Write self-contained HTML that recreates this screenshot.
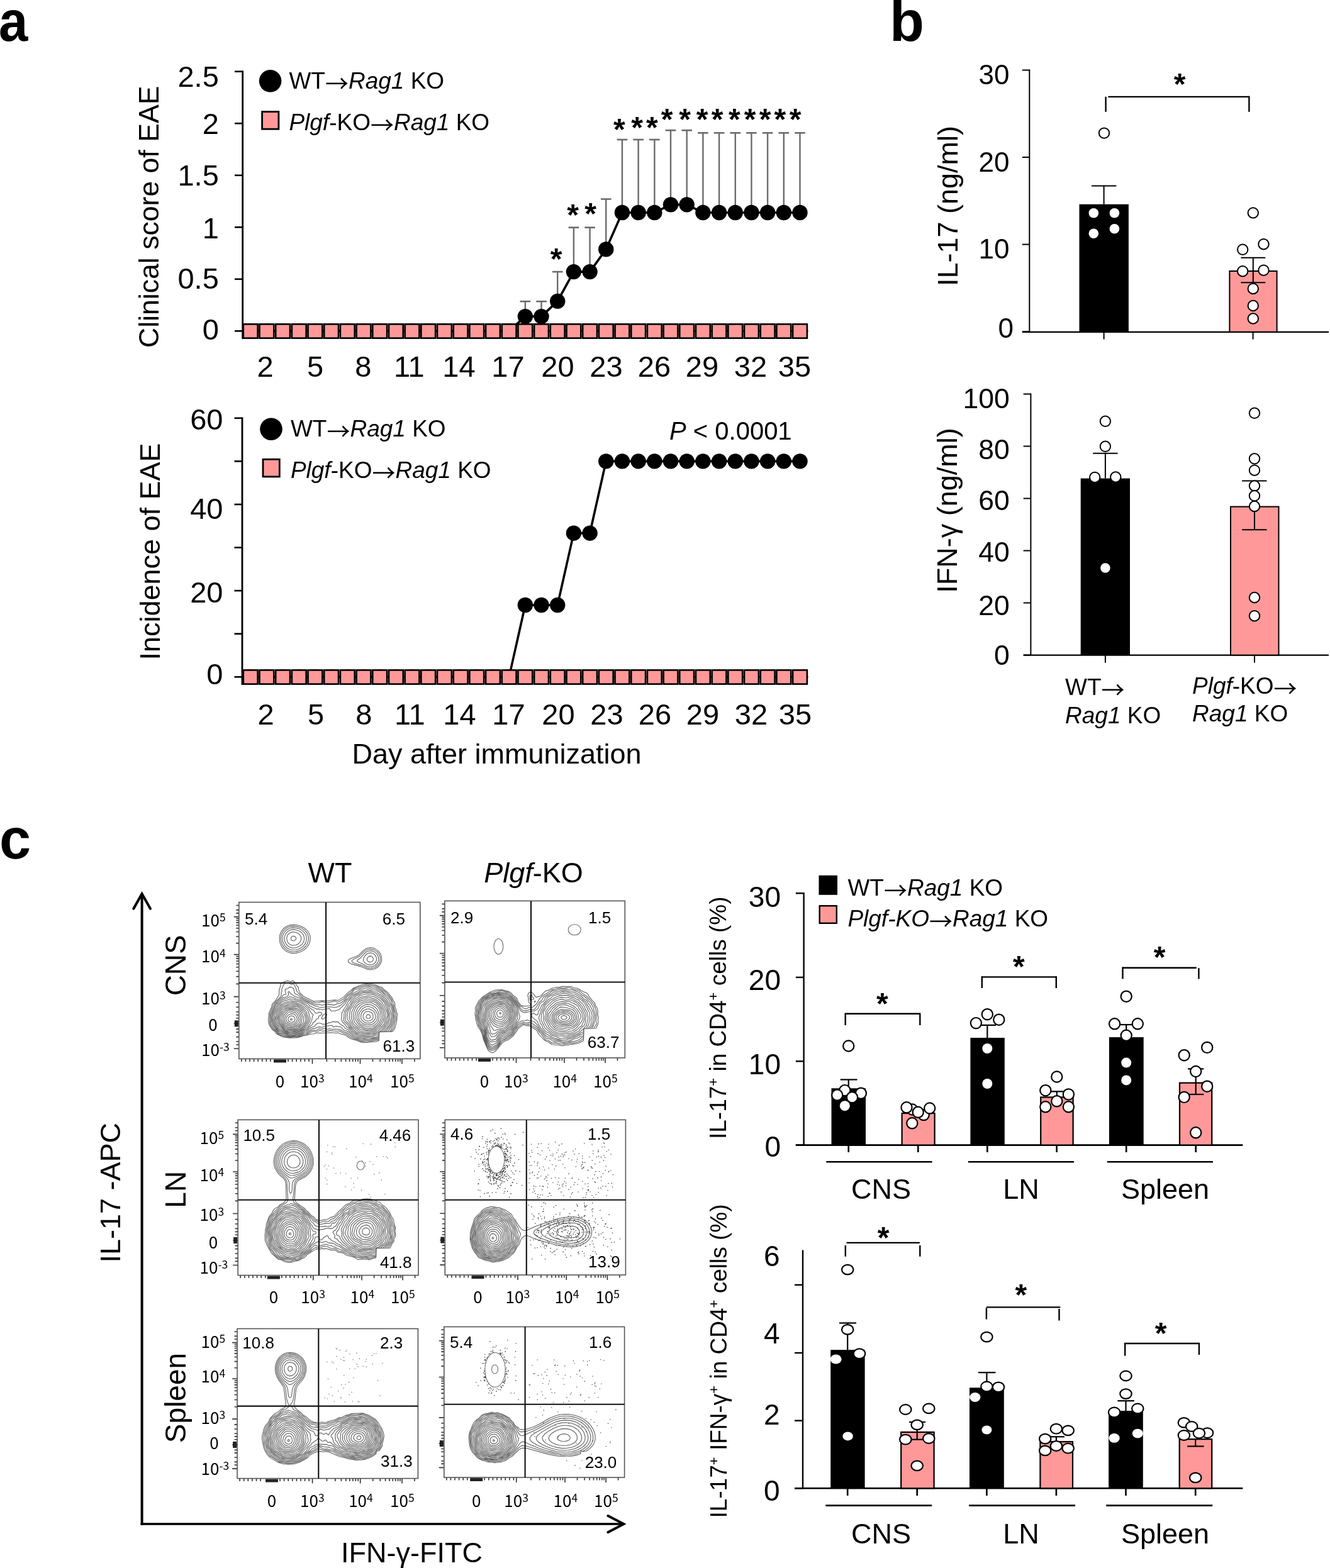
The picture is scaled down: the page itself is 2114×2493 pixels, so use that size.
<!DOCTYPE html>
<html><head><meta charset="utf-8"><title>Figure</title>
<style>
html,body{margin:0;padding:0;background:#fff;}
svg{display:block;}
svg{font-family:'Liberation Sans', Arial, sans-serif;}
text{fill:#000;}
</style></head>
<body>
<svg width="2114" height="2493" viewBox="0 0 2114 2493">
<rect x="0" y="0" width="2114" height="2493" fill="#fff"/>
<text transform="translate(-2 64.5) scale(0.925 1)" x="0" y="0" font-size="90" font-weight="bold">a</text>
<text x="1414" y="64.5" font-size="90" font-weight="bold">b</text>
<text x="-1" y="1364.5" font-size="90" font-weight="bold">c</text>
<line x1="385.7" y1="112.5" x2="385.7" y2="539" stroke="#000" stroke-width="2.8"/>
<line x1="373" y1="113.7" x2="385.7" y2="113.7" stroke="#000" stroke-width="2.6"/>
<line x1="373" y1="196.22" x2="385.7" y2="196.22" stroke="#000" stroke-width="2.6"/>
<line x1="373" y1="278.74" x2="385.7" y2="278.74" stroke="#000" stroke-width="2.6"/>
<line x1="373" y1="361.26" x2="385.7" y2="361.26" stroke="#000" stroke-width="2.6"/>
<line x1="373" y1="443.78" x2="385.7" y2="443.78" stroke="#000" stroke-width="2.6"/>
<line x1="373" y1="526.3" x2="385.7" y2="526.3" stroke="#000" stroke-width="2.6"/>
<text x="347.8" y="137.5" font-size="47" text-anchor="end">2.5</text>
<text x="347.8" y="212.6" font-size="47" text-anchor="end">2</text>
<text x="347.8" y="294.5" font-size="47" text-anchor="end">1.5</text>
<text x="347.8" y="378.5" font-size="47" text-anchor="end">1</text>
<text x="347.8" y="459" font-size="47" text-anchor="end">0.5</text>
<text x="347.8" y="540.2" font-size="47" text-anchor="end">0</text>
<text x="421.5" y="598.6" font-size="47" text-anchor="middle">2</text>
<text x="501" y="598.6" font-size="47" text-anchor="middle">5</text>
<text x="577.3" y="598.6" font-size="47" text-anchor="middle">8</text>
<text x="650.3" y="598.6" font-size="47" text-anchor="middle">11</text>
<text x="729.5" y="598.6" font-size="47" text-anchor="middle">14</text>
<text x="807.5" y="598.6" font-size="47" text-anchor="middle">17</text>
<text x="886.5" y="598.6" font-size="47" text-anchor="middle">20</text>
<text x="963.5" y="598.6" font-size="47" text-anchor="middle">23</text>
<text x="1040" y="598.6" font-size="47" text-anchor="middle">26</text>
<text x="1116" y="598.6" font-size="47" text-anchor="middle">29</text>
<text x="1193" y="598.6" font-size="47" text-anchor="middle">32</text>
<text x="1263" y="598.6" font-size="47" text-anchor="middle">35</text>
<text x="252.5" y="344.8" font-size="44.6" text-anchor="middle" transform="rotate(-90 252.5 344.8)">Clinical score of EAE</text>
<line x1="834.85" y1="503.1" x2="834.85" y2="479.2" stroke="#6b6b6b" stroke-width="2.4"/>
<line x1="826.55" y1="479.2" x2="843.14" y2="479.2" stroke="#6b6b6b" stroke-width="2.6"/>
<line x1="860.53" y1="503.1" x2="860.53" y2="479.2" stroke="#6b6b6b" stroke-width="2.4"/>
<line x1="852.23" y1="479.2" x2="868.83" y2="479.2" stroke="#6b6b6b" stroke-width="2.6"/>
<line x1="886.21" y1="478.9" x2="886.21" y2="432.1" stroke="#6b6b6b" stroke-width="2.4"/>
<line x1="877.91" y1="432.1" x2="894.51" y2="432.1" stroke="#6b6b6b" stroke-width="2.6"/>
<line x1="911.9" y1="432.1" x2="911.9" y2="361.7" stroke="#6b6b6b" stroke-width="2.4"/>
<line x1="903.6" y1="361.7" x2="920.2" y2="361.7" stroke="#6b6b6b" stroke-width="2.6"/>
<line x1="937.59" y1="432.1" x2="937.59" y2="361.7" stroke="#6b6b6b" stroke-width="2.4"/>
<line x1="929.29" y1="361.7" x2="945.88" y2="361.7" stroke="#6b6b6b" stroke-width="2.6"/>
<line x1="963.27" y1="396.4" x2="963.27" y2="316.5" stroke="#6b6b6b" stroke-width="2.4"/>
<line x1="954.97" y1="316.5" x2="971.57" y2="316.5" stroke="#6b6b6b" stroke-width="2.6"/>
<line x1="988.95" y1="338" x2="988.95" y2="222" stroke="#6b6b6b" stroke-width="2.4"/>
<line x1="980.65" y1="222" x2="997.25" y2="222" stroke="#6b6b6b" stroke-width="2.6"/>
<line x1="1014.64" y1="338" x2="1014.64" y2="222" stroke="#6b6b6b" stroke-width="2.4"/>
<line x1="1006.34" y1="222" x2="1022.94" y2="222" stroke="#6b6b6b" stroke-width="2.6"/>
<line x1="1040.33" y1="338" x2="1040.33" y2="222" stroke="#6b6b6b" stroke-width="2.4"/>
<line x1="1032.03" y1="222" x2="1048.62" y2="222" stroke="#6b6b6b" stroke-width="2.6"/>
<line x1="1066.01" y1="325.4" x2="1066.01" y2="207.2" stroke="#6b6b6b" stroke-width="2.4"/>
<line x1="1057.71" y1="207.2" x2="1074.31" y2="207.2" stroke="#6b6b6b" stroke-width="2.6"/>
<line x1="1091.69" y1="325.4" x2="1091.69" y2="207.2" stroke="#6b6b6b" stroke-width="2.4"/>
<line x1="1083.39" y1="207.2" x2="1099.99" y2="207.2" stroke="#6b6b6b" stroke-width="2.6"/>
<line x1="1117.38" y1="338" x2="1117.38" y2="211.3" stroke="#6b6b6b" stroke-width="2.4"/>
<line x1="1109.08" y1="211.3" x2="1125.68" y2="211.3" stroke="#6b6b6b" stroke-width="2.6"/>
<line x1="1143.07" y1="338" x2="1143.07" y2="211.3" stroke="#6b6b6b" stroke-width="2.4"/>
<line x1="1134.77" y1="211.3" x2="1151.37" y2="211.3" stroke="#6b6b6b" stroke-width="2.6"/>
<line x1="1168.75" y1="338" x2="1168.75" y2="211.3" stroke="#6b6b6b" stroke-width="2.4"/>
<line x1="1160.45" y1="211.3" x2="1177.05" y2="211.3" stroke="#6b6b6b" stroke-width="2.6"/>
<line x1="1194.43" y1="338" x2="1194.43" y2="211.3" stroke="#6b6b6b" stroke-width="2.4"/>
<line x1="1186.13" y1="211.3" x2="1202.73" y2="211.3" stroke="#6b6b6b" stroke-width="2.6"/>
<line x1="1220.12" y1="338" x2="1220.12" y2="211.3" stroke="#6b6b6b" stroke-width="2.4"/>
<line x1="1211.82" y1="211.3" x2="1228.42" y2="211.3" stroke="#6b6b6b" stroke-width="2.6"/>
<line x1="1245.8" y1="338" x2="1245.8" y2="211.3" stroke="#6b6b6b" stroke-width="2.4"/>
<line x1="1237.5" y1="211.3" x2="1254.1" y2="211.3" stroke="#6b6b6b" stroke-width="2.6"/>
<line x1="1271.49" y1="338" x2="1271.49" y2="211.3" stroke="#6b6b6b" stroke-width="2.4"/>
<line x1="1263.19" y1="211.3" x2="1279.79" y2="211.3" stroke="#6b6b6b" stroke-width="2.6"/>
<polyline points="398.2,526.3 423.88,526.3 449.57,526.3 475.25,526.3 500.94,526.3 526.62,526.3 552.31,526.3 578,526.3 603.68,526.3 629.37,526.3 655.05,526.3 680.73,526.3 706.42,526.3 732.11,526.3 757.79,526.3 783.47,526.3 809.16,526.3 834.85,503.1 860.53,503.1 886.21,478.9 911.9,432.1 937.59,432.1 963.27,396.4 988.95,338 1014.64,338 1040.33,338 1066.01,325.4 1091.69,325.4 1117.38,338 1143.07,338 1168.75,338 1194.43,338 1220.12,338 1245.8,338 1271.49,338" fill="none" stroke="#000" stroke-width="3.6"/>
<circle cx="398.2" cy="526.3" r="12.2" fill="#000" stroke="none" stroke-width="0"/>
<circle cx="423.88" cy="526.3" r="12.2" fill="#000" stroke="none" stroke-width="0"/>
<circle cx="449.57" cy="526.3" r="12.2" fill="#000" stroke="none" stroke-width="0"/>
<circle cx="475.25" cy="526.3" r="12.2" fill="#000" stroke="none" stroke-width="0"/>
<circle cx="500.94" cy="526.3" r="12.2" fill="#000" stroke="none" stroke-width="0"/>
<circle cx="526.62" cy="526.3" r="12.2" fill="#000" stroke="none" stroke-width="0"/>
<circle cx="552.31" cy="526.3" r="12.2" fill="#000" stroke="none" stroke-width="0"/>
<circle cx="578" cy="526.3" r="12.2" fill="#000" stroke="none" stroke-width="0"/>
<circle cx="603.68" cy="526.3" r="12.2" fill="#000" stroke="none" stroke-width="0"/>
<circle cx="629.37" cy="526.3" r="12.2" fill="#000" stroke="none" stroke-width="0"/>
<circle cx="655.05" cy="526.3" r="12.2" fill="#000" stroke="none" stroke-width="0"/>
<circle cx="680.73" cy="526.3" r="12.2" fill="#000" stroke="none" stroke-width="0"/>
<circle cx="706.42" cy="526.3" r="12.2" fill="#000" stroke="none" stroke-width="0"/>
<circle cx="732.11" cy="526.3" r="12.2" fill="#000" stroke="none" stroke-width="0"/>
<circle cx="757.79" cy="526.3" r="12.2" fill="#000" stroke="none" stroke-width="0"/>
<circle cx="783.47" cy="526.3" r="12.2" fill="#000" stroke="none" stroke-width="0"/>
<circle cx="809.16" cy="526.3" r="12.2" fill="#000" stroke="none" stroke-width="0"/>
<circle cx="834.85" cy="503.1" r="12.2" fill="#000" stroke="none" stroke-width="0"/>
<circle cx="860.53" cy="503.1" r="12.2" fill="#000" stroke="none" stroke-width="0"/>
<circle cx="886.21" cy="478.9" r="12.2" fill="#000" stroke="none" stroke-width="0"/>
<circle cx="911.9" cy="432.1" r="12.2" fill="#000" stroke="none" stroke-width="0"/>
<circle cx="937.59" cy="432.1" r="12.2" fill="#000" stroke="none" stroke-width="0"/>
<circle cx="963.27" cy="396.4" r="12.2" fill="#000" stroke="none" stroke-width="0"/>
<circle cx="988.95" cy="338" r="12.2" fill="#000" stroke="none" stroke-width="0"/>
<circle cx="1014.64" cy="338" r="12.2" fill="#000" stroke="none" stroke-width="0"/>
<circle cx="1040.33" cy="338" r="12.2" fill="#000" stroke="none" stroke-width="0"/>
<circle cx="1066.01" cy="325.4" r="12.2" fill="#000" stroke="none" stroke-width="0"/>
<circle cx="1091.69" cy="325.4" r="12.2" fill="#000" stroke="none" stroke-width="0"/>
<circle cx="1117.38" cy="338" r="12.2" fill="#000" stroke="none" stroke-width="0"/>
<circle cx="1143.07" cy="338" r="12.2" fill="#000" stroke="none" stroke-width="0"/>
<circle cx="1168.75" cy="338" r="12.2" fill="#000" stroke="none" stroke-width="0"/>
<circle cx="1194.43" cy="338" r="12.2" fill="#000" stroke="none" stroke-width="0"/>
<circle cx="1220.12" cy="338" r="12.2" fill="#000" stroke="none" stroke-width="0"/>
<circle cx="1245.8" cy="338" r="12.2" fill="#000" stroke="none" stroke-width="0"/>
<circle cx="1271.49" cy="338" r="12.2" fill="#000" stroke="none" stroke-width="0"/>
<line x1="386" y1="526.3" x2="1284.49" y2="526.3" stroke="#300" stroke-width="2.5"/>
<rect x="386.8" y="515.4" width="22.8" height="22.2" fill="#FF9999" stroke="#000" stroke-width="2.6"/>
<rect x="412.49" y="515.4" width="22.8" height="22.2" fill="#FF9999" stroke="#000" stroke-width="2.6"/>
<rect x="438.17" y="515.4" width="22.8" height="22.2" fill="#FF9999" stroke="#000" stroke-width="2.6"/>
<rect x="463.86" y="515.4" width="22.8" height="22.2" fill="#FF9999" stroke="#000" stroke-width="2.6"/>
<rect x="489.54" y="515.4" width="22.8" height="22.2" fill="#FF9999" stroke="#000" stroke-width="2.6"/>
<rect x="515.23" y="515.4" width="22.8" height="22.2" fill="#FF9999" stroke="#000" stroke-width="2.6"/>
<rect x="540.91" y="515.4" width="22.8" height="22.2" fill="#FF9999" stroke="#000" stroke-width="2.6"/>
<rect x="566.6" y="515.4" width="22.8" height="22.2" fill="#FF9999" stroke="#000" stroke-width="2.6"/>
<rect x="592.28" y="515.4" width="22.8" height="22.2" fill="#FF9999" stroke="#000" stroke-width="2.6"/>
<rect x="617.97" y="515.4" width="22.8" height="22.2" fill="#FF9999" stroke="#000" stroke-width="2.6"/>
<rect x="643.65" y="515.4" width="22.8" height="22.2" fill="#FF9999" stroke="#000" stroke-width="2.6"/>
<rect x="669.33" y="515.4" width="22.8" height="22.2" fill="#FF9999" stroke="#000" stroke-width="2.6"/>
<rect x="695.02" y="515.4" width="22.8" height="22.2" fill="#FF9999" stroke="#000" stroke-width="2.6"/>
<rect x="720.71" y="515.4" width="22.8" height="22.2" fill="#FF9999" stroke="#000" stroke-width="2.6"/>
<rect x="746.39" y="515.4" width="22.8" height="22.2" fill="#FF9999" stroke="#000" stroke-width="2.6"/>
<rect x="772.07" y="515.4" width="22.8" height="22.2" fill="#FF9999" stroke="#000" stroke-width="2.6"/>
<rect x="797.76" y="515.4" width="22.8" height="22.2" fill="#FF9999" stroke="#000" stroke-width="2.6"/>
<rect x="823.45" y="515.4" width="22.8" height="22.2" fill="#FF9999" stroke="#000" stroke-width="2.6"/>
<rect x="849.13" y="515.4" width="22.8" height="22.2" fill="#FF9999" stroke="#000" stroke-width="2.6"/>
<rect x="874.81" y="515.4" width="22.8" height="22.2" fill="#FF9999" stroke="#000" stroke-width="2.6"/>
<rect x="900.5" y="515.4" width="22.8" height="22.2" fill="#FF9999" stroke="#000" stroke-width="2.6"/>
<rect x="926.19" y="515.4" width="22.8" height="22.2" fill="#FF9999" stroke="#000" stroke-width="2.6"/>
<rect x="951.87" y="515.4" width="22.8" height="22.2" fill="#FF9999" stroke="#000" stroke-width="2.6"/>
<rect x="977.55" y="515.4" width="22.8" height="22.2" fill="#FF9999" stroke="#000" stroke-width="2.6"/>
<rect x="1003.24" y="515.4" width="22.8" height="22.2" fill="#FF9999" stroke="#000" stroke-width="2.6"/>
<rect x="1028.92" y="515.4" width="22.8" height="22.2" fill="#FF9999" stroke="#000" stroke-width="2.6"/>
<rect x="1054.61" y="515.4" width="22.8" height="22.2" fill="#FF9999" stroke="#000" stroke-width="2.6"/>
<rect x="1080.29" y="515.4" width="22.8" height="22.2" fill="#FF9999" stroke="#000" stroke-width="2.6"/>
<rect x="1105.98" y="515.4" width="22.8" height="22.2" fill="#FF9999" stroke="#000" stroke-width="2.6"/>
<rect x="1131.66" y="515.4" width="22.8" height="22.2" fill="#FF9999" stroke="#000" stroke-width="2.6"/>
<rect x="1157.35" y="515.4" width="22.8" height="22.2" fill="#FF9999" stroke="#000" stroke-width="2.6"/>
<rect x="1183.03" y="515.4" width="22.8" height="22.2" fill="#FF9999" stroke="#000" stroke-width="2.6"/>
<rect x="1208.72" y="515.4" width="22.8" height="22.2" fill="#FF9999" stroke="#000" stroke-width="2.6"/>
<rect x="1234.4" y="515.4" width="22.8" height="22.2" fill="#FF9999" stroke="#000" stroke-width="2.6"/>
<rect x="1260.09" y="515.4" width="22.8" height="22.2" fill="#FF9999" stroke="#000" stroke-width="2.6"/>
<text x="884.2" y="427.5" font-size="48" text-anchor="middle" font-weight="bold">*</text>
<text x="910.6" y="357.6" font-size="48" text-anchor="middle" font-weight="bold">*</text>
<text x="938.6" y="355.6" font-size="48" text-anchor="middle" font-weight="bold">*</text>
<text x="984.4" y="222" font-size="48" text-anchor="middle" font-weight="bold">*</text>
<text x="1012.6" y="219.3" font-size="48" text-anchor="middle" font-weight="bold">*</text>
<text x="1036.4" y="219.3" font-size="48" text-anchor="middle" font-weight="bold">*</text>
<text x="1060.2" y="205.8" font-size="48" text-anchor="middle" font-weight="bold">*</text>
<text x="1088.6" y="205.8" font-size="48" text-anchor="middle" font-weight="bold">*</text>
<text x="1116" y="205.8" font-size="48" text-anchor="middle" font-weight="bold">*</text>
<text x="1140.2" y="205.8" font-size="48" text-anchor="middle" font-weight="bold">*</text>
<text x="1167.4" y="205.8" font-size="48" text-anchor="middle" font-weight="bold">*</text>
<text x="1192.2" y="205.8" font-size="48" text-anchor="middle" font-weight="bold">*</text>
<text x="1216.2" y="205.8" font-size="48" text-anchor="middle" font-weight="bold">*</text>
<text x="1239.8" y="205.8" font-size="48" text-anchor="middle" font-weight="bold">*</text>
<text x="1264" y="205.8" font-size="48" text-anchor="middle" font-weight="bold">*</text>
<circle cx="429.6" cy="128.8" r="17.8" fill="#000" stroke="none" stroke-width="0"/>
<text x="459.4" y="141" font-size="37">WT<tspan font-family="'Noto Sans CJK JP', sans-serif" baseline-shift="-5.5">→</tspan><tspan font-style="italic">Rag1</tspan> KO</text>
<rect x="416.6" y="177.6" width="26.3" height="27.6" fill="#FF9999" stroke="#000" stroke-width="2.8"/>
<text x="459.4" y="206.8" font-size="37"><tspan font-style="italic">Plgf</tspan>-KO<tspan font-family="'Noto Sans CJK JP', sans-serif" baseline-shift="-5.5">→</tspan><tspan font-style="italic">Rag1</tspan> KO</text>
<line x1="385" y1="663.5" x2="385" y2="1089" stroke="#000" stroke-width="2.8"/>
<line x1="372.5" y1="664.8" x2="385" y2="664.8" stroke="#000" stroke-width="2.6"/>
<line x1="372.5" y1="733.38" x2="385" y2="733.38" stroke="#000" stroke-width="2.6"/>
<line x1="372.5" y1="801.96" x2="385" y2="801.96" stroke="#000" stroke-width="2.6"/>
<line x1="372.5" y1="870.54" x2="385" y2="870.54" stroke="#000" stroke-width="2.6"/>
<line x1="372.5" y1="939.12" x2="385" y2="939.12" stroke="#000" stroke-width="2.6"/>
<line x1="372.5" y1="1007.7" x2="385" y2="1007.7" stroke="#000" stroke-width="2.6"/>
<line x1="372.5" y1="1076.28" x2="385" y2="1076.28" stroke="#000" stroke-width="2.6"/>
<text x="354.5" y="682.6" font-size="47" text-anchor="end">60</text>
<text x="354.5" y="824.7" font-size="47" text-anchor="end">40</text>
<text x="354.5" y="957.8" font-size="47" text-anchor="end">20</text>
<text x="354.5" y="1087.5" font-size="47" text-anchor="end">0</text>
<text x="422.5" y="1151.5" font-size="47" text-anchor="middle">2</text>
<text x="502" y="1151.5" font-size="47" text-anchor="middle">5</text>
<text x="578.3" y="1151.5" font-size="47" text-anchor="middle">8</text>
<text x="651.3" y="1151.5" font-size="47" text-anchor="middle">11</text>
<text x="730.5" y="1151.5" font-size="47" text-anchor="middle">14</text>
<text x="808.5" y="1151.5" font-size="47" text-anchor="middle">17</text>
<text x="887.5" y="1151.5" font-size="47" text-anchor="middle">20</text>
<text x="964.5" y="1151.5" font-size="47" text-anchor="middle">23</text>
<text x="1041" y="1151.5" font-size="47" text-anchor="middle">26</text>
<text x="1117" y="1151.5" font-size="47" text-anchor="middle">29</text>
<text x="1194" y="1151.5" font-size="47" text-anchor="middle">32</text>
<text x="1264" y="1151.5" font-size="47" text-anchor="middle">35</text>
<text x="789.5" y="1213.7" font-size="45" text-anchor="middle">Day after immunization</text>
<text x="254" y="877" font-size="45" text-anchor="middle" transform="rotate(-90 254 877)">Incidence of EAE</text>
<polyline points="398.2,1076.3 423.88,1076.3 449.57,1076.3 475.25,1076.3 500.94,1076.3 526.62,1076.3 552.31,1076.3 578,1076.3 603.68,1076.3 629.37,1076.3 655.05,1076.3 680.73,1076.3 706.42,1076.3 732.11,1076.3 757.79,1076.3 783.47,1076.3 809.16,1076.3 834.85,962 860.53,962 886.21,962 911.9,847.7 937.59,847.7 963.27,733.4 988.95,733.4 1014.64,733.4 1040.33,733.4 1066.01,733.4 1091.69,733.4 1117.38,733.4 1143.07,733.4 1168.75,733.4 1194.43,733.4 1220.12,733.4 1245.8,733.4 1271.49,733.4" fill="none" stroke="#000" stroke-width="3.6"/>
<circle cx="398.2" cy="1076.3" r="12.2" fill="#000" stroke="none" stroke-width="0"/>
<circle cx="423.88" cy="1076.3" r="12.2" fill="#000" stroke="none" stroke-width="0"/>
<circle cx="449.57" cy="1076.3" r="12.2" fill="#000" stroke="none" stroke-width="0"/>
<circle cx="475.25" cy="1076.3" r="12.2" fill="#000" stroke="none" stroke-width="0"/>
<circle cx="500.94" cy="1076.3" r="12.2" fill="#000" stroke="none" stroke-width="0"/>
<circle cx="526.62" cy="1076.3" r="12.2" fill="#000" stroke="none" stroke-width="0"/>
<circle cx="552.31" cy="1076.3" r="12.2" fill="#000" stroke="none" stroke-width="0"/>
<circle cx="578" cy="1076.3" r="12.2" fill="#000" stroke="none" stroke-width="0"/>
<circle cx="603.68" cy="1076.3" r="12.2" fill="#000" stroke="none" stroke-width="0"/>
<circle cx="629.37" cy="1076.3" r="12.2" fill="#000" stroke="none" stroke-width="0"/>
<circle cx="655.05" cy="1076.3" r="12.2" fill="#000" stroke="none" stroke-width="0"/>
<circle cx="680.73" cy="1076.3" r="12.2" fill="#000" stroke="none" stroke-width="0"/>
<circle cx="706.42" cy="1076.3" r="12.2" fill="#000" stroke="none" stroke-width="0"/>
<circle cx="732.11" cy="1076.3" r="12.2" fill="#000" stroke="none" stroke-width="0"/>
<circle cx="757.79" cy="1076.3" r="12.2" fill="#000" stroke="none" stroke-width="0"/>
<circle cx="783.47" cy="1076.3" r="12.2" fill="#000" stroke="none" stroke-width="0"/>
<circle cx="809.16" cy="1076.3" r="12.2" fill="#000" stroke="none" stroke-width="0"/>
<circle cx="834.85" cy="962" r="12.2" fill="#000" stroke="none" stroke-width="0"/>
<circle cx="860.53" cy="962" r="12.2" fill="#000" stroke="none" stroke-width="0"/>
<circle cx="886.21" cy="962" r="12.2" fill="#000" stroke="none" stroke-width="0"/>
<circle cx="911.9" cy="847.7" r="12.2" fill="#000" stroke="none" stroke-width="0"/>
<circle cx="937.59" cy="847.7" r="12.2" fill="#000" stroke="none" stroke-width="0"/>
<circle cx="963.27" cy="733.4" r="12.2" fill="#000" stroke="none" stroke-width="0"/>
<circle cx="988.95" cy="733.4" r="12.2" fill="#000" stroke="none" stroke-width="0"/>
<circle cx="1014.64" cy="733.4" r="12.2" fill="#000" stroke="none" stroke-width="0"/>
<circle cx="1040.33" cy="733.4" r="12.2" fill="#000" stroke="none" stroke-width="0"/>
<circle cx="1066.01" cy="733.4" r="12.2" fill="#000" stroke="none" stroke-width="0"/>
<circle cx="1091.69" cy="733.4" r="12.2" fill="#000" stroke="none" stroke-width="0"/>
<circle cx="1117.38" cy="733.4" r="12.2" fill="#000" stroke="none" stroke-width="0"/>
<circle cx="1143.07" cy="733.4" r="12.2" fill="#000" stroke="none" stroke-width="0"/>
<circle cx="1168.75" cy="733.4" r="12.2" fill="#000" stroke="none" stroke-width="0"/>
<circle cx="1194.43" cy="733.4" r="12.2" fill="#000" stroke="none" stroke-width="0"/>
<circle cx="1220.12" cy="733.4" r="12.2" fill="#000" stroke="none" stroke-width="0"/>
<circle cx="1245.8" cy="733.4" r="12.2" fill="#000" stroke="none" stroke-width="0"/>
<circle cx="1271.49" cy="733.4" r="12.2" fill="#000" stroke="none" stroke-width="0"/>
<line x1="385" y1="1076.3" x2="1284.49" y2="1076.3" stroke="#300" stroke-width="2.5"/>
<rect x="386.8" y="1065.4" width="22.8" height="22.2" fill="#FF9999" stroke="#000" stroke-width="2.6"/>
<rect x="412.49" y="1065.4" width="22.8" height="22.2" fill="#FF9999" stroke="#000" stroke-width="2.6"/>
<rect x="438.17" y="1065.4" width="22.8" height="22.2" fill="#FF9999" stroke="#000" stroke-width="2.6"/>
<rect x="463.86" y="1065.4" width="22.8" height="22.2" fill="#FF9999" stroke="#000" stroke-width="2.6"/>
<rect x="489.54" y="1065.4" width="22.8" height="22.2" fill="#FF9999" stroke="#000" stroke-width="2.6"/>
<rect x="515.23" y="1065.4" width="22.8" height="22.2" fill="#FF9999" stroke="#000" stroke-width="2.6"/>
<rect x="540.91" y="1065.4" width="22.8" height="22.2" fill="#FF9999" stroke="#000" stroke-width="2.6"/>
<rect x="566.6" y="1065.4" width="22.8" height="22.2" fill="#FF9999" stroke="#000" stroke-width="2.6"/>
<rect x="592.28" y="1065.4" width="22.8" height="22.2" fill="#FF9999" stroke="#000" stroke-width="2.6"/>
<rect x="617.97" y="1065.4" width="22.8" height="22.2" fill="#FF9999" stroke="#000" stroke-width="2.6"/>
<rect x="643.65" y="1065.4" width="22.8" height="22.2" fill="#FF9999" stroke="#000" stroke-width="2.6"/>
<rect x="669.33" y="1065.4" width="22.8" height="22.2" fill="#FF9999" stroke="#000" stroke-width="2.6"/>
<rect x="695.02" y="1065.4" width="22.8" height="22.2" fill="#FF9999" stroke="#000" stroke-width="2.6"/>
<rect x="720.71" y="1065.4" width="22.8" height="22.2" fill="#FF9999" stroke="#000" stroke-width="2.6"/>
<rect x="746.39" y="1065.4" width="22.8" height="22.2" fill="#FF9999" stroke="#000" stroke-width="2.6"/>
<rect x="772.07" y="1065.4" width="22.8" height="22.2" fill="#FF9999" stroke="#000" stroke-width="2.6"/>
<rect x="797.76" y="1065.4" width="22.8" height="22.2" fill="#FF9999" stroke="#000" stroke-width="2.6"/>
<rect x="823.45" y="1065.4" width="22.8" height="22.2" fill="#FF9999" stroke="#000" stroke-width="2.6"/>
<rect x="849.13" y="1065.4" width="22.8" height="22.2" fill="#FF9999" stroke="#000" stroke-width="2.6"/>
<rect x="874.81" y="1065.4" width="22.8" height="22.2" fill="#FF9999" stroke="#000" stroke-width="2.6"/>
<rect x="900.5" y="1065.4" width="22.8" height="22.2" fill="#FF9999" stroke="#000" stroke-width="2.6"/>
<rect x="926.19" y="1065.4" width="22.8" height="22.2" fill="#FF9999" stroke="#000" stroke-width="2.6"/>
<rect x="951.87" y="1065.4" width="22.8" height="22.2" fill="#FF9999" stroke="#000" stroke-width="2.6"/>
<rect x="977.55" y="1065.4" width="22.8" height="22.2" fill="#FF9999" stroke="#000" stroke-width="2.6"/>
<rect x="1003.24" y="1065.4" width="22.8" height="22.2" fill="#FF9999" stroke="#000" stroke-width="2.6"/>
<rect x="1028.92" y="1065.4" width="22.8" height="22.2" fill="#FF9999" stroke="#000" stroke-width="2.6"/>
<rect x="1054.61" y="1065.4" width="22.8" height="22.2" fill="#FF9999" stroke="#000" stroke-width="2.6"/>
<rect x="1080.29" y="1065.4" width="22.8" height="22.2" fill="#FF9999" stroke="#000" stroke-width="2.6"/>
<rect x="1105.98" y="1065.4" width="22.8" height="22.2" fill="#FF9999" stroke="#000" stroke-width="2.6"/>
<rect x="1131.66" y="1065.4" width="22.8" height="22.2" fill="#FF9999" stroke="#000" stroke-width="2.6"/>
<rect x="1157.35" y="1065.4" width="22.8" height="22.2" fill="#FF9999" stroke="#000" stroke-width="2.6"/>
<rect x="1183.03" y="1065.4" width="22.8" height="22.2" fill="#FF9999" stroke="#000" stroke-width="2.6"/>
<rect x="1208.72" y="1065.4" width="22.8" height="22.2" fill="#FF9999" stroke="#000" stroke-width="2.6"/>
<rect x="1234.4" y="1065.4" width="22.8" height="22.2" fill="#FF9999" stroke="#000" stroke-width="2.6"/>
<rect x="1260.09" y="1065.4" width="22.8" height="22.2" fill="#FF9999" stroke="#000" stroke-width="2.6"/>
<text x="1064" y="698.6" font-size="40"><tspan font-style="italic">P</tspan> &lt; 0.0001</text>
<circle cx="431" cy="682.2" r="17.8" fill="#000" stroke="none" stroke-width="0"/>
<text x="461.9" y="694.4" font-size="37">WT<tspan font-family="'Noto Sans CJK JP', sans-serif" baseline-shift="-5.5">→</tspan><tspan font-style="italic">Rag1</tspan> KO</text>
<rect x="418" y="730.3" width="26.3" height="27.6" fill="#FF9999" stroke="#000" stroke-width="2.8"/>
<text x="461.9" y="759.5" font-size="37"><tspan font-style="italic">Plgf</tspan>-KO<tspan font-family="'Noto Sans CJK JP', sans-serif" baseline-shift="-5.5">→</tspan><tspan font-style="italic">Rag1</tspan> KO</text>
<line x1="1636.3" y1="110.6" x2="1636.3" y2="528" stroke="#000" stroke-width="2"/>
<line x1="1624.8" y1="111.5" x2="1636.3" y2="111.5" stroke="#000" stroke-width="2"/>
<line x1="1624.8" y1="250" x2="1636.3" y2="250" stroke="#000" stroke-width="2"/>
<line x1="1624.8" y1="388.6" x2="1636.3" y2="388.6" stroke="#000" stroke-width="2"/>
<line x1="1624.8" y1="527.3" x2="1636.3" y2="527.3" stroke="#000" stroke-width="2"/>
<line x1="1624.8" y1="527.8" x2="2112" y2="527.8" stroke="#000" stroke-width="2.2"/>
<line x1="1754.6" y1="527.8" x2="1754.6" y2="539.5" stroke="#000" stroke-width="2"/>
<line x1="1991.6" y1="527.8" x2="1991.6" y2="539.5" stroke="#000" stroke-width="2"/>
<text x="1604.5" y="133.5" font-size="44" text-anchor="end">30</text>
<text x="1604.5" y="272.5" font-size="44" text-anchor="end">20</text>
<text x="1604.5" y="410.5" font-size="44" text-anchor="end">10</text>
<text x="1611" y="536.5" font-size="44" text-anchor="end">0</text>
<text x="1522" y="327.5" font-size="45" text-anchor="middle" transform="rotate(-90 1522 327.5)">IL-17 (ng/ml)</text>
<rect x="1715.5" y="324.8" width="78.4" height="203" fill="#000" stroke="none" stroke-width="0"/>
<line x1="1754.6" y1="324.8" x2="1754.6" y2="295.6" stroke="#000" stroke-width="2"/>
<line x1="1735" y1="295.6" x2="1774.4" y2="295.6" stroke="#000" stroke-width="2"/>
<circle cx="1738.3" cy="338.8" r="7.8" fill="#fff" stroke="none" stroke-width="0"/>
<circle cx="1771.4" cy="338.8" r="7.8" fill="#fff" stroke="none" stroke-width="0"/>
<circle cx="1738.3" cy="371.3" r="7.8" fill="#fff" stroke="none" stroke-width="0"/>
<circle cx="1771.4" cy="363.7" r="7.8" fill="#fff" stroke="none" stroke-width="0"/>
<circle cx="1755" cy="211.6" r="8.2" fill="#fff" stroke="#000" stroke-width="2"/>
<rect x="1954.4" y="431" width="75.2" height="96.8" fill="#FF9999" stroke="#000" stroke-width="2"/>
<line x1="1991.8" y1="409.8" x2="1991.8" y2="449.2" stroke="#000" stroke-width="2"/>
<line x1="1972.4" y1="409.8" x2="2011.3" y2="409.8" stroke="#000" stroke-width="2"/>
<line x1="1972.4" y1="449.2" x2="2011.3" y2="449.2" stroke="#000" stroke-width="2"/>
<circle cx="1991.8" cy="338.4" r="8.2" fill="#fff" stroke="#000" stroke-width="2"/>
<circle cx="1975.2" cy="396.8" r="8.2" fill="#fff" stroke="#000" stroke-width="2"/>
<circle cx="2008.5" cy="388.2" r="8.2" fill="#fff" stroke="#000" stroke-width="2"/>
<circle cx="1975.2" cy="431.2" r="8.2" fill="#fff" stroke="#000" stroke-width="2"/>
<circle cx="2008.5" cy="429.7" r="8.2" fill="#fff" stroke="#000" stroke-width="2"/>
<circle cx="1991.8" cy="458.9" r="8.2" fill="#fff" stroke="#000" stroke-width="2"/>
<circle cx="1991.8" cy="486" r="8.2" fill="#fff" stroke="#000" stroke-width="2"/>
<circle cx="1991.8" cy="506.5" r="8.2" fill="#fff" stroke="#000" stroke-width="2"/>
<line x1="1761.4" y1="153.8" x2="1986" y2="153.8" stroke="#000" stroke-width="2.2"/>
<line x1="1757.6" y1="153.8" x2="1757.6" y2="177.8" stroke="#000" stroke-width="2.4"/>
<line x1="1985.4" y1="152.8" x2="1985.4" y2="177.8" stroke="#000" stroke-width="2.4"/>
<text x="1875.2" y="150.3" font-size="48" text-anchor="middle" font-weight="bold">*</text>
<line x1="1638.4" y1="625.6" x2="1638.4" y2="1042" stroke="#000" stroke-width="2"/>
<line x1="1626.7" y1="626.5" x2="1638.4" y2="626.5" stroke="#000" stroke-width="2"/>
<line x1="1626.7" y1="709.5" x2="1638.4" y2="709.5" stroke="#000" stroke-width="2"/>
<line x1="1626.7" y1="792.5" x2="1638.4" y2="792.5" stroke="#000" stroke-width="2"/>
<line x1="1626.7" y1="875.5" x2="1638.4" y2="875.5" stroke="#000" stroke-width="2"/>
<line x1="1626.7" y1="958.5" x2="1638.4" y2="958.5" stroke="#000" stroke-width="2"/>
<line x1="1626.7" y1="1041.5" x2="1638.4" y2="1041.5" stroke="#000" stroke-width="2"/>
<line x1="1626.7" y1="1041.6" x2="2112" y2="1041.6" stroke="#000" stroke-width="2.2"/>
<line x1="1756.9" y1="1041.6" x2="1756.9" y2="1053.8" stroke="#000" stroke-width="2"/>
<line x1="1994" y1="1041.6" x2="1994" y2="1053.8" stroke="#000" stroke-width="2"/>
<text x="1604.8" y="648.6" font-size="44.5" text-anchor="end">100</text>
<text x="1604.8" y="729.5" font-size="44.5" text-anchor="end">80</text>
<text x="1604.8" y="811.3" font-size="44.5" text-anchor="end">60</text>
<text x="1604.8" y="892.5" font-size="44.5" text-anchor="end">40</text>
<text x="1604.8" y="978" font-size="44.5" text-anchor="end">20</text>
<text x="1604.8" y="1056.7" font-size="44.5" text-anchor="end">0</text>
<text x="1521" y="811.5" font-size="45" text-anchor="middle" transform="rotate(-90 1521 811.5)">IFN-γ (ng/ml)</text>
<rect x="1717.7" y="760.6" width="78.3" height="281" fill="#000" stroke="none" stroke-width="0"/>
<line x1="1756.9" y1="760.6" x2="1756.9" y2="720.8" stroke="#000" stroke-width="2"/>
<line x1="1737.2" y1="720.8" x2="1776.6" y2="720.8" stroke="#000" stroke-width="2"/>
<circle cx="1756.9" cy="903" r="7.8" fill="#fff" stroke="none" stroke-width="0"/>
<circle cx="1756.9" cy="669.8" r="8.2" fill="#fff" stroke="#000" stroke-width="2"/>
<circle cx="1756.9" cy="709.8" r="8.2" fill="#fff" stroke="#000" stroke-width="2"/>
<circle cx="1740.2" cy="758.9" r="8.2" fill="#fff" stroke="#000" stroke-width="2"/>
<circle cx="1773.3" cy="758.5" r="8.2" fill="#fff" stroke="#000" stroke-width="2"/>
<rect x="1956" y="805.6" width="76.5" height="236" fill="#FF9999" stroke="#000" stroke-width="2"/>
<line x1="1994" y1="764.5" x2="1994" y2="842.2" stroke="#000" stroke-width="2"/>
<line x1="1974.1" y1="764.5" x2="2013.5" y2="764.5" stroke="#000" stroke-width="2"/>
<line x1="1974.1" y1="842.2" x2="2013.5" y2="842.2" stroke="#000" stroke-width="2"/>
<circle cx="1994" cy="656.8" r="8.2" fill="#fff" stroke="#000" stroke-width="2"/>
<circle cx="1994" cy="729.3" r="8.2" fill="#fff" stroke="#000" stroke-width="2"/>
<circle cx="1994" cy="747.7" r="8.2" fill="#fff" stroke="#000" stroke-width="2"/>
<circle cx="1994" cy="772.5" r="8.2" fill="#fff" stroke="#000" stroke-width="2"/>
<circle cx="1994" cy="788.3" r="8.2" fill="#fff" stroke="#000" stroke-width="2"/>
<circle cx="1994" cy="805" r="8.2" fill="#fff" stroke="#000" stroke-width="2"/>
<circle cx="1994" cy="950" r="8.2" fill="#fff" stroke="#000" stroke-width="2"/>
<circle cx="1994" cy="979.2" r="8.2" fill="#fff" stroke="#000" stroke-width="2"/>
<text x="1693" y="1105.4" font-size="37">WT<tspan font-family="'Noto Sans CJK JP', sans-serif" baseline-shift="-5.5">→</tspan></text>
<text x="1693" y="1149.6" font-size="37"><tspan font-style="italic">Rag1</tspan> KO</text>
<text x="1895" y="1102.6" font-size="37"><tspan font-style="italic">Plgf</tspan>-KO<tspan font-family="'Noto Sans CJK JP', sans-serif" baseline-shift="-5.5">→</tspan></text>
<text x="1895" y="1147.3" font-size="37"><tspan font-style="italic">Rag1</tspan> KO</text>
<line x1="1277.6" y1="1419" x2="1277.6" y2="1820.6" stroke="#000" stroke-width="2.4"/>
<line x1="1264.8" y1="1420.2" x2="1277.6" y2="1420.2" stroke="#000" stroke-width="2.4"/>
<line x1="1264.8" y1="1553.9" x2="1277.6" y2="1553.9" stroke="#000" stroke-width="2.4"/>
<line x1="1264.8" y1="1687.3" x2="1277.6" y2="1687.3" stroke="#000" stroke-width="2.4"/>
<line x1="1264.8" y1="1820.6" x2="1277.6" y2="1820.6" stroke="#000" stroke-width="2.4"/>
<line x1="1264.8" y1="1820.6" x2="1975.4" y2="1820.6" stroke="#000" stroke-width="2.6"/>
<line x1="1348.7" y1="1820.6" x2="1348.7" y2="1832" stroke="#000" stroke-width="2.6"/>
<line x1="1459.3" y1="1820.6" x2="1459.3" y2="1832" stroke="#000" stroke-width="2.6"/>
<line x1="1569.3" y1="1820.6" x2="1569.3" y2="1832" stroke="#000" stroke-width="2.6"/>
<line x1="1679.6" y1="1820.6" x2="1679.6" y2="1832" stroke="#000" stroke-width="2.6"/>
<line x1="1790.2" y1="1820.6" x2="1790.2" y2="1832" stroke="#000" stroke-width="2.6"/>
<line x1="1900.7" y1="1820.6" x2="1900.7" y2="1832" stroke="#000" stroke-width="2.6"/>
<text x="1241" y="1441.6" font-size="46" text-anchor="end">30</text>
<text x="1241" y="1574.3" font-size="46" text-anchor="end">20</text>
<text x="1241" y="1708" font-size="46" text-anchor="end">10</text>
<text x="1241" y="1839" font-size="46" text-anchor="end">0</text>
<line x1="1313.3" y1="1847.2" x2="1481.6" y2="1847.2" stroke="#000" stroke-width="2.6"/>
<line x1="1538.8" y1="1847.2" x2="1707.1" y2="1847.2" stroke="#000" stroke-width="2.6"/>
<line x1="1759.7" y1="1847.2" x2="1928" y2="1847.2" stroke="#000" stroke-width="2.6"/>
<text x="1400.5" y="1906" font-size="45" text-anchor="middle">CNS</text>
<text x="1623" y="1906" font-size="45" text-anchor="middle">LN</text>
<text x="1852" y="1906" font-size="45" text-anchor="middle">Spleen</text>
<text x="1154.5" y="1618.2" font-size="37" text-anchor="middle" transform="rotate(-90 1154.5 1618.2)">IL-17<tspan font-size="22" dy="-13">+</tspan><tspan dy="13"> in CD4</tspan><tspan font-size="22" dy="-13">+</tspan><tspan dy="13"> cells (%)</tspan></text>
<rect x="1301.5" y="1391.8" width="29.5" height="31" fill="#000" stroke="none" stroke-width="0"/>
<text x="1347.4" y="1423.8" font-size="37">WT<tspan font-family="'Noto Sans CJK JP', sans-serif" baseline-shift="-5.5">→</tspan><tspan font-style="italic">Rag1</tspan> KO</text>
<rect x="1302.7" y="1440.2" width="27.1" height="27.6" fill="#FF9999" stroke="#000" stroke-width="2.4"/>
<text x="1347.4" y="1473.3" font-size="37"><tspan font-style="italic">Plgf-KO</tspan><tspan font-family="'Noto Sans CJK JP', sans-serif" baseline-shift="-5.5">→</tspan><tspan font-style="italic">Rag1</tspan> KO</text>
<rect x="1321.5" y="1730.3" width="54.5" height="90.3" fill="#000" stroke="none" stroke-width="0"/>
<line x1="1348.7" y1="1730.3" x2="1348.7" y2="1716.5" stroke="#000" stroke-width="2.2"/>
<line x1="1335.7" y1="1716.5" x2="1362.6" y2="1716.5" stroke="#000" stroke-width="2.2"/>
<circle cx="1348.7" cy="1663" r="8.6" fill="#fff" stroke="#000" stroke-width="2.2"/>
<circle cx="1342.8" cy="1733.6" r="8.6" fill="#fff" stroke="#000" stroke-width="2.2"/>
<circle cx="1330.7" cy="1741" r="8.6" fill="#fff" stroke="#000" stroke-width="2.2"/>
<circle cx="1368.4" cy="1738.3" r="8.6" fill="#fff" stroke="#000" stroke-width="2.2"/>
<circle cx="1354.5" cy="1744.7" r="8.6" fill="#fff" stroke="#000" stroke-width="2.2"/>
<circle cx="1342.8" cy="1758.2" r="8" fill="#fff" stroke="none" stroke-width="0"/>
<rect x="1433.6" y="1770" width="52" height="50.6" fill="#FF9999" stroke="#000" stroke-width="2.2"/>
<circle cx="1450" cy="1764" r="8.6" fill="#fff" stroke="#000" stroke-width="2.2"/>
<circle cx="1468.2" cy="1772.6" r="8.6" fill="#fff" stroke="#000" stroke-width="2.2"/>
<circle cx="1441" cy="1760.8" r="8.6" fill="#fff" stroke="#000" stroke-width="2.2"/>
<circle cx="1477.7" cy="1762" r="8.6" fill="#fff" stroke="#000" stroke-width="2.2"/>
<circle cx="1459.2" cy="1768.3" r="8.6" fill="#fff" stroke="#000" stroke-width="2.2"/>
<circle cx="1449.8" cy="1785.8" r="8.6" fill="#fff" stroke="#000" stroke-width="2.2"/>
<line x1="1343.7" y1="1611.8" x2="1462.3" y2="1611.8" stroke="#000" stroke-width="2.4"/>
<line x1="1343.7" y1="1610.6" x2="1343.7" y2="1630" stroke="#000" stroke-width="2.4"/>
<line x1="1462.3" y1="1610.6" x2="1462.3" y2="1630" stroke="#000" stroke-width="2.4"/>
<text x="1402.3" y="1612" font-size="48" text-anchor="middle" font-weight="bold">*</text>
<rect x="1542.4" y="1650" width="54.4" height="170.6" fill="#000" stroke="none" stroke-width="0"/>
<line x1="1569.3" y1="1650" x2="1569.3" y2="1629.9" stroke="#000" stroke-width="2.2"/>
<line x1="1556" y1="1629.9" x2="1583" y2="1629.9" stroke="#000" stroke-width="2.2"/>
<circle cx="1569.3" cy="1612.7" r="8.6" fill="#fff" stroke="#000" stroke-width="2.2"/>
<circle cx="1551.4" cy="1626.6" r="8.6" fill="#fff" stroke="#000" stroke-width="2.2"/>
<circle cx="1587.8" cy="1621.2" r="8.6" fill="#fff" stroke="#000" stroke-width="2.2"/>
<circle cx="1569.3" cy="1667" r="8" fill="#fff" stroke="none" stroke-width="0"/>
<circle cx="1569.3" cy="1723" r="8" fill="#fff" stroke="none" stroke-width="0"/>
<rect x="1654.2" y="1744.5" width="51.4" height="76.1" fill="#FF9999" stroke="#000" stroke-width="2.2"/>
<line x1="1679.8" y1="1744.5" x2="1679.8" y2="1735.3" stroke="#000" stroke-width="2.2"/>
<line x1="1662" y1="1735.3" x2="1698" y2="1735.3" stroke="#000" stroke-width="2.2"/>
<circle cx="1679.8" cy="1712" r="8.6" fill="#fff" stroke="#000" stroke-width="2.2"/>
<circle cx="1661.8" cy="1733.7" r="8.6" fill="#fff" stroke="#000" stroke-width="2.2"/>
<circle cx="1698.4" cy="1739.9" r="8.6" fill="#fff" stroke="#000" stroke-width="2.2"/>
<circle cx="1679.8" cy="1750.8" r="8.6" fill="#fff" stroke="#000" stroke-width="2.2"/>
<circle cx="1661.8" cy="1759.8" r="8.6" fill="#fff" stroke="#000" stroke-width="2.2"/>
<circle cx="1698.4" cy="1759.8" r="8.6" fill="#fff" stroke="#000" stroke-width="2.2"/>
<line x1="1560.8" y1="1553.4" x2="1678.8" y2="1553.4" stroke="#000" stroke-width="2.4"/>
<line x1="1560.8" y1="1552.2" x2="1560.8" y2="1571" stroke="#000" stroke-width="2.4"/>
<line x1="1678.8" y1="1552.2" x2="1678.8" y2="1571" stroke="#000" stroke-width="2.4"/>
<text x="1619.3" y="1553" font-size="48" text-anchor="middle" font-weight="bold">*</text>
<rect x="1762.9" y="1649.1" width="54.8" height="171.5" fill="#000" stroke="none" stroke-width="0"/>
<line x1="1790.2" y1="1649.1" x2="1790.2" y2="1629.1" stroke="#000" stroke-width="2.2"/>
<line x1="1777" y1="1629.1" x2="1803.5" y2="1629.1" stroke="#000" stroke-width="2.2"/>
<circle cx="1790.2" cy="1584.2" r="8.6" fill="#fff" stroke="#000" stroke-width="2.2"/>
<circle cx="1771.6" cy="1627.8" r="8.6" fill="#fff" stroke="#000" stroke-width="2.2"/>
<circle cx="1808.3" cy="1627.8" r="8.6" fill="#fff" stroke="#000" stroke-width="2.2"/>
<circle cx="1790.2" cy="1646.3" r="8.6" fill="#fff" stroke="#000" stroke-width="2.2"/>
<circle cx="1790.2" cy="1689.6" r="8" fill="#fff" stroke="none" stroke-width="0"/>
<circle cx="1790.2" cy="1717.4" r="8" fill="#fff" stroke="none" stroke-width="0"/>
<rect x="1875" y="1721.7" width="51.2" height="98.9" fill="#FF9999" stroke="#000" stroke-width="2.2"/>
<line x1="1900.7" y1="1699.4" x2="1900.7" y2="1740" stroke="#000" stroke-width="2.2"/>
<line x1="1888" y1="1699.4" x2="1913.3" y2="1699.4" stroke="#000" stroke-width="2.2"/>
<line x1="1888" y1="1740" x2="1913.3" y2="1740" stroke="#000" stroke-width="2.2"/>
<circle cx="1918.7" cy="1665.4" r="8.6" fill="#fff" stroke="#000" stroke-width="2.2"/>
<circle cx="1882.2" cy="1677.7" r="8.6" fill="#fff" stroke="#000" stroke-width="2.2"/>
<circle cx="1900.7" cy="1703.5" r="8.6" fill="#fff" stroke="#000" stroke-width="2.2"/>
<circle cx="1918.7" cy="1727.2" r="8.6" fill="#fff" stroke="#000" stroke-width="2.2"/>
<circle cx="1882.2" cy="1744.4" r="8.6" fill="#fff" stroke="#000" stroke-width="2.2"/>
<circle cx="1900.7" cy="1800.8" r="8.6" fill="#fff" stroke="#000" stroke-width="2.2"/>
<line x1="1784.5" y1="1538.7" x2="1901.8" y2="1538.7" stroke="#000" stroke-width="2.4"/>
<line x1="1784.5" y1="1537.5" x2="1784.5" y2="1556.4" stroke="#000" stroke-width="2.4"/>
<line x1="1905.4" y1="1539.2" x2="1905.4" y2="1556.4" stroke="#000" stroke-width="2.4"/>
<text x="1843" y="1538.3" font-size="48" text-anchor="middle" font-weight="bold">*</text>
<line x1="1276" y1="1987.5" x2="1276" y2="2366.3" stroke="#000" stroke-width="2.4"/>
<line x1="1263" y1="2042.9" x2="1276" y2="2042.9" stroke="#000" stroke-width="2.4"/>
<line x1="1263" y1="2151" x2="1276" y2="2151" stroke="#000" stroke-width="2.4"/>
<line x1="1263" y1="2258.7" x2="1276" y2="2258.7" stroke="#000" stroke-width="2.4"/>
<line x1="1263" y1="2366.3" x2="1276" y2="2366.3" stroke="#000" stroke-width="2.4"/>
<line x1="1263" y1="2366.3" x2="1975.4" y2="2366.3" stroke="#000" stroke-width="2.6"/>
<line x1="1347.2" y1="2366.3" x2="1347.2" y2="2378" stroke="#000" stroke-width="2.6"/>
<line x1="1457.7" y1="2366.3" x2="1457.7" y2="2378" stroke="#000" stroke-width="2.6"/>
<line x1="1568.4" y1="2366.3" x2="1568.4" y2="2378" stroke="#000" stroke-width="2.6"/>
<line x1="1678.9" y1="2366.3" x2="1678.9" y2="2378" stroke="#000" stroke-width="2.6"/>
<line x1="1789.5" y1="2366.3" x2="1789.5" y2="2378" stroke="#000" stroke-width="2.6"/>
<line x1="1900.2" y1="2366.3" x2="1900.2" y2="2378" stroke="#000" stroke-width="2.6"/>
<text x="1239.5" y="2012.5" font-size="46" text-anchor="end">6</text>
<text x="1239.5" y="2135.6" font-size="46" text-anchor="end">4</text>
<text x="1239.5" y="2264.6" font-size="46" text-anchor="end">2</text>
<text x="1239.5" y="2385.5" font-size="46" text-anchor="end">0</text>
<line x1="1312.3" y1="2393.6" x2="1481" y2="2393.6" stroke="#000" stroke-width="2.6"/>
<line x1="1540.1" y1="2393.6" x2="1709" y2="2393.6" stroke="#000" stroke-width="2.6"/>
<line x1="1758.3" y1="2393.6" x2="1927.2" y2="2393.6" stroke="#000" stroke-width="2.6"/>
<text x="1400.5" y="2453.6" font-size="45" text-anchor="middle">CNS</text>
<text x="1623" y="2453.6" font-size="45" text-anchor="middle">LN</text>
<text x="1852" y="2453.6" font-size="45" text-anchor="middle">Spleen</text>
<text x="1154.5" y="2164" font-size="37" text-anchor="middle" transform="rotate(-90 1154.5 2164)">IL-17<tspan font-size="22" dy="-13">+</tspan><tspan dy="13"> IFN-γ</tspan><tspan font-size="22" dy="-13">+</tspan><tspan dy="13"> in CD4</tspan><tspan font-size="22" dy="-13">+</tspan><tspan dy="13"> cells (%)</tspan></text>
<rect x="1320.2" y="2146.2" width="54.4" height="220.1" fill="#000" stroke="none" stroke-width="0"/>
<line x1="1347.2" y1="2146.2" x2="1347.2" y2="2103.5" stroke="#000" stroke-width="2.2"/>
<line x1="1334" y1="2103.5" x2="1361" y2="2103.5" stroke="#000" stroke-width="2.2"/>
<ellipse cx="1347.2" cy="2018.6" rx="9.2" ry="7.8" fill="#fff" stroke="#000" stroke-width="2.2"/>
<ellipse cx="1347.2" cy="2113.9" rx="9.2" ry="7.8" fill="#fff" stroke="#000" stroke-width="2.2"/>
<ellipse cx="1366" cy="2152.2" rx="9.2" ry="7.8" fill="#fff" stroke="#000" stroke-width="2.2"/>
<ellipse cx="1328.6" cy="2161" rx="9" ry="7.6" fill="#fff" stroke="none" stroke-width="0"/>
<ellipse cx="1347.6" cy="2283.4" rx="8.2" ry="7" fill="#fff" stroke="none" stroke-width="0"/>
<rect x="1432.2" y="2277" width="52.4" height="89.3" fill="#FF9999" stroke="#000" stroke-width="2.2"/>
<line x1="1457.7" y1="2261" x2="1457.7" y2="2288.7" stroke="#000" stroke-width="2.2"/>
<line x1="1445" y1="2261" x2="1471" y2="2261" stroke="#000" stroke-width="2.2"/>
<line x1="1445" y1="2288.7" x2="1471" y2="2288.7" stroke="#000" stroke-width="2.2"/>
<ellipse cx="1439.3" cy="2241" rx="9.2" ry="7.8" fill="#fff" stroke="#000" stroke-width="2.2"/>
<ellipse cx="1476.3" cy="2239.4" rx="9.2" ry="7.8" fill="#fff" stroke="#000" stroke-width="2.2"/>
<ellipse cx="1457.7" cy="2265.4" rx="9.2" ry="7.8" fill="#fff" stroke="#000" stroke-width="2.2"/>
<ellipse cx="1439.3" cy="2288.7" rx="9.2" ry="7.8" fill="#fff" stroke="#000" stroke-width="2.2"/>
<ellipse cx="1476.3" cy="2287" rx="9.2" ry="7.8" fill="#fff" stroke="#000" stroke-width="2.2"/>
<ellipse cx="1457.7" cy="2330.4" rx="9.2" ry="7.8" fill="#fff" stroke="#000" stroke-width="2.2"/>
<line x1="1345.5" y1="1975.9" x2="1461.9" y2="1975.9" stroke="#000" stroke-width="2.4"/>
<line x1="1343.8" y1="1980.1" x2="1343.8" y2="1997.7" stroke="#000" stroke-width="2.4"/>
<line x1="1462.3" y1="1980.1" x2="1462.3" y2="1997.7" stroke="#000" stroke-width="2.4"/>
<text x="1404" y="1984" font-size="48" text-anchor="middle" font-weight="bold">*</text>
<rect x="1541" y="2206.3" width="54.8" height="160" fill="#000" stroke="none" stroke-width="0"/>
<line x1="1568.4" y1="2206.3" x2="1568.4" y2="2182.2" stroke="#000" stroke-width="2.2"/>
<line x1="1555" y1="2182.2" x2="1582.5" y2="2182.2" stroke="#000" stroke-width="2.2"/>
<ellipse cx="1568.4" cy="2125.6" rx="9.2" ry="7.8" fill="#fff" stroke="#000" stroke-width="2.2"/>
<ellipse cx="1568.4" cy="2204.5" rx="9.2" ry="7.8" fill="#fff" stroke="#000" stroke-width="2.2"/>
<ellipse cx="1587" cy="2205.4" rx="9.2" ry="7.8" fill="#fff" stroke="#000" stroke-width="2.2"/>
<ellipse cx="1549.8" cy="2221.5" rx="8.6" ry="7.4" fill="#fff" stroke="none" stroke-width="0"/>
<ellipse cx="1568.4" cy="2273.5" rx="8" ry="7" fill="#fff" stroke="none" stroke-width="0"/>
<rect x="1653.4" y="2292.2" width="51.6" height="74.1" fill="#FF9999" stroke="#000" stroke-width="2.2"/>
<line x1="1678.9" y1="2292.2" x2="1678.9" y2="2284.3" stroke="#000" stroke-width="2.2"/>
<line x1="1667" y1="2284.3" x2="1692" y2="2284.3" stroke="#000" stroke-width="2.2"/>
<ellipse cx="1678.9" cy="2271.7" rx="9.2" ry="7.8" fill="#fff" stroke="#000" stroke-width="2.2"/>
<ellipse cx="1697.7" cy="2274.4" rx="9.2" ry="7.8" fill="#fff" stroke="#000" stroke-width="2.2"/>
<ellipse cx="1661.2" cy="2287.6" rx="9.2" ry="7.8" fill="#fff" stroke="#000" stroke-width="2.2"/>
<ellipse cx="1678.9" cy="2299" rx="9.2" ry="7.8" fill="#fff" stroke="#000" stroke-width="2.2"/>
<ellipse cx="1661.2" cy="2306.4" rx="9.2" ry="7.8" fill="#fff" stroke="#000" stroke-width="2.2"/>
<ellipse cx="1697.7" cy="2302.7" rx="9.2" ry="7.8" fill="#fff" stroke="#000" stroke-width="2.2"/>
<line x1="1567.9" y1="2078.4" x2="1685.3" y2="2078.4" stroke="#000" stroke-width="2.4"/>
<line x1="1567.9" y1="2079.4" x2="1567.9" y2="2097.6" stroke="#000" stroke-width="2.4"/>
<line x1="1683.5" y1="2081" x2="1683.5" y2="2099.5" stroke="#000" stroke-width="2.4"/>
<text x="1622.9" y="2074.6" font-size="48" text-anchor="middle" font-weight="bold">*</text>
<rect x="1762.1" y="2243.1" width="54.7" height="123.2" fill="#000" stroke="none" stroke-width="0"/>
<line x1="1789.5" y1="2243.1" x2="1789.5" y2="2227.2" stroke="#000" stroke-width="2.2"/>
<line x1="1776.3" y1="2227.2" x2="1802.9" y2="2227.2" stroke="#000" stroke-width="2.2"/>
<ellipse cx="1789.5" cy="2187.5" rx="9.2" ry="7.8" fill="#fff" stroke="#000" stroke-width="2.2"/>
<ellipse cx="1789.5" cy="2216.1" rx="9.2" ry="7.8" fill="#fff" stroke="#000" stroke-width="2.2"/>
<ellipse cx="1771.1" cy="2245.5" rx="9.2" ry="7.8" fill="#fff" stroke="#000" stroke-width="2.2"/>
<ellipse cx="1808.3" cy="2239.5" rx="9.2" ry="7.8" fill="#fff" stroke="#000" stroke-width="2.2"/>
<ellipse cx="1771.1" cy="2286.4" rx="8.6" ry="7.4" fill="#fff" stroke="none" stroke-width="0"/>
<ellipse cx="1808.3" cy="2279.1" rx="8.6" ry="7.4" fill="#fff" stroke="none" stroke-width="0"/>
<rect x="1874.7" y="2288.2" width="51.5" height="78.1" fill="#FF9999" stroke="#000" stroke-width="2.2"/>
<line x1="1900.2" y1="2288.2" x2="1900.2" y2="2299.5" stroke="#000" stroke-width="2.2"/>
<line x1="1887.1" y1="2299.5" x2="1913.6" y2="2299.5" stroke="#000" stroke-width="2.2"/>
<ellipse cx="1881.9" cy="2261.9" rx="9.2" ry="7.8" fill="#fff" stroke="#000" stroke-width="2.2"/>
<ellipse cx="1894.2" cy="2268" rx="9.2" ry="7.8" fill="#fff" stroke="#000" stroke-width="2.2"/>
<ellipse cx="1919" cy="2278.2" rx="9.2" ry="7.8" fill="#fff" stroke="#000" stroke-width="2.2"/>
<ellipse cx="1905.9" cy="2278.7" rx="9.2" ry="7.8" fill="#fff" stroke="#000" stroke-width="2.2"/>
<ellipse cx="1881.9" cy="2282" rx="9.2" ry="7.8" fill="#fff" stroke="#000" stroke-width="2.2"/>
<ellipse cx="1900.2" cy="2349.4" rx="9.2" ry="7.8" fill="#fff" stroke="#000" stroke-width="2.2"/>
<line x1="1788.2" y1="2136" x2="1905.9" y2="2136" stroke="#000" stroke-width="2.4"/>
<line x1="1788.2" y1="2134.8" x2="1788.2" y2="2155.6" stroke="#000" stroke-width="2.4"/>
<line x1="1905.9" y1="2134.8" x2="1905.9" y2="2154" stroke="#000" stroke-width="2.4"/>
<text x="1845" y="2135.5" font-size="48" text-anchor="middle" font-weight="bold">*</text>
<path d="M586.6,1619.3 583.6,1619.2 582.0,1617.3 582.3,1614.9 584.2,1613.1 586.6,1613.1 588.4,1614.9 588.6,1617.3 587.9,1618.5 586.6,1619.3 M464.2,1621.6 462.4,1622.0 461.8,1621.5 461.8,1620.3 462.4,1619.7 463.6,1619.7 464.3,1620.3 464.2,1621.6 M586.6,1623.3 583.6,1623.4 581.2,1622.6 578.4,1620.3 577.1,1617.9 577.2,1614.9 578.8,1610.9 580.6,1609.3 583.6,1608.2 586.6,1608.2 589.7,1609.5 592.0,1611.7 593.0,1614.3 593.1,1617.9 592.0,1620.2 589.6,1622.2 586.6,1623.3 M464.8,1625.1 462.4,1625.2 460.6,1624.7 458.8,1623.5 457.9,1622.1 457.8,1620.3 458.6,1617.9 460.0,1616.2 461.8,1615.3 464.2,1615.1 466.0,1615.8 467.8,1617.3 468.7,1619.1 468.9,1621.5 468.2,1623.3 466.8,1624.5 464.8,1625.1 M589.0,1626.4 584.2,1626.8 580.0,1625.9 576.0,1622.7 573.6,1619.7 573.7,1613.7 575.2,1609.5 578.2,1606.5 583.0,1604.2 586.6,1604.1 592.0,1606.6 594.7,1608.9 596.2,1611.9 597.1,1617.3 596.6,1619.7 592.6,1624.6 589.0,1626.4 M464.2,1627.5 460.6,1627.2 457.6,1625.8 455.5,1623.9 454.6,1621.5 455.2,1617.9 457.0,1614.9 460.0,1612.7 463.6,1611.6 466.6,1612.0 469.0,1613.5 471.3,1616.7 472.3,1620.3 471.6,1623.3 469.7,1625.7 467.2,1627.0 464.2,1627.5 M590.2,1629.4 582.4,1629.2 577.6,1627.9 574.0,1625.3 571.6,1622.7 570.4,1620.3 570.4,1613.7 571.3,1610.1 576.4,1603.5 581.8,1600.5 586.0,1600.3 592.6,1602.6 597.1,1607.1 599.8,1612.5 600.0,1618.5 598.9,1622.1 593.8,1627.6 590.2,1629.4 M467.2,1629.4 463.0,1629.7 458.2,1628.5 454.0,1625.9 452.5,1623.3 452.3,1619.7 453.9,1614.3 457.6,1610.4 460.0,1608.9 464.2,1608.7 469.6,1610.1 471.5,1611.9 474.2,1616.7 475.0,1620.9 473.9,1624.5 471.4,1627.3 467.2,1629.4 M592.0,1631.8 583.0,1632.2 574.6,1629.3 572.7,1628.1 570.4,1625.4 567.6,1619.7 567.2,1617.3 567.9,1611.9 569.2,1607.7 574.6,1600.7 580.6,1597.4 583.0,1596.9 587.8,1597.3 590.8,1598.1 593.8,1599.7 596.8,1601.8 599.0,1604.1 601.8,1610.1 602.4,1613.1 602.4,1619.1 601.2,1623.9 599.9,1625.7 595.3,1629.9 592.0,1631.8 M466.6,1631.8 464.2,1631.9 460.6,1631.3 455.8,1629.5 452.1,1626.9 450.1,1622.7 449.9,1619.7 451.7,1613.1 456.4,1608.1 460.0,1606.1 462.4,1606.0 466.6,1606.6 472.0,1608.5 473.8,1610.6 477.3,1617.3 477.3,1622.1 476.5,1625.1 475.6,1626.8 473.2,1628.9 466.6,1631.8 M585.4,1634.7 582.4,1634.8 580.0,1634.2 571.6,1630.1 567.7,1625.7 564.0,1618.5 565.4,1609.5 568.6,1602.3 572.9,1598.1 577.6,1595.3 582.4,1593.8 590.8,1594.4 597.4,1598.0 599.2,1599.5 602.2,1603.1 603.6,1605.9 605.3,1613.7 605.7,1618.5 605.5,1620.3 602.3,1626.9 596.1,1632.3 592.6,1634.2 585.4,1634.7 M466.6,1633.6 464.2,1633.8 458.2,1632.7 452.8,1630.2 450.2,1627.5 447.6,1622.1 447.5,1619.1 450.4,1610.8 455.2,1606.2 459.4,1604.3 467.8,1604.6 470.2,1605.1 473.2,1606.6 475.8,1608.9 480.0,1617.3 480.1,1619.1 479.1,1625.1 478.0,1627.5 474.4,1630.6 466.6,1633.6 M587.8,1636.5 583.6,1637.1 581.2,1636.8 569.8,1631.9 563.8,1625.9 561.3,1617.9 562.2,1609.5 564.8,1602.9 567.4,1598.9 570.4,1596.0 577.0,1592.8 583.0,1591.0 592.6,1592.1 596.8,1594.0 599.2,1595.8 602.8,1599.9 605.6,1604.1 606.9,1610.1 608.1,1613.7 608.3,1620.3 603.8,1628.7 594.4,1635.6 592.0,1636.4 587.8,1636.5 M466.0,1635.3 457.6,1634.4 452.2,1632.0 447.9,1627.5 445.4,1622.1 445.3,1617.9 449.4,1608.3 454.0,1604.5 458.8,1602.6 467.8,1602.4 472.6,1603.6 477.9,1607.7 482.9,1617.9 482.5,1624.5 480.9,1627.5 475.0,1632.3 469.6,1634.5 466.0,1635.3 M586.6,1638.9 581.8,1638.9 572.2,1636.0 565.9,1631.7 562.9,1629.3 561.5,1627.5 558.2,1617.9 558.9,1614.3 558.9,1609.5 561.6,1603.5 566.5,1595.7 568.0,1594.3 574.6,1590.6 578.8,1589.8 583.6,1588.0 593.2,1590.0 598.0,1592.1 603.9,1597.5 608.1,1604.7 610.3,1612.5 610.8,1617.9 609.5,1623.3 606.5,1628.7 605.0,1630.5 598.6,1635.2 593.8,1637.8 586.6,1638.9 M467.2,1636.6 464.2,1636.9 458.2,1636.4 455.2,1635.6 452.2,1633.9 450.0,1632.3 446.5,1628.7 444.6,1625.1 443.7,1622.1 443.3,1619.7 443.5,1617.3 448.6,1605.9 453.1,1602.9 458.8,1600.8 467.2,1600.1 471.4,1600.4 473.8,1601.3 479.6,1606.5 481.2,1609.5 483.7,1612.5 485.9,1618.5 486.0,1620.9 485.3,1624.5 482.2,1629.4 475.0,1634.3 471.4,1635.7 467.2,1636.6 M586.0,1641.3 579.4,1640.7 571.6,1638.7 567.4,1635.3 562.0,1632.3 560.2,1630.3 558.4,1625.4 555.9,1620.9 555.3,1617.9 555.9,1610.1 557.3,1604.1 561.4,1599.3 563.2,1595.0 566.2,1592.4 569.8,1590.8 573.4,1588.2 584.8,1585.3 594.4,1587.9 599.8,1590.6 605.8,1596.3 610.1,1604.1 612.3,1610.1 613.1,1615.5 612.8,1619.1 610.8,1626.9 609.9,1628.7 607.6,1631.1 600.4,1636.9 596.8,1638.1 593.8,1639.9 589.6,1640.3 586.0,1641.3 M466.0,1638.3 457.0,1637.9 454.0,1636.9 450.4,1634.5 444.5,1628.7 442.4,1623.9 441.6,1619.7 442.9,1614.3 446.5,1605.9 448.1,1603.5 450.4,1602.0 458.2,1598.8 465.4,1597.6 470.8,1598.1 473.2,1598.8 480.3,1604.1 482.8,1607.7 485.2,1610.2 488.4,1619.7 488.0,1622.1 486.7,1625.7 482.8,1631.2 475.0,1636.4 466.0,1638.3 M585.4,1643.1 578.8,1642.6 570.4,1640.8 566.8,1637.8 559.4,1632.9 557.9,1631.1 556.1,1626.3 552.8,1621.5 552.1,1619.1 551.8,1614.3 552.8,1608.9 555.5,1602.9 558.9,1598.7 560.2,1595.1 561.6,1593.3 565.0,1590.3 569.2,1588.3 572.8,1585.6 580.6,1584.2 584.8,1582.8 595.6,1585.0 602.2,1589.0 607.0,1593.7 612.0,1602.3 613.2,1605.9 615.3,1610.1 615.9,1614.3 615.5,1617.3 612.8,1627.5 610.6,1631.1 601.0,1639.2 597.4,1640.1 593.8,1641.8 585.4,1643.1 M466.6,1639.6 458.2,1639.7 454.6,1638.8 452.5,1637.7 443.8,1630.7 440.6,1624.5 439.9,1622.1 440.4,1617.3 441.7,1611.9 444.8,1605.3 447.4,1601.3 449.8,1599.7 453.4,1598.9 458.2,1596.7 464.2,1595.3 470.2,1596.0 473.8,1597.3 476.2,1598.5 481.4,1602.3 484.6,1606.3 487.0,1608.3 488.2,1613.2 490.3,1617.9 490.6,1619.7 490.3,1622.1 489.1,1625.1 486.0,1629.9 483.4,1632.8 475.6,1637.8 466.6,1639.6 M590.8,1644.4 580.0,1644.8 572.2,1643.3 568.6,1642.1 563.1,1638.3 557.2,1633.0 555.8,1631.1 553.9,1626.9 549.8,1623.3 548.8,1620.9 549.9,1608.3 553.0,1604.1 554.6,1600.5 557.2,1597.3 559.6,1592.4 565.0,1587.2 568.6,1585.6 572.2,1582.8 583.0,1580.2 585.4,1580.2 595.0,1582.0 604.0,1586.8 610.8,1593.9 611.9,1597.5 614.5,1601.7 615.2,1605.3 617.6,1611.9 617.1,1620.9 614.4,1628.7 612.4,1631.7 606.4,1637.8 603.5,1640.1 602.8,1640.1 602.2,1641.1 590.8,1644.4 M464.2,1641.3 458.2,1641.1 454.0,1639.9 443.8,1633.6 442.2,1631.7 439.0,1625.7 437.9,1622.1 439.8,1611.3 442.6,1605.3 446.7,1599.3 449.2,1597.7 457.6,1594.8 464.2,1593.3 471.4,1594.5 476.8,1596.5 482.2,1600.1 485.8,1603.9 488.8,1605.7 489.9,1607.7 493.1,1619.7 491.4,1625.1 488.7,1629.9 484.0,1634.4 475.6,1639.2 464.2,1641.3 M591.4,1646.8 579.4,1646.6 571.6,1645.2 568.6,1644.0 560.8,1639.2 553.3,1631.1 551.6,1627.5 547.3,1624.5 546.1,1622.1 546.8,1616.1 546.8,1612.5 547.9,1607.1 551.2,1603.1 553.4,1597.5 556.0,1594.5 558.2,1590.3 565.0,1584.1 577.0,1578.4 587.8,1577.9 591.7,1579.5 597.4,1580.5 604.9,1584.3 608.2,1588.8 612.9,1593.3 613.9,1596.9 616.5,1600.5 617.1,1605.3 618.8,1610.1 619.5,1620.3 617.5,1625.1 616.8,1628.7 615.9,1630.5 607.6,1639.7 607.0,1640.1 602.8,1640.3 602.4,1640.7 602.2,1643.5 595.6,1644.8 591.4,1646.8 M465.4,1642.6 460.6,1642.7 455.2,1641.7 443.8,1636.1 442.0,1634.5 440.5,1632.3 437.4,1626.3 436.2,1622.7 437.2,1618.5 436.9,1614.3 437.5,1611.9 440.8,1604.7 445.0,1598.3 450.4,1594.9 462.4,1591.1 473.8,1592.7 477.4,1594.1 484.6,1598.9 487.6,1602.1 490.8,1604.1 493.6,1609.1 497.3,1613.1 497.8,1614.3 496.3,1616.7 495.9,1620.9 492.9,1628.1 488.8,1633.3 485.0,1635.9 480.7,1637.7 476.8,1640.3 465.4,1642.6 M467.8,1495.7 464.8,1495.8 463.0,1494.3 462.4,1491.3 463.0,1489.9 464.2,1488.8 466.0,1488.3 467.8,1488.6 469.4,1489.5 470.3,1490.7 470.6,1491.9 470.2,1493.7 467.8,1495.7 M592.6,1648.5 578.2,1648.1 571.0,1647.0 569.2,1646.4 565.6,1644.0 562.0,1642.6 558.3,1639.5 554.8,1634.9 550.6,1632.6 548.8,1628.8 546.4,1627.2 544.5,1625.1 542.7,1620.9 543.2,1610.7 544.6,1608.9 546.0,1605.3 549.4,1600.5 553.0,1593.2 558.4,1586.8 562.9,1583.1 575.2,1577.0 587.8,1575.7 593.2,1578.1 598.6,1578.2 605.2,1581.9 607.0,1583.4 610.1,1587.9 614.3,1592.1 615.8,1596.3 618.6,1599.9 619.1,1604.1 620.5,1607.1 622.2,1617.9 619.2,1628.7 618.1,1631.1 610.2,1640.1 602.8,1640.4 602.2,1645.6 599.8,1646.3 596.2,1646.5 592.6,1648.5 M466.6,1643.8 461.8,1644.3 458.8,1643.9 453.4,1642.3 443.8,1638.1 441.4,1636.0 438.6,1631.7 436.2,1627.5 434.5,1622.7 435.3,1617.9 434.9,1614.3 435.2,1612.5 439.4,1603.5 442.9,1597.5 449.8,1591.9 454.6,1590.9 460.6,1588.2 466.6,1588.7 470.7,1590.3 476.8,1591.4 481.6,1594.8 487.0,1597.8 489.9,1601.1 493.0,1602.7 495.4,1604.8 498.4,1606.2 500.5,1609.5 502.0,1610.8 503.8,1611.0 506.8,1609.4 510.4,1609.9 511.6,1611.3 511.4,1612.5 510.5,1613.7 506.8,1615.4 506.2,1619.0 503.2,1620.2 501.3,1623.3 497.5,1626.3 496.0,1629.6 493.0,1631.5 489.4,1635.2 485.8,1637.5 481.0,1639.1 476.8,1641.9 466.6,1643.8 M513.4,1620.4 511.8,1620.3 511.0,1619.1 513.0,1614.3 516.4,1612.1 517.6,1611.9 518.8,1612.3 519.4,1613.7 518.3,1616.1 516.7,1617.9 513.4,1620.4 M469.6,1502.7 464.8,1503.1 461.2,1501.9 458.2,1499.3 456.2,1495.5 455.7,1491.3 456.9,1487.1 459.4,1484.1 463.0,1482.1 467.8,1481.8 472.6,1483.2 476.4,1485.9 478.5,1489.5 478.7,1493.7 476.9,1497.9 473.8,1500.9 469.6,1502.7 M590.2,1529.2 587.8,1529.6 586.0,1529.1 584.4,1527.9 583.6,1526.7 583.4,1524.9 583.9,1523.1 585.3,1521.3 586.6,1520.5 588.4,1520.1 590.2,1520.4 592.0,1521.6 593.0,1523.1 593.4,1524.9 593.0,1526.7 592.0,1528.1 590.2,1529.2 M587.2,1650.3 575.8,1649.9 568.6,1648.3 565.0,1645.9 560.8,1644.2 555.9,1640.1 553.6,1636.9 548.8,1635.3 546.4,1631.7 541.2,1628.7 537.4,1625.0 535.6,1624.4 532.6,1624.9 529.6,1624.1 528.4,1624.4 526.0,1626.0 523.0,1625.8 520.0,1627.7 517.6,1628.2 512.8,1628.4 509.2,1626.7 505.6,1626.8 502.6,1628.4 499.6,1631.9 494.8,1633.5 487.0,1639.0 481.6,1640.5 476.8,1643.4 465.4,1645.5 458.8,1645.3 445.0,1640.5 442.6,1639.1 440.7,1637.1 436.1,1630.5 433.4,1625.1 433.1,1622.7 433.5,1612.5 437.9,1602.3 441.9,1595.7 445.0,1593.6 449.2,1589.4 451.0,1588.6 455.2,1588.0 460.0,1584.9 461.2,1584.8 467.2,1586.5 470.8,1588.2 476.2,1589.0 481.6,1592.4 489.3,1595.7 491.8,1599.2 494.8,1600.1 497.2,1601.7 500.2,1602.7 503.2,1604.4 506.2,1604.1 512.2,1605.3 523.0,1603.5 524.2,1604.1 525.4,1606.5 526.2,1607.1 532.6,1607.2 538.5,1605.3 542.8,1601.7 544.8,1599.3 548.2,1596.6 551.4,1590.9 554.8,1588.4 560.0,1582.5 563.8,1580.4 568.0,1578.7 572.8,1575.5 579.4,1574.8 584.8,1573.5 593.8,1575.8 598.6,1575.3 604.0,1577.8 607.6,1580.6 611.2,1585.7 615.9,1590.9 617.8,1595.7 621.3,1600.5 623.1,1607.1 623.1,1611.3 624.1,1615.5 624.0,1617.9 620.6,1630.5 613.1,1640.1 602.8,1640.5 602.2,1647.9 593.2,1650.1 587.2,1650.3 M469.6,1507.0 463.6,1507.1 458.8,1505.1 455.0,1501.5 452.4,1496.1 452.0,1490.7 453.6,1485.3 457.1,1481.1 459.4,1479.5 462.4,1478.4 465.4,1477.9 469.0,1478.1 475.6,1480.2 478.6,1482.1 480.6,1484.1 482.2,1486.5 483.3,1489.5 483.6,1492.5 483.2,1495.5 481.9,1498.5 480.4,1500.8 475.6,1504.8 469.6,1507.0 M590.8,1534.0 586.6,1534.1 583.0,1532.9 579.3,1530.3 577.3,1527.3 577.6,1524.3 580.3,1519.5 583.4,1516.5 586.6,1515.1 590.2,1515.1 593.9,1516.5 596.8,1519.3 598.4,1523.1 598.4,1526.7 597.1,1529.7 594.4,1532.4 590.8,1534.0 M588.4,1652.1 584.8,1652.5 579.4,1651.6 575.2,1652.1 568.0,1649.9 560.2,1645.9 551.8,1639.2 548.2,1638.6 546.5,1637.7 544.3,1635.9 542.2,1633.0 533.8,1631.6 529.6,1633.1 528.2,1630.5 527.2,1630.2 515.8,1631.7 511.6,1633.5 508.0,1632.6 505.6,1633.0 500.8,1635.1 495.4,1636.1 487.0,1641.3 482.2,1641.8 478.0,1644.3 475.0,1645.3 465.4,1646.7 458.8,1646.6 443.8,1641.9 441.4,1639.7 436.8,1634.1 431.9,1625.7 431.7,1614.9 432.0,1612.5 436.6,1601.1 439.7,1595.7 448.6,1587.3 451.0,1586.1 454.6,1585.4 457.3,1583.7 458.7,1581.3 458.6,1579.5 457.9,1577.7 457.9,1577.1 458.8,1576.5 460.0,1576.9 461.7,1579.5 466.5,1583.1 471.4,1585.4 475.6,1586.0 481.0,1589.9 490.6,1594.2 493.0,1596.3 496.0,1597.1 501.4,1599.7 507.4,1601.3 512.8,1601.8 514.6,1601.6 517.6,1600.6 520.6,1601.0 524.8,1600.7 529.0,1601.5 535.0,1601.5 537.7,1599.9 540.4,1599.1 546.4,1594.4 549.9,1589.7 553.6,1586.9 555.5,1584.3 558.1,1581.9 563.8,1577.9 566.8,1576.6 571.6,1573.4 576.4,1572.5 579.4,1571.3 584.8,1570.6 590.2,1572.6 594.4,1572.2 599.2,1572.9 606.4,1576.5 609.0,1578.9 613.3,1584.3 617.5,1588.5 619.0,1591.5 620.1,1595.7 622.6,1598.7 623.4,1600.5 624.9,1607.7 625.0,1611.8 625.7,1616.1 625.4,1620.3 622.2,1631.1 616.4,1640.1 602.8,1640.5 602.2,1650.1 588.4,1652.1 M470.8,1510.0 463.6,1510.3 460.6,1509.5 457.6,1508.1 454.6,1505.8 452.5,1503.3 449.6,1497.3 449.0,1493.7 449.0,1490.1 449.8,1486.5 451.2,1483.5 453.4,1480.5 455.8,1478.3 458.8,1476.5 461.8,1475.5 465.4,1474.9 469.6,1475.2 473.8,1476.1 477.4,1477.6 481.0,1479.9 483.6,1482.3 485.6,1485.3 486.8,1488.3 487.3,1491.9 487.0,1495.5 485.7,1499.1 483.9,1502.1 481.1,1505.1 478.0,1507.3 474.4,1509.0 470.8,1510.0 M591.4,1536.9 587.2,1537.2 583.0,1536.2 574.6,1531.7 569.2,1529.4 567.7,1527.9 568.1,1526.7 573.4,1522.7 580.6,1514.7 583.0,1513.0 586.0,1511.9 590.8,1511.8 595.6,1513.7 599.3,1517.1 601.5,1521.9 601.8,1526.7 599.8,1531.5 596.2,1535.0 591.4,1536.9 M589.0,1653.9 585.4,1654.4 579.4,1653.6 575.8,1654.4 574.0,1654.1 562.6,1649.5 556.0,1645.5 552.4,1642.6 547.6,1641.1 539.2,1636.6 533.2,1636.2 528.4,1636.5 524.2,1635.5 520.0,1636.5 517.0,1635.0 511.6,1636.1 506.8,1635.7 504.0,1637.7 502.6,1638.1 495.4,1638.3 487.0,1643.2 482.2,1643.5 478.0,1645.7 473.8,1646.9 460.6,1648.0 452.2,1646.2 442.9,1643.1 434.8,1634.4 430.9,1628.1 430.3,1626.3 430.2,1613.1 437.0,1596.9 440.2,1592.8 448.4,1584.9 450.4,1581.5 454.3,1581.3 454.6,1580.7 453.1,1574.7 453.4,1573.0 454.0,1572.5 457.6,1571.7 460.0,1569.4 463.0,1569.6 466.0,1571.1 467.1,1572.9 467.8,1577.7 469.0,1580.1 473.8,1582.1 476.8,1584.1 480.9,1587.9 494.2,1594.4 502.6,1597.4 505.0,1597.7 508.6,1596.9 512.2,1598.4 515.2,1597.3 519.4,1597.5 522.4,1596.9 531.4,1598.1 535.6,1595.9 541.0,1595.0 546.4,1591.3 553.6,1582.7 559.8,1578.9 562.1,1574.7 563.8,1573.3 569.0,1572.3 581.2,1568.1 586.0,1568.4 590.8,1569.6 595.6,1569.8 599.8,1571.0 606.4,1574.3 617.8,1585.3 621.1,1589.7 621.9,1591.5 621.9,1595.1 624.7,1599.3 625.1,1602.9 626.4,1607.1 627.4,1619.7 623.8,1632.3 620.7,1638.3 619.3,1640.1 602.8,1640.6 602.2,1651.7 589.0,1653.9 M470.2,1512.9 466.0,1513.2 462.4,1512.9 458.8,1511.7 455.2,1509.7 452.2,1507.1 449.8,1503.9 448.0,1500.3 446.9,1496.7 446.4,1492.5 446.6,1488.9 447.6,1485.3 449.3,1481.7 451.6,1478.7 454.6,1476.1 458.2,1474.0 461.8,1472.9 466.0,1472.4 471.4,1472.9 476.2,1474.2 480.4,1476.1 484.0,1478.7 486.8,1481.7 489.0,1485.3 490.2,1488.9 490.5,1493.1 489.7,1497.3 488.2,1500.9 485.8,1504.5 482.7,1507.5 478.6,1510.2 474.4,1511.9 470.2,1512.9 M591.4,1539.4 587.8,1539.7 584.2,1539.1 574.0,1534.6 563.4,1531.5 560.1,1529.7 559.3,1528.5 559.3,1527.3 562.1,1524.9 571.6,1520.2 578.8,1512.9 582.4,1510.4 585.4,1509.3 588.4,1509.0 594.4,1510.1 598.6,1512.6 602.1,1516.5 604.1,1521.3 604.5,1526.1 603.2,1530.9 600.4,1534.8 596.2,1537.8 591.4,1539.4 M587.8,1655.8 575.8,1656.0 573.4,1655.6 568.0,1653.1 561.4,1651.1 554.8,1647.5 551.8,1644.7 547.0,1643.2 540.4,1639.4 538.6,1639.0 535.0,1639.5 524.2,1638.4 520.6,1639.5 516.4,1638.8 513.4,1639.5 508.6,1638.2 505.0,1639.8 496.0,1640.3 493.0,1642.1 487.0,1644.8 482.2,1645.1 478.6,1646.9 473.8,1648.3 460.0,1649.0 450.4,1647.3 443.8,1644.9 441.4,1643.5 437.2,1638.6 433.8,1635.9 429.4,1629.0 428.6,1625.7 428.9,1611.9 435.3,1596.3 439.1,1591.5 443.2,1587.9 446.7,1583.7 447.1,1582.5 446.9,1579.5 447.9,1576.5 447.7,1573.5 450.1,1566.9 452.8,1563.4 454.0,1562.6 458.8,1562.6 463.0,1565.2 466.0,1564.5 467.2,1564.8 470.4,1571.1 471.0,1574.1 473.5,1578.3 478.3,1582.5 481.0,1586.0 496.6,1593.5 503.8,1594.8 511.6,1592.7 514.0,1592.9 519.4,1594.7 530.8,1591.9 532.6,1592.0 535.6,1593.1 538.0,1592.7 546.4,1588.2 553.0,1580.8 558.4,1577.8 561.0,1573.5 563.2,1571.7 581.2,1566.0 596.2,1567.6 606.4,1572.0 615.4,1579.9 622.0,1587.6 626.1,1598.7 626.5,1602.3 629.1,1611.3 629.4,1620.3 627.5,1625.7 626.0,1633.5 621.4,1640.1 602.8,1640.6 602.2,1653.2 587.8,1655.8 M470.2,1515.4 465.4,1515.6 461.2,1515.1 457.6,1513.8 453.9,1511.7 450.5,1508.7 447.8,1505.1 445.8,1500.9 444.6,1496.7 444.2,1491.9 444.6,1487.7 445.9,1483.5 447.8,1479.9 450.4,1476.7 454.0,1473.8 457.6,1471.8 461.8,1470.6 466.6,1470.2 472.0,1470.7 477.4,1472.2 482.2,1474.4 486.4,1477.5 489.4,1480.8 491.7,1484.7 493.0,1488.9 493.3,1493.1 492.4,1497.9 490.7,1502.1 487.7,1506.3 484.0,1509.8 479.8,1512.4 475.0,1514.3 470.2,1515.4 M590.2,1541.7 587.2,1541.8 583.6,1541.1 572.8,1536.4 558.4,1532.6 554.5,1530.3 553.6,1529.1 553.4,1527.3 554.6,1525.5 556.4,1524.3 565.9,1520.7 570.4,1518.4 577.6,1511.1 581.8,1508.2 584.8,1507.2 588.4,1506.7 592.0,1507.0 595.0,1507.9 600.4,1511.1 604.4,1515.9 606.4,1521.3 606.6,1527.3 604.7,1532.7 601.0,1537.2 596.2,1540.2 590.2,1541.7 M582.4,1657.5 573.4,1656.9 567.4,1654.5 559.6,1652.2 553.6,1649.2 550.0,1646.3 541.6,1643.8 538.0,1642.0 531.4,1642.3 527.2,1641.7 509.8,1642.5 502.6,1642.1 499.0,1643.8 491.2,1644.5 487.0,1646.3 482.8,1646.6 478.6,1648.3 471.4,1649.9 460.6,1650.1 450.4,1648.9 440.4,1644.3 436.1,1639.5 432.4,1636.5 428.2,1629.9 427.4,1628.1 426.5,1621.5 427.5,1610.7 431.6,1601.1 432.6,1596.9 433.8,1595.1 436.4,1592.7 440.7,1586.7 443.7,1581.3 443.8,1573.5 445.6,1568.7 446.2,1564.5 447.4,1563.4 453.4,1560.2 457.6,1559.4 461.8,1560.8 464.8,1559.4 466.5,1559.7 469.9,1563.3 471.5,1566.9 474.2,1569.9 474.6,1573.5 476.8,1578.9 479.8,1581.3 482.2,1584.1 498.4,1592.1 512.2,1591.1 520.0,1591.6 526.0,1590.5 532.6,1589.9 535.6,1590.5 537.4,1590.4 546.4,1585.1 553.0,1578.0 556.6,1576.0 562.0,1570.7 576.4,1565.2 581.8,1564.3 587.2,1564.9 591.4,1564.8 596.8,1565.8 602.8,1568.7 607.6,1569.9 610.5,1573.5 616.6,1578.3 621.6,1584.3 623.2,1586.5 625.0,1590.7 627.4,1594.1 628.1,1601.1 629.3,1604.1 629.9,1607.7 631.6,1612.5 631.0,1616.1 631.0,1620.9 628.1,1633.5 627.3,1635.3 623.6,1640.1 602.8,1640.6 602.2,1654.7 596.2,1656.2 582.4,1657.5" fill="none" stroke="#5e5e5e" stroke-width="1.1" stroke-linejoin="round"/>
<path d="M371.8,1457.6H379.8 M371.8,1517.6H379.8 M371.8,1584.6H379.8 M371.8,1627.4H379.8 M371.8,1667.2H379.8 M375.3,1499.6H379.8 M375.3,1489.0H379.8 M375.3,1481.5H379.8 M375.3,1475.7H379.8 M375.3,1471.0H379.8 M375.3,1466.9H379.8 M375.3,1463.5H379.8 M375.3,1460.4H379.8 M375.3,1564.4H379.8 M375.3,1552.6H379.8 M375.3,1544.3H379.8 M375.3,1537.8H379.8 M375.3,1532.5H379.8 M375.3,1528.0H379.8 M375.3,1524.1H379.8 M375.3,1520.7H379.8 M375.3,1439.5H379.8 M375.3,1446.9H379.8 M375.3,1451.9H379.8 M375.3,1593.8H379.8 M375.3,1601.3H379.8 M375.3,1608.7H379.8 M375.3,1613.7H379.8 M375.3,1618.7H379.8 M375.3,1636.1H379.8 M375.3,1641.1H379.8 M375.3,1648.6H379.8 M375.3,1656.0H379.8 M375.3,1661.0H379.8 M496.5,1683.4V1691.4 M572.5,1683.4V1691.4 M639.0,1683.4V1691.4 M519.4,1683.4V1687.9 M532.8,1683.4V1687.9 M542.3,1683.4V1687.9 M549.6,1683.4V1687.9 M555.6,1683.4V1687.9 M560.7,1683.4V1687.9 M565.1,1683.4V1687.9 M569.0,1683.4V1687.9 M592.5,1683.4V1687.9 M604.2,1683.4V1687.9 M612.5,1683.4V1687.9 M619.0,1683.4V1687.9 M624.2,1683.4V1687.9 M628.7,1683.4V1687.9 M632.6,1683.4V1687.9 M636.0,1683.4V1687.9 M383.8,1683.4V1687.9 M390.4,1683.4V1687.9 M397.0,1683.4V1687.9 M403.6,1683.4V1687.9 M410.2,1683.4V1687.9 M416.8,1683.4V1687.9 M423.4,1683.4V1687.9 M430.0,1683.4V1687.9 M458.0,1683.4V1687.9 M464.6,1683.4V1687.9 M471.2,1683.4V1687.9 M477.8,1683.4V1687.9 M484.4,1683.4V1687.9 M491.0,1683.4V1687.9 M659.0,1683.4V1687.9" stroke="#333" stroke-width="1.6" fill="none"/>
<rect x="372.8" y="1622.4" width="6" height="10" fill="#222" stroke="none" stroke-width="0"/>
<rect x="435" y="1684.4" width="20" height="5" fill="#222" stroke="none" stroke-width="0"/>
<rect x="379.8" y="1434.5" width="288" height="248.9" fill="none" stroke="#555" stroke-width="1.6"/>
<line x1="518.1" y1="1434.5" x2="518.1" y2="1683.4" stroke="#111" stroke-width="2.1"/>
<line x1="379.8" y1="1562.8" x2="667.8" y2="1562.8" stroke="#111" stroke-width="2.1"/>
<text x="445" y="1728.8" font-size="26" text-anchor="middle" font-family="'Noto Sans CJK KR', sans-serif">0</text>
<text x="477" y="1728.8" font-size="26" font-family="'Noto Sans CJK KR', sans-serif">10<tspan font-size="17.5" dy="-8">3</tspan></text>
<text x="554" y="1728.8" font-size="26" font-family="'Noto Sans CJK KR', sans-serif">10<tspan font-size="17.5" dy="-8">4</tspan></text>
<text x="620" y="1728.8" font-size="26" font-family="'Noto Sans CJK KR', sans-serif">10<tspan font-size="17.5" dy="-8">5</tspan></text>
<text x="320" y="1472.5" font-size="26" font-family="'Noto Sans CJK KR', sans-serif">10<tspan font-size="17.5" dy="-8">5</tspan></text>
<text x="320" y="1530" font-size="26" font-family="'Noto Sans CJK KR', sans-serif">10<tspan font-size="17.5" dy="-8">4</tspan></text>
<text x="320" y="1596.9" font-size="26" font-family="'Noto Sans CJK KR', sans-serif">10<tspan font-size="17.5" dy="-8">3</tspan></text>
<text x="331.2" y="1639.2" font-size="26" font-family="'Noto Sans CJK KR', sans-serif">0</text>
<text x="320" y="1679" font-size="26" font-family="'Noto Sans CJK KR', sans-serif">10<tspan font-size="17.5" dy="-8">-3</tspan></text>
<text x="389" y="1469.5" font-size="26">5.4</text>
<text x="607.8" y="1469.5" font-size="26">6.5</text>
<text x="608.5" y="1672" font-size="26">61.3</text>
<path d="M795.5,1612.5 794.1,1611.6 794.1,1610.4 794.9,1609.8 796.1,1610.1 796.4,1611.0 796.1,1612.1 795.5,1612.5 M898.1,1620.6 895.1,1620.9 892.9,1620.0 891.7,1618.2 892.2,1616.4 893.6,1615.2 895.7,1614.6 898.1,1614.9 899.9,1615.8 900.9,1617.0 901.0,1618.2 899.9,1619.7 898.1,1620.6 M796.7,1617.3 794.3,1617.4 791.9,1616.4 790.7,1615.2 789.7,1612.8 789.5,1610.4 790.1,1608.6 791.8,1606.8 793.7,1606.0 795.5,1605.7 797.3,1606.2 799.1,1607.7 800.1,1609.8 800.1,1612.2 799.5,1614.6 798.5,1616.0 796.7,1617.3 M898.7,1623.6 893.9,1623.9 889.7,1622.0 887.9,1620.0 887.2,1618.2 887.3,1616.4 888.1,1615.2 891.5,1612.5 895.1,1611.6 899.3,1611.9 903.5,1614.0 905.4,1616.4 905.6,1617.6 905.3,1619.4 902.9,1622.0 898.7,1623.6 M796.7,1621.2 793.7,1621.2 789.1,1618.8 787.3,1616.4 786.4,1612.8 786.4,1609.8 787.8,1606.2 790.1,1604.2 793.7,1602.8 796.7,1602.8 799.1,1603.8 801.9,1606.8 802.8,1609.2 802.6,1613.4 801.6,1616.4 799.7,1618.9 796.7,1621.2 M898.7,1626.0 893.3,1626.0 889.1,1624.4 886.7,1622.9 884.8,1620.6 883.9,1618.2 884.3,1615.8 885.4,1614.0 890.3,1610.2 895.7,1609.1 901.7,1610.0 906.7,1612.8 908.0,1614.6 908.7,1617.0 908.7,1618.8 907.6,1621.2 906.1,1623.0 904.1,1624.3 898.7,1626.0 M797.9,1624.3 794.9,1624.6 788.3,1622.4 786.0,1620.0 784.2,1615.8 783.7,1610.4 785.4,1605.0 787.7,1602.4 792.5,1600.1 796.7,1600.0 800.0,1601.4 803.4,1604.4 805.0,1608.0 805.0,1613.4 804.1,1617.0 800.4,1622.4 797.9,1624.3 M900.5,1627.9 896.3,1628.4 893.3,1628.1 887.3,1625.8 884.9,1624.3 882.3,1621.2 881.3,1618.8 881.6,1615.8 883.3,1612.8 889.1,1608.3 893.3,1606.9 898.1,1607.1 902.9,1607.9 905.3,1608.9 908.3,1610.9 910.9,1614.6 911.6,1618.2 911.3,1620.0 908.9,1623.6 907.1,1625.4 904.1,1627.0 900.5,1627.9 M796.7,1627.3 794.3,1627.3 790.1,1626.5 786.1,1624.2 782.5,1619.4 781.1,1615.2 780.7,1612.2 781.2,1608.0 783.4,1603.2 784.7,1601.5 790.1,1598.4 796.1,1597.5 799.1,1598.1 804.5,1601.7 806.1,1604.4 807.4,1609.8 806.8,1616.4 805.5,1620.0 801.5,1625.1 796.7,1627.3 M896.9,1630.3 892.1,1629.9 885.5,1627.6 883.7,1626.1 880.7,1622.4 879.1,1618.8 879.4,1615.8 881.4,1611.6 887.3,1606.8 892.1,1604.5 900.5,1605.2 904.7,1606.1 907.1,1607.1 909.5,1608.8 912.2,1611.6 913.3,1613.4 914.0,1616.4 914.3,1618.8 913.8,1620.6 909.5,1626.6 904.7,1629.0 896.9,1630.3 M792.5,1630.2 790.1,1629.9 786.2,1627.8 781.1,1621.9 779.5,1618.8 778.3,1614.0 778.2,1608.6 781.2,1602.0 784.1,1599.3 787.7,1597.0 790.1,1596.0 797.9,1595.6 800.3,1596.3 803.9,1598.3 807.5,1602.6 809.5,1609.8 809.0,1617.0 807.4,1621.8 802.7,1627.1 797.9,1629.5 792.5,1630.2 M898.1,1632.0 892.7,1632.2 887.9,1631.2 884.3,1629.9 879.1,1623.6 877.0,1619.4 877.3,1615.2 879.3,1611.0 883.7,1606.0 890.3,1601.1 899.3,1601.7 909.7,1605.0 912.0,1606.8 914.7,1610.4 915.8,1612.8 916.7,1617.6 916.3,1620.6 915.1,1623.6 912.2,1627.2 909.5,1629.6 907.7,1630.4 898.1,1632.0 M792.5,1633.3 790.1,1633.4 784.1,1630.2 779.6,1623.6 776.9,1618.2 775.9,1612.8 776.1,1607.4 776.7,1605.6 779.5,1600.8 782.3,1598.0 785.9,1595.8 790.7,1593.9 798.5,1593.8 804.5,1596.3 809.0,1601.4 811.3,1609.8 810.9,1617.0 809.0,1623.0 804.5,1628.4 799.7,1631.6 792.5,1633.3 M896.3,1635.1 894.5,1635.2 887.3,1634.0 882.5,1632.1 874.0,1620.0 873.6,1618.2 875.2,1612.8 880.8,1605.0 884.5,1602.0 886.7,1599.4 889.7,1598.2 898.1,1597.5 900.5,1598.1 910.1,1602.1 913.1,1604.0 916.4,1608.0 918.1,1611.0 919.0,1613.4 919.4,1617.0 918.7,1621.8 917.6,1624.8 914.9,1628.4 910.7,1632.0 908.3,1633.0 896.3,1635.1 M787.7,1638.1 785.9,1638.3 784.1,1637.4 783.2,1635.0 780.9,1632.6 778.9,1627.2 774.9,1620.6 773.5,1612.8 774.3,1606.2 777.1,1600.8 780.3,1597.2 785.3,1593.9 790.1,1592.2 793.7,1591.6 799.7,1592.0 805.1,1594.2 809.2,1598.4 810.8,1600.8 813.3,1611.0 812.2,1618.8 809.6,1625.4 807.5,1628.6 803.9,1632.2 799.1,1635.1 793.1,1636.1 787.7,1638.1 M901.7,1638.1 895.1,1637.8 887.3,1636.8 882.5,1635.0 879.4,1632.0 871.3,1620.6 871.0,1618.8 872.4,1611.0 875.3,1608.0 878.1,1603.2 881.7,1600.8 884.3,1597.8 886.1,1596.6 894.5,1595.2 903.5,1595.5 910.7,1599.0 915.0,1602.0 917.9,1605.4 922.3,1612.2 923.4,1615.8 923.3,1617.6 921.5,1621.1 920.4,1624.8 917.5,1629.0 911.4,1634.4 908.9,1635.5 905.3,1636.2 901.7,1638.1 M784.7,1644.0 782.3,1644.1 781.1,1643.4 779.9,1641.9 777.3,1629.6 772.8,1621.8 771.5,1612.8 772.7,1605.6 775.6,1599.6 779.8,1594.8 786.5,1591.0 795.5,1588.9 797.3,1589.1 800.9,1590.2 805.7,1592.3 812.1,1599.0 815.4,1611.0 814.3,1617.6 812.1,1624.2 810.1,1628.4 805.2,1633.8 800.3,1637.4 794.3,1638.4 791.9,1639.2 787.7,1642.8 784.7,1644.0 M903.5,1640.6 901.7,1641.0 897.5,1640.3 893.3,1640.4 886.1,1639.0 881.3,1637.3 876.0,1632.6 868.8,1620.6 868.6,1618.8 869.7,1615.2 870.1,1609.8 870.7,1608.0 875.9,1601.3 880.1,1598.5 883.7,1594.9 885.5,1594.0 893.3,1592.4 898.1,1593.1 903.5,1592.2 905.3,1592.2 908.3,1594.3 911.9,1595.0 914.6,1597.2 917.9,1598.8 918.9,1600.2 920.6,1604.4 924.3,1608.6 926.1,1614.6 926.2,1620.0 925.7,1621.6 922.6,1626.6 914.9,1635.7 909.5,1639.0 905.9,1639.5 903.5,1640.6 M784.1,1648.3 781.7,1648.5 780.5,1647.6 777.2,1641.6 775.4,1636.8 775.4,1630.2 774.5,1628.2 771.7,1624.2 770.8,1621.2 769.8,1612.8 770.5,1606.8 773.3,1599.5 778.1,1593.4 785.6,1588.8 794.3,1587.0 796.7,1587.0 802.1,1588.4 806.3,1590.5 811.7,1595.2 814.2,1599.6 815.6,1606.2 817.3,1610.4 817.3,1612.8 815.9,1618.8 813.1,1626.6 810.9,1630.8 806.8,1635.0 802.1,1638.9 793.4,1641.0 791.8,1642.2 787.7,1647.2 784.1,1648.3 M902.3,1643.4 896.9,1642.7 892.7,1643.0 887.3,1642.2 880.1,1639.7 873.0,1633.8 866.2,1620.6 866.2,1618.2 867.7,1613.4 867.6,1608.0 871.7,1602.0 876.5,1596.8 881.3,1592.6 884.3,1591.1 890.9,1589.0 893.9,1589.1 898.7,1590.4 904.7,1589.6 906.5,1589.8 910.1,1591.0 916.1,1594.1 920.8,1598.4 925.5,1605.6 928.5,1612.8 928.9,1615.8 928.3,1623.0 926.3,1626.6 924.8,1630.8 919.9,1634.4 916.7,1637.8 913.1,1639.7 910.7,1641.7 902.3,1643.4 M782.9,1653.6 781.1,1653.6 779.8,1653.0 778.0,1651.2 776.8,1648.8 776.3,1644.6 773.5,1636.8 773.4,1630.8 770.5,1626.6 768.8,1619.4 768.1,1615.2 767.7,1605.6 772.1,1597.8 776.3,1592.2 783.9,1587.6 793.7,1585.2 803.3,1586.9 807.5,1589.1 812.3,1592.9 815.8,1599.0 819.3,1611.6 817.8,1618.8 814.9,1627.2 812.9,1631.4 808.6,1636.2 802.7,1640.6 794.3,1642.9 790.4,1647.6 788.0,1652.4 782.9,1653.6 M902.9,1645.9 898.7,1646.0 895.1,1645.2 886.7,1644.5 878.9,1641.8 869.7,1633.8 865.0,1625.4 864.0,1621.8 863.8,1619.4 864.4,1614.0 863.7,1611.0 863.8,1609.2 868.9,1600.2 877.7,1591.8 883.7,1588.3 889.7,1586.2 892.1,1585.9 899.3,1586.5 903.5,1586.0 910.7,1588.4 914.3,1590.9 917.9,1592.3 921.8,1596.0 926.1,1601.4 930.9,1611.0 931.5,1615.8 930.6,1620.0 930.7,1623.6 929.3,1629.6 922.7,1635.4 920.3,1638.8 918.5,1640.3 911.3,1643.8 902.9,1645.9 M899.9,1648.9 898.1,1648.7 893.9,1647.3 887.9,1647.2 877.1,1643.7 874.3,1641.0 869.3,1637.4 865.4,1633.2 864.2,1629.6 862.1,1626.0 860.0,1620.6 861.4,1609.2 864.3,1604.4 865.8,1600.2 867.5,1597.1 871.0,1594.2 873.9,1590.6 878.9,1588.3 881.9,1586.0 888.5,1583.4 897.5,1582.4 903.5,1583.1 907.7,1584.9 912.5,1586.1 916.1,1588.7 919.7,1589.6 922.3,1593.0 925.1,1595.1 928.8,1600.2 930.2,1604.4 933.3,1609.2 933.7,1613.4 934.7,1617.0 932.5,1629.6 931.1,1631.9 928.2,1634.4 926.9,1636.8 923.9,1638.3 920.8,1641.6 918.5,1643.2 907.1,1647.2 899.9,1648.9 M787.7,1656.1 779.9,1656.4 777.1,1654.2 775.1,1650.9 774.3,1648.2 774.1,1643.4 772.2,1637.4 771.9,1632.6 768.9,1627.8 768.0,1623.0 766.3,1618.2 765.3,1606.2 766.7,1602.0 773.0,1593.6 775.0,1590.0 783.5,1585.8 787.7,1585.2 791.9,1583.5 793.7,1583.4 803.3,1585.3 805.7,1586.1 808.7,1588.0 813.8,1592.4 818.7,1601.4 820.8,1609.2 821.0,1612.8 819.9,1618.8 817.1,1627.2 813.3,1633.8 809.3,1638.1 804.5,1641.4 794.7,1645.2 791.6,1649.4 789.5,1654.4 787.7,1656.1 M899.9,1651.3 895.1,1650.7 892.1,1651.3 889.7,1650.9 884.3,1648.2 876.5,1645.9 871.7,1641.9 867.5,1640.3 862.7,1634.4 861.5,1630.2 859.0,1627.2 856.5,1618.8 856.7,1617.0 858.5,1612.0 859.4,1608.0 861.6,1604.4 862.9,1600.8 866.5,1595.4 869.7,1592.4 871.7,1589.0 875.9,1586.7 878.3,1584.0 879.5,1583.3 886.1,1581.2 890.9,1580.8 895.7,1579.1 900.5,1579.7 908.3,1582.4 913.1,1583.4 921.5,1587.9 926.9,1592.4 928.6,1594.2 931.5,1599.0 935.1,1606.8 936.9,1609.8 937.6,1617.0 935.7,1629.0 932.1,1635.0 928.1,1635.2 927.7,1635.6 927.5,1640.7 924.5,1641.2 920.9,1643.9 916.1,1646.3 911.8,1647.6 908.3,1649.3 904.1,1650.0 899.9,1651.3 M782.9,1661.4 781.1,1661.4 779.9,1660.5 775.1,1654.2 773.3,1650.0 772.8,1647.6 772.7,1642.8 771.1,1638.0 770.4,1633.2 767.6,1629.0 766.4,1623.6 763.9,1618.2 763.5,1608.6 764.0,1605.0 765.9,1599.6 768.0,1597.2 772.4,1590.0 774.5,1588.2 778.7,1586.6 782.3,1584.4 787.7,1583.5 791.9,1581.9 793.7,1581.8 803.9,1583.8 809.1,1586.4 814.7,1591.4 820.4,1600.2 821.6,1603.2 822.4,1608.0 822.8,1618.8 818.3,1629.0 811.7,1638.6 809.3,1640.8 803.9,1644.1 796.1,1647.1 792.6,1651.2 789.8,1657.8 782.9,1661.4 M899.9,1653.7 892.1,1653.9 880.7,1650.4 877.0,1648.8 866.9,1642.8 859.4,1634.4 858.3,1632.0 855.7,1628.4 854.1,1623.6 849.8,1620.6 846.6,1617.6 845.5,1616.4 844.8,1614.6 845.4,1612.2 847.7,1610.7 849.3,1611.0 850.7,1612.8 851.9,1613.4 853.7,1613.7 854.9,1612.8 855.6,1611.0 855.8,1608.0 858.5,1604.4 860.9,1598.7 863.3,1596.8 865.5,1593.6 868.1,1591.2 869.3,1587.4 870.5,1585.8 879.5,1580.8 884.9,1579.1 889.7,1578.8 892.1,1577.1 893.9,1576.6 899.9,1577.0 909.5,1580.0 913.7,1580.3 923.9,1586.9 926.3,1589.5 931.1,1593.0 932.3,1596.1 935.9,1601.4 937.2,1605.0 939.7,1608.0 941.1,1614.0 940.9,1616.4 939.4,1621.2 939.7,1626.6 939.2,1629.6 934.9,1635.0 927.8,1635.6 927.5,1643.3 920.3,1646.1 916.7,1648.3 912.5,1649.4 908.9,1651.1 904.5,1651.8 899.9,1653.7 M784.1,1664.0 781.1,1664.2 778.7,1662.8 774.0,1654.8 772.5,1651.2 771.6,1648.2 771.4,1642.2 769.7,1638.0 768.6,1633.8 765.6,1629.0 764.8,1624.8 762.3,1619.4 761.7,1615.2 762.1,1606.2 764.9,1597.9 769.6,1590.6 773.3,1587.3 777.5,1585.6 781.7,1583.1 787.7,1581.9 791.9,1580.4 803.3,1581.8 805.7,1582.6 810.5,1585.7 815.7,1590.6 817.3,1592.4 819.1,1596.0 822.1,1600.2 823.5,1603.2 825.3,1613.4 826.3,1615.8 825.9,1618.8 824.4,1622.4 821.3,1626.1 819.5,1630.2 815.2,1636.2 812.6,1641.0 803.9,1646.8 798.5,1648.3 796.7,1649.3 793.7,1652.4 791.2,1659.0 789.5,1660.6 784.1,1664.0 M782.3,1666.2 779.9,1665.8 777.9,1664.4 772.8,1654.8 770.7,1648.8 770.3,1642.8 766.9,1635.0 763.9,1629.6 763.2,1625.4 761.2,1621.2 760.0,1614.6 760.6,1611.0 760.6,1605.6 764.3,1595.7 769.7,1588.2 780.5,1582.0 792.5,1578.9 802.7,1579.9 806.3,1580.9 811.7,1584.9 818.1,1591.2 820.7,1596.0 824.6,1601.4 827.3,1606.8 831.5,1609.5 833.3,1609.9 849.5,1607.3 854.3,1604.4 855.4,1603.2 858.4,1595.4 860.3,1593.6 863.3,1592.2 865.3,1590.6 865.9,1589.4 866.3,1586.4 867.1,1585.2 875.9,1580.4 878.9,1577.8 888.5,1576.3 892.1,1574.8 899.3,1574.4 904.1,1576.5 914.3,1577.6 925.1,1584.8 927.9,1588.2 932.6,1590.6 934.5,1594.8 937.1,1597.6 941.7,1606.2 943.7,1612.2 944.0,1614.6 942.5,1620.6 942.6,1625.4 941.1,1630.8 937.6,1635.0 928.1,1635.4 927.5,1646.4 925.7,1647.3 921.5,1648.1 917.9,1650.7 913.7,1651.3 910.1,1653.1 901.1,1655.7 896.3,1656.2 893.3,1656.0 888.5,1654.4 880.7,1653.1 874.1,1649.6 869.9,1648.2 868.1,1647.0 864.5,1643.4 861.8,1639.8 858.5,1636.8 856.2,1632.6 852.5,1627.8 848.9,1624.5 847.1,1623.7 843.5,1623.4 838.7,1621.9 837.5,1621.9 834.5,1622.8 829.7,1623.1 823.3,1626.6 820.6,1631.4 815.9,1637.7 814.3,1641.6 812.9,1643.2 804.5,1648.6 796.6,1651.8 794.9,1653.6 792.9,1659.0 790.7,1661.7 785.9,1665.3 782.3,1666.2 M783.5,1668.1 780.5,1667.9 778.1,1666.9 774.7,1662.0 770.4,1651.8 768.7,1642.8 765.7,1636.2 762.3,1630.2 761.5,1625.4 759.8,1621.2 758.4,1614.6 759.0,1611.0 759.1,1604.4 763.0,1594.8 768.9,1587.0 776.3,1582.8 779.3,1580.6 784.1,1579.9 793.7,1577.2 803.9,1578.3 806.9,1579.2 818.5,1589.4 821.9,1595.5 829.0,1605.0 831.5,1606.7 833.9,1607.1 839.3,1606.1 842.3,1604.9 847.7,1605.2 849.5,1604.7 852.0,1602.0 856.8,1594.2 862.0,1589.4 863.9,1585.0 873.7,1579.2 877.3,1575.6 878.9,1575.1 883.1,1575.0 891.5,1572.8 899.9,1572.3 904.1,1574.1 908.3,1573.5 915.7,1575.6 920.3,1577.9 923.9,1581.3 927.5,1583.3 933.7,1588.2 935.9,1591.8 939.3,1595.4 942.9,1601.4 943.9,1606.2 945.5,1610.4 946.1,1614.6 944.6,1626.0 942.8,1631.4 940.5,1635.0 928.1,1635.4 927.5,1648.8 923.9,1650.1 921.5,1652.4 917.9,1654.3 911.3,1656.1 906.5,1656.1 901.7,1657.5 896.3,1658.1 892.1,1657.5 888.5,1656.3 879.5,1655.6 874.1,1651.8 868.7,1650.9 867.5,1650.2 861.1,1641.6 857.9,1639.0 854.9,1633.8 845.9,1627.2 841.7,1625.9 836.3,1626.2 832.1,1625.3 827.9,1626.7 824.7,1628.4 817.1,1638.7 815.3,1642.5 813.5,1644.7 805.1,1650.3 796.7,1654.3 795.5,1655.7 793.6,1660.2 790.7,1663.8 787.1,1666.7 783.5,1668.1 M784.7,1670.0 782.3,1670.3 778.1,1669.1 776.3,1667.4 774.2,1663.8 769.4,1652.4 767.8,1644.6 764.9,1637.5 760.8,1630.8 759.7,1625.4 758.1,1620.6 756.9,1614.0 757.5,1609.2 757.6,1602.0 761.8,1593.6 768.2,1585.8 775.1,1581.8 778.7,1579.1 783.5,1578.2 787.1,1576.5 795.5,1575.2 797.9,1575.3 807.5,1577.6 810.5,1579.6 815.3,1584.6 819.5,1587.7 822.7,1594.2 826.7,1599.5 830.9,1601.6 833.3,1603.5 835.1,1603.9 836.9,1603.6 841.1,1601.5 845.3,1601.7 847.1,1601.0 852.8,1596.0 857.9,1587.6 863.3,1582.6 869.3,1579.3 877.1,1573.6 878.9,1573.1 881.9,1573.2 884.9,1572.1 892.1,1570.6 895.7,1571.0 900.5,1570.3 906.5,1570.8 911.9,1572.7 917.3,1573.7 920.9,1575.2 925.1,1578.9 934.1,1585.3 943.7,1596.8 946.4,1603.2 948.1,1609.8 948.0,1616.4 947.1,1622.4 948.1,1626.6 947.9,1628.4 943.8,1635.0 928.1,1635.5 927.5,1651.4 925.7,1652.2 923.3,1654.3 918.5,1656.8 910.7,1658.5 906.5,1657.8 902.3,1659.4 895.7,1660.1 890.9,1659.9 883.1,1658.1 877.7,1658.5 871.7,1654.2 868.1,1653.5 866.1,1652.4 860.0,1643.4 856.7,1640.5 854.8,1636.8 853.1,1634.9 840.5,1628.4 836.3,1628.6 832.7,1627.4 829.2,1628.4 826.6,1630.2 821.7,1635.0 816.0,1644.0 814.1,1646.3 807.6,1651.2 802.1,1653.3 797.3,1656.4 791.3,1665.3 787.7,1668.4 784.7,1670.0 M843.5,1590.9 842.9,1590.8 842.3,1590.0 842.0,1583.4 842.9,1581.7 844.1,1581.4 845.4,1582.2 846.4,1585.2 848.2,1587.0 848.4,1588.2 847.7,1589.0 845.3,1589.5 843.5,1590.9 M784.1,1673.6 782.3,1673.7 777.5,1671.4 775.7,1669.4 773.8,1665.6 768.5,1653.0 766.7,1645.6 763.7,1638.0 760.2,1633.2 757.9,1627.2 756.2,1620.0 755.0,1611.6 755.7,1608.0 755.6,1602.0 761.2,1591.2 767.9,1584.1 778.7,1577.5 787.7,1574.0 797.3,1573.6 807.5,1576.0 811.7,1578.2 815.3,1582.2 820.9,1586.4 821.9,1587.9 823.7,1592.8 827.9,1598.4 831.5,1599.4 836.3,1599.7 841.0,1599.0 844.6,1597.2 844.7,1596.6 841.7,1594.8 840.1,1593.0 839.8,1586.4 838.8,1582.8 839.9,1579.5 842.9,1577.0 844.7,1577.3 849.1,1581.6 850.7,1584.2 852.5,1585.4 859.1,1583.8 866.9,1575.8 871.7,1574.4 877.7,1571.0 881.3,1570.8 884.3,1569.5 888.5,1569.7 893.3,1568.3 907.7,1568.6 911.3,1570.3 917.3,1571.3 919.7,1572.2 925.7,1576.1 933.5,1579.3 937.4,1585.8 941.9,1591.3 945.1,1594.2 946.6,1599.0 949.0,1602.6 950.3,1608.6 949.9,1613.4 951.1,1617.6 950.3,1621.2 951.0,1624.8 950.0,1629.0 948.2,1633.2 947.2,1635.0 928.1,1635.5 927.5,1654.5 919.7,1658.5 910.1,1660.4 906.5,1659.9 902.9,1661.8 899.3,1661.7 894.5,1662.6 891.5,1662.4 887.3,1661.2 882.5,1661.3 877.1,1660.7 871.7,1656.7 866.9,1654.7 864.3,1653.0 855.3,1642.8 853.7,1638.9 851.9,1637.0 840.5,1630.8 839.3,1630.5 836.3,1630.7 833.3,1629.4 832.1,1629.4 829.7,1630.5 823.5,1635.6 821.4,1639.2 815.2,1647.6 808.7,1652.9 803.3,1654.7 798.5,1657.9 791.9,1666.5 787.1,1671.7 784.1,1673.6 M850.6,1593.0 851.0,1591.8 850.7,1591.4 849.5,1592.2 849.2,1593.0 850.1,1593.4 850.6,1593.0" fill="none" stroke="#5e5e5e" stroke-width="1.1" stroke-linejoin="round"/>
<ellipse cx="792.4" cy="1504.8" rx="7.4" ry="12.3" fill="none" stroke="#6e6e6e" stroke-width="1.1"/>
<ellipse cx="913.2" cy="1478.2" rx="10" ry="8.5" fill="none" stroke="#6e6e6e" stroke-width="1.1"/>
<path d="M698.9,1455.6H706.9 M698.9,1515.7H706.9 M698.9,1582.8H706.9 M698.9,1625.8H706.9 M698.9,1665.7H706.9 M702.4,1497.6H706.9 M702.4,1487.0H706.9 M702.4,1479.5H706.9 M702.4,1473.7H706.9 M702.4,1468.9H706.9 M702.4,1464.9H706.9 M702.4,1461.4H706.9 M702.4,1458.4H706.9 M702.4,1562.6H706.9 M702.4,1550.8H706.9 M702.4,1542.4H706.9 M702.4,1535.9H706.9 M702.4,1530.6H706.9 M702.4,1526.1H706.9 M702.4,1522.2H706.9 M702.4,1518.8H706.9 M702.4,1437.4H706.9 M702.4,1444.9H706.9 M702.4,1449.9H706.9 M702.4,1592.1H706.9 M702.4,1599.6H706.9 M702.4,1607.1H706.9 M702.4,1612.0H706.9 M702.4,1617.0H706.9 M702.4,1634.5H706.9 M702.4,1639.5H706.9 M702.4,1647.0H706.9 M702.4,1654.5H706.9 M702.4,1659.4H706.9 M820.5,1681.9V1689.9 M896.9,1681.9V1689.9 M962.0,1681.9V1689.9 M843.5,1681.9V1686.4 M857.0,1681.9V1686.4 M866.5,1681.9V1686.4 M873.9,1681.9V1686.4 M880.0,1681.9V1686.4 M885.1,1681.9V1686.4 M889.5,1681.9V1686.4 M893.4,1681.9V1686.4 M916.5,1681.9V1686.4 M928.0,1681.9V1686.4 M936.1,1681.9V1686.4 M942.4,1681.9V1686.4 M947.6,1681.9V1686.4 M951.9,1681.9V1686.4 M955.7,1681.9V1686.4 M959.0,1681.9V1686.4 M710.9,1681.9V1686.4 M717.5,1681.9V1686.4 M724.1,1681.9V1686.4 M730.7,1681.9V1686.4 M737.3,1681.9V1686.4 M743.9,1681.9V1686.4 M750.5,1681.9V1686.4 M757.1,1681.9V1686.4 M783.0,1681.9V1686.4 M789.6,1681.9V1686.4 M796.2,1681.9V1686.4 M802.8,1681.9V1686.4 M809.4,1681.9V1686.4 M816.0,1681.9V1686.4 M981.5,1681.9V1686.4" stroke="#333" stroke-width="1.6" fill="none"/>
<rect x="699.9" y="1620.76" width="6" height="10" fill="#222" stroke="none" stroke-width="0"/>
<rect x="760" y="1682.9" width="20" height="5" fill="#222" stroke="none" stroke-width="0"/>
<rect x="706.9" y="1432.4" width="286.4" height="249.5" fill="none" stroke="#555" stroke-width="1.6"/>
<line x1="844" y1="1432.4" x2="844" y2="1681.9" stroke="#111" stroke-width="2.1"/>
<line x1="706.9" y1="1561.5" x2="993.3" y2="1561.5" stroke="#111" stroke-width="2.1"/>
<text x="770" y="1728.8" font-size="26" text-anchor="middle" font-family="'Noto Sans CJK KR', sans-serif">0</text>
<text x="801" y="1728.8" font-size="26" font-family="'Noto Sans CJK KR', sans-serif">10<tspan font-size="17.5" dy="-8">3</tspan></text>
<text x="878.4" y="1728.8" font-size="26" font-family="'Noto Sans CJK KR', sans-serif">10<tspan font-size="17.5" dy="-8">4</tspan></text>
<text x="943" y="1728.8" font-size="26" font-family="'Noto Sans CJK KR', sans-serif">10<tspan font-size="17.5" dy="-8">5</tspan></text>
<text x="716" y="1467.6" font-size="26">2.9</text>
<text x="935" y="1467.6" font-size="26">1.5</text>
<text x="933.8" y="1665.8" font-size="26">63.7</text>
<path d="M461.4,1963.4 460.2,1963.2 459.5,1962.0 459.8,1960.8 460.8,1960.0 462.0,1960.4 462.5,1961.4 462.3,1962.6 461.4,1963.4 M584.4,1963.4 582.0,1963.7 579.0,1962.9 577.2,1961.9 576.0,1960.2 575.7,1957.8 576.3,1955.4 577.8,1953.6 579.6,1952.5 581.4,1952.1 583.8,1952.6 586.1,1954.2 587.4,1956.0 587.8,1957.8 587.3,1960.2 586.2,1962.2 584.4,1963.4 M462.0,1968.1 459.6,1968.0 457.2,1966.8 456.0,1965.5 455.2,1963.2 455.3,1960.2 456.2,1957.8 458.0,1955.4 460.2,1954.5 462.6,1954.7 464.4,1955.8 465.8,1957.8 466.7,1960.8 466.7,1963.2 465.8,1965.6 464.0,1967.4 462.0,1968.1 M584.4,1967.4 580.2,1967.6 574.8,1965.3 572.6,1963.2 570.8,1959.6 570.8,1956.6 573.4,1951.8 576.0,1949.7 579.6,1948.1 583.2,1947.6 585.6,1948.2 590.5,1953.6 591.5,1955.4 591.6,1960.2 590.0,1963.8 588.0,1966.2 584.4,1967.4 M462.6,1971.7 458.4,1971.4 454.8,1969.4 452.9,1966.8 452.0,1962.6 452.3,1957.8 454.8,1953.2 456.6,1951.5 460.2,1950.3 463.8,1950.9 466.8,1952.7 469.5,1956.6 470.3,1959.6 470.0,1963.8 468.3,1968.0 465.6,1970.6 462.6,1971.7 M584.4,1970.4 577.8,1970.8 575.4,1970.2 569.1,1965.6 567.7,1963.8 566.8,1961.4 566.5,1957.2 568.2,1952.0 573.0,1946.5 577.2,1944.3 582.6,1943.6 588.6,1945.2 591.5,1947.6 594.4,1953.6 594.8,1960.8 594.2,1963.2 593.0,1965.6 589.8,1968.9 584.4,1970.4 M464.4,1974.7 458.4,1974.6 453.6,1972.1 452.0,1970.4 450.7,1968.0 449.3,1962.6 450.0,1956.0 452.3,1951.2 455.4,1948.6 460.8,1946.3 463.8,1946.9 468.5,1950.0 472.0,1955.4 472.9,1958.4 472.9,1963.8 470.7,1969.8 468.0,1973.2 464.4,1974.7 M582.6,1973.4 578.4,1974.0 576.0,1973.7 571.2,1970.8 567.0,1969.0 564.7,1966.8 562.2,1961.4 564.8,1951.2 567.6,1947.0 572.4,1942.6 580.8,1940.3 588.6,1941.2 592.2,1943.4 597.2,1950.0 598.0,1957.2 597.4,1963.8 593.4,1969.9 591.6,1971.3 588.6,1972.4 582.6,1973.4 M465.0,1977.7 458.4,1977.7 455.4,1976.5 452.4,1974.6 450.4,1972.2 448.3,1968.0 446.7,1962.6 448.1,1954.2 450.6,1949.4 452.2,1947.6 454.2,1946.2 457.8,1944.2 460.2,1943.5 463.8,1943.9 467.4,1945.5 469.8,1947.2 473.5,1953.0 476.0,1959.0 475.5,1965.6 473.5,1971.0 469.2,1975.9 467.4,1977.0 465.0,1977.7 M578.4,1976.5 576.0,1976.7 574.8,1976.3 571.2,1973.5 564.6,1970.6 561.7,1968.0 559.2,1960.8 561.6,1949.4 563.0,1947.0 566.7,1943.4 570.6,1940.5 576.0,1938.0 581.4,1936.7 585.0,1937.7 589.2,1937.9 594.0,1941.2 599.3,1947.6 600.7,1953.6 601.0,1960.2 600.6,1963.2 598.5,1968.0 593.4,1973.5 587.4,1975.7 578.4,1976.5 M462.0,1980.6 456.6,1980.2 450.6,1976.6 448.5,1974.0 445.7,1968.0 444.2,1962.0 446.1,1952.4 449.6,1946.4 456.0,1942.0 462.0,1940.7 464.4,1941.1 468.6,1942.8 472.6,1945.8 477.7,1955.4 478.7,1959.6 477.7,1967.4 474.8,1973.4 468.6,1979.2 465.6,1980.2 462.0,1980.6 M584.4,1978.9 574.8,1978.8 570.6,1976.1 564.6,1973.4 560.4,1970.1 558.7,1968.0 557.7,1965.6 556.7,1960.2 557.6,1950.6 558.3,1948.2 559.5,1946.4 563.4,1942.4 568.8,1938.3 575.4,1934.7 579.0,1933.7 581.4,1933.8 589.8,1935.4 592.2,1936.7 596.4,1940.1 601.4,1946.4 603.2,1952.4 603.8,1956.0 603.9,1959.6 603.4,1963.2 600.0,1970.3 594.0,1975.9 589.2,1978.0 584.4,1978.9 M461.4,1983.0 457.2,1983.2 449.4,1979.4 446.6,1975.8 443.4,1969.5 442.0,1962.6 444.0,1951.2 448.8,1943.1 453.0,1939.7 461.4,1937.8 464.4,1938.2 467.4,1939.3 475.3,1944.6 476.5,1946.4 479.9,1954.8 481.0,1960.2 480.2,1966.8 476.8,1974.6 469.2,1981.5 465.6,1982.8 461.4,1983.0 M584.4,1981.8 580.8,1982.3 576.0,1981.5 563.4,1976.8 556.7,1969.8 553.7,1965.0 552.9,1962.6 552.8,1959.0 553.4,1955.4 553.2,1951.8 556.2,1946.0 564.0,1937.1 574.8,1931.9 578.4,1930.8 580.8,1930.9 584.4,1932.1 588.6,1932.5 592.8,1934.0 599.5,1939.2 603.9,1945.8 606.6,1955.4 606.2,1962.0 602.9,1970.4 601.8,1972.0 594.6,1978.1 589.2,1980.9 584.4,1981.8 M459.6,1986.1 457.8,1986.2 455.4,1985.4 448.8,1982.2 447.1,1980.6 445.0,1977.6 441.6,1971.0 439.8,1961.4 440.4,1956.0 442.2,1950.0 443.8,1945.8 446.9,1941.0 452.4,1937.1 459.0,1934.9 460.8,1934.7 465.0,1935.3 471.0,1938.6 478.1,1944.6 479.9,1947.6 482.7,1956.0 483.3,1961.4 482.6,1968.0 480.5,1973.4 479.0,1975.8 470.1,1984.2 466.8,1985.3 462.6,1985.2 459.6,1986.1 M584.4,1984.2 580.2,1984.6 574.2,1983.8 570.6,1981.9 561.6,1978.9 554.4,1972.4 552.6,1968.0 549.2,1963.2 548.4,1960.8 548.6,1958.4 550.1,1954.8 550.6,1950.6 553.8,1944.6 557.4,1939.4 559.4,1937.4 561.1,1935.0 562.8,1933.9 566.4,1933.0 570.0,1930.8 579.0,1928.3 581.4,1928.4 585.6,1929.4 588.6,1929.2 590.4,1929.5 597.0,1933.3 602.2,1937.4 603.2,1938.6 604.6,1942.2 606.4,1945.2 607.1,1949.4 608.8,1954.2 608.3,1961.4 607.0,1966.8 603.6,1974.3 591.6,1983.1 589.2,1983.9 584.4,1984.2 M459.6,1988.4 456.6,1988.0 451.2,1985.9 446.8,1983.0 444.5,1980.6 439.9,1972.2 437.5,1960.2 438.0,1955.4 441.4,1945.2 442.5,1943.4 445.4,1939.8 447.6,1938.0 454.8,1933.6 459.6,1932.2 466.2,1932.8 474.2,1937.4 476.4,1939.2 480.7,1944.6 482.3,1947.6 485.1,1954.8 485.7,1961.4 484.7,1969.2 483.0,1974.1 481.2,1976.9 478.2,1979.4 474.1,1984.8 471.0,1986.6 466.8,1987.4 463.2,1987.4 459.6,1988.4 M580.8,1986.6 571.2,1985.5 565.9,1982.4 561.0,1981.0 558.2,1979.4 553.0,1974.6 548.4,1968.6 546.3,1965.0 545.8,1963.2 545.3,1955.4 551.0,1944.0 553.6,1941.0 556.0,1936.8 561.0,1931.7 567.0,1928.0 571.2,1927.4 576.0,1925.8 588.6,1926.0 591.6,1927.1 594.9,1929.6 598.8,1931.7 603.6,1935.5 608.1,1942.8 609.8,1948.8 611.3,1951.8 610.2,1957.8 610.5,1962.0 610.2,1966.2 609.6,1968.0 607.2,1971.7 605.4,1976.3 600.6,1980.1 597.0,1981.8 593.8,1984.2 591.6,1985.2 580.8,1986.6 M461.4,1990.2 457.8,1990.4 450.6,1988.2 442.8,1981.5 437.0,1970.4 436.4,1965.0 435.3,1960.8 435.9,1955.4 437.4,1952.2 439.5,1944.6 441.6,1941.0 448.2,1935.0 452.4,1932.1 455.4,1930.8 459.6,1930.0 466.8,1930.9 478.8,1937.0 480.5,1940.4 483.4,1944.6 486.4,1951.8 487.8,1956.6 488.1,1962.0 486.4,1971.0 484.4,1975.8 482.5,1978.8 479.4,1981.6 475.7,1986.6 472.8,1988.4 461.4,1990.2 M467.4,1857.0 463.2,1856.5 459.8,1854.6 457.4,1851.6 456.4,1848.0 456.9,1843.8 459.0,1839.9 462.5,1837.2 466.2,1836.3 469.8,1836.8 473.5,1839.0 476.0,1842.6 477.0,1846.8 476.5,1850.4 474.6,1853.5 471.6,1855.8 467.4,1857.0 M581.4,1988.4 569.4,1987.1 567.6,1986.3 564.0,1983.7 557.4,1982.0 555.6,1981.1 547.2,1973.3 543.8,1967.4 543.2,1965.0 543.4,1959.6 542.4,1956.0 542.8,1953.6 546.4,1946.4 547.3,1942.8 548.3,1941.6 550.8,1940.1 554.5,1933.2 562.2,1928.0 565.2,1925.4 570.6,1925.1 576.0,1923.0 584.4,1922.9 590.4,1923.7 595.9,1927.8 605.6,1933.2 606.6,1934.4 607.7,1938.6 610.1,1942.2 613.6,1951.2 612.3,1957.2 613.1,1961.4 612.9,1966.8 607.0,1977.6 601.2,1982.7 597.6,1983.9 594.0,1986.2 581.4,1988.4 M459.6,1992.8 457.2,1993.0 448.8,1989.6 445.9,1986.0 441.0,1982.5 434.5,1970.4 433.2,1961.4 433.7,1956.6 435.8,1951.8 436.6,1947.6 438.3,1942.8 440.7,1938.6 449.2,1930.8 454.2,1928.9 461.4,1927.6 466.8,1928.3 472.2,1930.6 475.2,1932.7 478.8,1934.0 480.1,1935.0 481.9,1938.6 485.4,1943.4 490.3,1955.4 490.4,1961.4 491.2,1965.6 491.0,1966.8 489.5,1969.2 486.3,1976.4 483.6,1981.2 480.0,1984.2 477.0,1988.3 472.8,1990.4 459.6,1992.8 M466.2,1861.8 463.2,1861.5 460.4,1860.6 457.8,1859.1 455.4,1857.0 452.4,1852.2 451.5,1846.8 452.7,1840.8 454.3,1837.8 456.3,1835.4 458.4,1833.6 461.4,1832.0 464.4,1831.2 467.4,1831.0 472.8,1832.3 475.2,1833.7 477.7,1836.0 479.5,1838.4 480.9,1841.4 481.7,1844.4 481.9,1848.0 480.5,1853.4 477.2,1857.6 472.2,1860.6 466.2,1861.8 M585.0,1990.9 577.2,1990.4 568.2,1988.6 566.4,1988.0 563.4,1985.9 554.4,1983.3 549.6,1978.8 546.0,1976.3 541.1,1969.8 539.7,1965.6 535.8,1964.1 534.5,1961.4 534.8,1959.6 538.9,1953.6 540.0,1949.8 543.3,1945.8 545.2,1941.0 552.6,1932.0 558.0,1927.9 561.6,1926.3 564.6,1923.5 569.4,1922.7 575.4,1920.7 590.4,1921.2 594.6,1924.3 599.4,1926.2 606.6,1930.9 609.0,1933.3 609.7,1937.4 612.8,1943.4 615.5,1950.6 616.1,1959.6 615.3,1965.6 611.9,1975.2 608.4,1979.0 602.2,1984.2 598.2,1984.3 597.7,1984.8 597.6,1986.6 595.8,1987.8 591.0,1988.7 585.0,1990.9 M458.4,1995.8 456.0,1995.6 447.6,1991.1 444.0,1987.2 439.3,1984.2 432.9,1971.6 432.4,1966.8 431.3,1962.6 431.7,1957.2 433.8,1951.3 434.0,1947.6 437.2,1940.4 441.0,1935.2 447.0,1929.7 451.2,1927.2 458.4,1925.2 461.4,1924.8 466.8,1925.9 471.6,1927.9 478.8,1931.3 481.5,1933.8 483.4,1937.4 486.3,1941.0 488.4,1945.3 490.8,1948.3 491.6,1951.8 493.3,1956.0 493.5,1962.6 494.2,1967.4 493.7,1969.2 491.5,1972.2 489.8,1976.4 485.8,1983.0 484.2,1984.6 481.2,1986.3 478.2,1990.0 472.8,1992.5 462.6,1994.0 458.4,1995.8 M467.4,1865.4 463.8,1865.5 460.8,1864.8 457.8,1863.4 454.2,1860.8 451.3,1857.6 449.5,1854.6 448.3,1851.6 447.8,1848.0 448.0,1843.8 449.0,1840.2 450.6,1836.6 453.0,1833.3 455.9,1830.6 459.0,1828.8 462.6,1827.5 466.2,1827.0 469.8,1827.3 473.4,1828.3 476.6,1830.0 479.5,1832.4 482.0,1835.4 484.0,1839.0 485.1,1842.6 485.6,1846.8 485.3,1850.4 484.5,1853.4 482.9,1856.4 480.6,1859.2 477.6,1861.7 474.6,1863.4 467.4,1865.4 M583.2,1993.2 576.0,1992.9 572.4,1991.3 566.4,1990.3 552.0,1984.3 547.8,1980.8 543.6,1978.8 541.9,1975.8 538.2,1973.4 535.8,1969.9 531.6,1968.4 531.4,1968.0 532.3,1965.6 532.1,1963.8 529.2,1959.6 529.7,1957.8 532.8,1956.1 535.3,1953.0 538.0,1946.4 541.2,1943.8 542.5,1940.4 545.1,1937.4 549.2,1930.8 553.8,1929.1 556.8,1925.5 560.4,1924.7 564.0,1921.5 576.6,1918.2 590.4,1918.9 592.8,1920.0 595.2,1922.1 599.0,1923.0 601.3,1924.2 609.0,1930.5 610.8,1932.6 614.4,1941.0 617.9,1951.2 618.1,1965.0 615.3,1973.4 613.4,1977.0 605.4,1984.2 598.2,1984.5 597.8,1984.8 597.6,1989.6 583.2,1993.2 M459.0,1998.1 456.6,1998.4 454.2,1997.5 446.4,1992.7 442.1,1988.4 437.8,1985.4 433.4,1977.6 431.7,1973.4 431.0,1967.4 429.8,1963.2 429.8,1957.8 431.2,1952.4 431.7,1947.6 435.3,1939.8 439.9,1933.8 444.9,1929.0 450.6,1924.8 455.4,1922.5 457.2,1922.3 461.4,1922.5 469.2,1924.5 475.2,1927.7 479.4,1929.2 483.4,1933.2 484.9,1936.2 487.8,1939.8 489.6,1943.4 491.8,1945.8 494.2,1951.8 496.9,1956.6 498.0,1957.7 501.0,1957.8 501.8,1958.4 502.2,1959.6 502.0,1960.8 501.0,1961.8 498.0,1962.1 497.4,1962.6 497.0,1964.4 497.9,1967.4 497.5,1969.2 494.5,1974.6 487.2,1985.4 483.0,1987.8 479.4,1991.5 475.2,1994.0 465.0,1996.1 459.0,1998.1 M465.6,1869.0 462.0,1868.8 459.0,1867.7 454.2,1864.6 450.4,1861.2 447.7,1857.6 445.9,1854.0 444.9,1850.4 444.7,1846.2 445.4,1841.4 446.8,1837.2 449.2,1833.0 451.8,1829.9 455.4,1827.1 459.0,1825.2 463.2,1824.0 467.4,1823.7 471.6,1824.3 475.8,1825.8 479.4,1828.0 482.8,1831.2 485.4,1834.8 487.3,1839.0 488.4,1843.2 488.7,1848.0 488.2,1851.6 487.0,1855.2 484.9,1858.8 482.2,1861.8 478.8,1864.4 475.2,1866.3 469.8,1868.1 465.6,1869.0 M457.8,1999.8 454.8,1999.6 450.0,1997.3 445.9,1996.2 443.9,1993.2 440.6,1989.6 435.8,1985.4 432.0,1979.4 430.9,1977.0 429.8,1972.2 429.6,1968.0 428.5,1964.4 428.1,1958.4 430.4,1946.4 433.9,1938.6 442.8,1928.1 446.1,1926.0 450.0,1922.6 453.6,1920.7 461.4,1919.9 465.0,1920.0 471.0,1922.6 475.0,1925.4 480.0,1927.0 485.6,1932.6 490.0,1939.2 491.4,1942.2 496.1,1948.8 497.9,1952.4 499.8,1953.6 504.4,1954.8 507.0,1956.9 510.0,1954.6 514.2,1954.4 520.2,1952.7 522.6,1952.6 526.2,1953.6 528.5,1953.0 531.0,1950.7 534.0,1949.2 535.8,1945.2 538.0,1942.8 539.0,1939.8 543.6,1935.8 547.8,1929.0 553.2,1927.3 555.0,1924.2 556.4,1923.0 559.8,1921.8 564.0,1919.3 570.6,1916.9 577.2,1915.9 583.8,1915.6 586.8,1916.2 590.4,1916.2 594.0,1917.0 597.0,1919.9 603.3,1923.0 609.6,1928.1 612.4,1931.4 615.1,1936.2 619.8,1950.0 619.8,1961.4 620.6,1964.4 620.4,1966.0 617.1,1974.6 614.8,1978.2 610.2,1983.0 608.7,1984.2 597.9,1984.8 597.6,1992.0 597.0,1992.3 584.4,1995.0 576.0,1995.0 560.4,1990.7 555.8,1987.8 551.4,1986.6 546.0,1983.8 540.0,1979.2 535.1,1977.0 532.2,1974.3 527.7,1972.8 525.0,1969.7 522.6,1969.0 521.4,1965.5 520.8,1964.8 519.6,1964.6 514.6,1967.4 512.5,1970.4 510.0,1971.5 507.9,1971.0 507.7,1968.0 507.0,1966.6 505.2,1966.3 501.6,1967.0 500.6,1968.6 499.9,1972.8 499.1,1974.6 493.2,1979.4 489.9,1986.0 489.0,1986.9 484.2,1989.4 476.4,1995.7 462.6,1999.5 457.8,1999.8 M465.6,1872.7 462.6,1873.1 460.2,1872.3 453.0,1867.0 448.0,1862.4 445.3,1858.8 443.3,1854.6 442.2,1850.4 442.0,1846.2 442.7,1840.8 444.3,1836.0 446.7,1831.8 450.0,1827.8 453.6,1824.8 457.8,1822.6 462.6,1821.2 467.4,1820.8 472.2,1821.5 477.0,1823.2 481.2,1825.9 484.8,1829.3 487.5,1833.0 489.8,1837.8 491.0,1842.6 491.4,1848.0 490.8,1852.2 489.4,1856.4 487.3,1860.0 484.2,1863.5 481.2,1865.9 477.6,1868.0 465.6,1872.7 M464.4,2001.1 454.8,2001.1 445.8,1998.4 444.0,1997.4 439.7,1992.6 437.8,1989.6 434.6,1986.6 431.8,1983.0 429.3,1977.6 428.0,1968.6 426.8,1965.6 426.6,1956.0 429.4,1944.0 433.2,1935.9 434.4,1934.2 439.0,1930.2 441.6,1926.8 447.0,1922.0 449.3,1920.6 453.6,1918.9 460.2,1917.8 464.4,1916.5 466.2,1916.9 471.6,1919.5 475.2,1923.0 479.4,1924.3 481.0,1925.4 483.6,1928.6 487.9,1932.0 492.4,1938.0 494.4,1941.9 498.4,1945.2 501.1,1948.8 504.0,1950.1 508.2,1949.8 512.4,1950.5 516.0,1949.4 519.6,1950.0 525.6,1949.4 526.3,1948.8 527.5,1945.2 528.6,1944.4 531.6,1944.6 532.8,1944.0 537.5,1938.0 543.6,1932.9 544.7,1931.4 546.0,1927.8 550.3,1924.2 556.2,1920.5 560.5,1918.8 564.6,1916.3 569.4,1915.0 579.0,1913.2 585.6,1912.5 595.2,1915.2 600.8,1919.4 607.2,1922.6 612.5,1927.8 616.5,1933.8 618.6,1941.0 620.1,1944.0 621.9,1951.8 621.4,1960.8 622.2,1964.4 621.0,1968.6 620.5,1972.2 617.4,1977.6 613.6,1981.8 612.3,1984.2 598.2,1984.6 597.6,1994.4 596.4,1995.1 594.6,1995.7 589.5,1995.6 585.0,1997.0 573.6,1996.7 559.2,1992.7 554.4,1989.8 550.8,1988.5 544.8,1985.5 539.4,1981.7 534.6,1980.3 530.4,1976.9 526.2,1976.2 522.6,1976.4 518.4,1973.8 517.2,1973.8 512.4,1975.5 505.8,1973.8 495.0,1980.2 493.2,1982.6 492.1,1986.6 491.4,1987.6 484.8,1991.2 478.2,1996.6 475.8,1997.7 464.4,2001.1 M462.0,1897.3 460.8,1896.2 459.8,1892.4 459.5,1888.2 459.8,1881.0 458.9,1877.4 456.2,1873.2 447.0,1864.7 442.9,1859.4 441.1,1855.8 440.1,1852.2 439.6,1848.6 439.7,1844.4 440.7,1839.0 442.8,1833.6 445.8,1828.8 449.4,1824.9 454.2,1821.5 459.0,1819.4 463.8,1818.4 469.2,1818.3 474.0,1819.3 478.8,1821.3 483.6,1824.5 487.2,1828.2 490.3,1833.0 492.4,1837.8 493.6,1843.2 493.8,1849.2 493.0,1853.4 491.8,1857.0 489.8,1860.6 486.8,1864.2 481.2,1868.6 469.3,1874.4 465.8,1878.0 464.6,1881.6 464.2,1893.0 463.2,1896.2 462.0,1897.3 M465.0,2002.9 453.6,2002.5 444.0,1999.5 439.2,1995.5 430.5,1984.8 427.8,1978.2 426.1,1969.8 424.9,1966.2 425.3,1960.8 425.0,1956.0 429.1,1939.8 432.1,1933.8 447.0,1918.8 450.6,1917.9 456.0,1915.7 459.6,1915.2 462.6,1913.4 467.4,1914.9 472.8,1917.7 477.0,1921.5 481.8,1923.9 484.8,1927.7 489.1,1930.8 492.3,1935.0 495.0,1937.4 498.0,1941.5 503.4,1943.4 505.8,1945.9 508.2,1946.5 510.6,1946.5 517.8,1944.9 522.6,1945.5 523.8,1945.1 527.4,1941.7 531.0,1940.8 532.6,1939.8 539.5,1932.6 541.9,1930.8 543.9,1927.2 547.2,1923.4 552.0,1920.4 554.4,1918.1 559.2,1916.4 561.6,1914.1 562.8,1913.6 567.0,1913.5 574.2,1912.1 577.8,1910.7 582.0,1910.9 586.2,1910.1 591.0,1912.2 595.8,1913.5 602.4,1918.0 608.2,1920.6 615.3,1928.4 617.7,1932.0 621.9,1943.4 622.8,1947.9 625.2,1952.4 623.7,1956.6 624.2,1963.2 622.5,1968.6 622.7,1972.8 614.7,1984.2 598.2,1984.7 597.6,1996.6 595.2,1997.4 590.4,1997.7 586.2,1999.1 582.0,1998.4 574.8,1998.5 567.6,1997.3 558.0,1994.1 546.6,1988.4 536.4,1984.9 532.8,1982.8 528.7,1981.8 526.8,1980.5 522.6,1980.0 517.8,1977.9 506.4,1981.6 505.2,1981.5 502.2,1980.0 499.8,1980.4 495.0,1984.0 493.9,1987.2 492.6,1988.9 484.8,1993.1 479.8,1997.4 473.4,2001.0 468.6,2001.3 465.0,2002.9 M461.4,2005.2 459.0,2005.3 453.6,2004.5 448.7,2002.2 442.8,2000.8 437.5,1996.2 429.2,1986.0 426.3,1979.4 423.5,1971.0 423.1,1964.4 423.6,1960.2 423.5,1955.4 424.6,1951.8 425.3,1947.0 427.6,1938.6 429.9,1933.8 433.2,1930.7 435.6,1927.2 442.2,1921.2 445.2,1917.5 453.0,1913.8 456.6,1910.4 457.7,1908.0 456.0,1878.6 453.5,1873.8 444.0,1864.6 441.4,1861.2 439.5,1857.6 437.9,1852.8 437.3,1848.0 437.7,1842.6 438.7,1837.8 440.5,1833.0 442.9,1828.8 445.8,1825.2 449.4,1821.9 453.6,1819.1 457.8,1817.3 462.6,1816.1 467.4,1815.8 472.8,1816.5 478.2,1818.3 483.0,1821.1 487.8,1825.4 491.2,1830.0 493.9,1835.4 495.6,1841.4 496.1,1847.4 495.7,1851.6 494.4,1856.4 492.3,1860.6 489.8,1864.2 486.6,1867.4 483.0,1870.0 472.0,1875.6 470.0,1877.4 468.9,1879.2 467.9,1882.8 467.2,1894.8 465.7,1905.0 466.4,1910.4 467.4,1912.2 473.4,1916.0 478.2,1920.0 482.6,1922.4 485.4,1926.0 489.6,1929.1 493.8,1934.1 497.4,1936.6 499.8,1940.3 504.0,1941.3 507.0,1943.2 508.8,1943.5 516.6,1941.7 522.1,1942.2 526.2,1938.5 530.9,1937.4 537.0,1931.0 540.5,1928.4 543.1,1924.8 549.4,1919.4 551.5,1917.0 553.2,1916.0 557.4,1914.8 561.0,1911.8 567.0,1911.1 570.6,1909.6 573.6,1909.6 577.2,1908.2 581.4,1908.5 585.6,1907.8 588.0,1908.2 591.0,1909.7 596.4,1911.3 601.1,1914.6 604.8,1916.1 608.7,1918.8 618.0,1929.0 619.1,1930.8 620.4,1935.0 622.6,1938.6 624.9,1947.6 627.0,1951.6 627.1,1953.0 626.1,1956.6 627.0,1962.0 626.4,1965.0 624.3,1968.6 624.5,1973.4 621.6,1976.7 617.4,1984.2 598.2,1984.7 597.6,1998.2 591.6,1999.5 588.0,2001.0 586.2,2001.1 582.6,2000.0 579.0,2000.3 568.2,1999.4 551.4,1993.4 545.4,1990.2 542.4,1989.4 538.2,1989.0 532.2,1984.8 526.8,1985.0 519.6,1982.0 515.4,1981.3 507.6,1984.0 501.6,1983.4 497.3,1986.0 493.2,1990.1 485.4,1994.7 482.4,1998.0 474.6,2002.5 472.8,2003.1 469.2,2002.9 465.0,2004.6 461.4,2005.2 M461.4,2007.1 458.4,2007.1 452.4,2006.0 447.6,2003.3 442.1,2002.2 431.2,1992.0 424.8,1980.6 421.4,1972.2 421.2,1963.2 421.8,1959.0 421.8,1954.8 423.0,1951.0 423.3,1947.0 427.4,1935.0 429.6,1931.7 432.0,1929.5 433.8,1925.3 436.2,1922.2 437.4,1921.2 441.6,1919.3 444.6,1915.8 451.3,1912.2 454.1,1908.6 455.0,1905.6 454.5,1884.0 453.9,1879.2 453.0,1876.8 451.3,1874.4 444.0,1867.6 441.0,1864.2 437.3,1857.6 435.8,1852.8 435.3,1848.0 435.6,1842.0 436.9,1836.6 438.8,1831.8 441.6,1827.0 445.1,1822.8 448.8,1819.6 453.0,1817.0 457.2,1815.2 462.0,1814.0 467.4,1813.6 473.4,1814.4 479.4,1816.5 484.2,1819.3 488.9,1823.4 492.6,1828.2 495.4,1833.6 497.3,1839.6 498.1,1846.2 497.8,1851.6 496.6,1856.4 494.7,1860.6 491.9,1864.8 488.4,1868.4 484.8,1871.2 473.4,1877.3 470.9,1880.4 469.7,1885.2 468.3,1905.0 468.8,1908.0 470.6,1911.6 477.6,1917.0 484.2,1921.3 486.6,1924.4 490.2,1927.3 495.0,1932.8 499.2,1935.2 501.3,1938.6 509.4,1940.7 514.8,1939.4 520.2,1938.8 525.6,1935.6 531.0,1934.1 535.7,1929.0 550.2,1915.2 556.2,1913.0 561.0,1908.8 562.8,1908.4 567.0,1908.7 576.6,1906.5 582.6,1906.1 588.6,1906.4 595.8,1908.3 600.0,1910.8 603.0,1911.3 604.2,1912.0 607.8,1916.0 611.2,1918.2 613.9,1920.6 619.4,1927.8 622.0,1933.8 624.6,1937.4 625.3,1939.2 626.9,1947.0 628.6,1951.8 628.0,1956.6 628.7,1962.6 628.2,1966.2 626.3,1969.8 626.1,1974.0 623.4,1977.0 620.0,1984.2 598.2,1984.7 597.6,1999.7 591.6,2001.2 588.0,2002.8 586.2,2002.9 583.2,2002.0 579.6,2002.2 575.4,2001.6 568.8,2002.6 562.8,1998.7 558.0,1997.8 550.2,1995.5 545.9,1992.6 543.6,1991.6 537.6,1991.1 532.0,1987.2 526.8,1987.6 519.0,1985.2 515.4,1985.6 512.4,1985.1 507.6,1986.2 504.0,1985.7 502.2,1985.9 487.2,1995.6 484.9,1998.6 483.3,1999.8 480.2,2001.0 474.0,2004.4 469.2,2004.9 465.6,2006.2 461.4,2007.1" fill="none" stroke="#5e5e5e" stroke-width="1.1" stroke-linejoin="round"/>
<ellipse cx="573.2" cy="1853" rx="6" ry="7" fill="none" stroke="#6e6e6e" stroke-width="1.1"/>
<path d="M550.2,1825.7h1.3v1.3h-1.3zM588.8,1818.6h1.3v1.3h-1.3zM575.2,1845.3h1.3v1.3h-1.3zM518.8,1858.2h1.3v1.3h-1.3zM516.4,1851.5h1.3v1.3h-1.3zM520.2,1820.3h1.3v1.3h-1.3zM562.1,1887.2h1.3v1.3h-1.3zM526.6,1832.3h1.3v1.3h-1.3zM586.0,1898.2h1.3v1.3h-1.3zM580.1,1848.1h1.3v1.3h-1.3zM627.2,1816.2h1.3v1.3h-1.3zM613.3,1838.4h1.3v1.3h-1.3zM529.0,1822.7h1.3v1.3h-1.3zM548.4,1886.3h1.3v1.3h-1.3zM533.3,1864.9h1.3v1.3h-1.3zM587.4,1845.9h1.3v1.3h-1.3zM576.6,1817.7h1.3v1.3h-1.3zM519.0,1830.7h1.3v1.3h-1.3zM592.3,1850.9h1.3v1.3h-1.3zM549.1,1865.3h1.3v1.3h-1.3zM565.5,1839.3h1.3v1.3h-1.3zM605.7,1875.6h1.3v1.3h-1.3zM540.8,1864.3h1.3v1.3h-1.3zM574.0,1891.6h1.3v1.3h-1.3zM598.1,1838.2h1.3v1.3h-1.3zM627.7,1822.7h1.3v1.3h-1.3zM561.3,1880.9h1.3v1.3h-1.3zM529.9,1856.5h1.3v1.3h-1.3zM516.6,1872.8h1.3v1.3h-1.3zM602.2,1864.1h1.3v1.3h-1.3zM615.3,1840.6h1.3v1.3h-1.3zM594.0,1866.1h1.3v1.3h-1.3zM580.4,1853.5h1.3v1.3h-1.3zM611.1,1898.0h1.3v1.3h-1.3zM567.9,1872.4h1.3v1.3h-1.3zM519.2,1875.8h1.3v1.3h-1.3zM588.4,1902.4h1.3v1.3h-1.3zM609.0,1837.9h1.3v1.3h-1.3zM557.5,1872.8h1.3v1.3h-1.3zM514.7,1854.0h1.3v1.3h-1.3zM531.8,1822.7h1.3v1.3h-1.3zM519.0,1881.9h1.3v1.3h-1.3zM527.3,1834.5h1.3v1.3h-1.3zM558.1,1891.3h1.3v1.3h-1.3zM521.5,1852.9h1.3v1.3h-1.3z" fill="#777"/>
<path d="M370.2,1803.4H378.2 M370.2,1863.0H378.2 M370.2,1929.5H378.2 M370.2,1972.0H378.2 M370.2,2011.5H378.2 M373.7,1845.0H378.2 M373.7,1834.5H378.2 M373.7,1827.1H378.2 M373.7,1821.3H378.2 M373.7,1816.6H378.2 M373.7,1812.6H378.2 M373.7,1809.2H378.2 M373.7,1806.1H378.2 M373.7,1909.4H378.2 M373.7,1897.7H378.2 M373.7,1889.4H378.2 M373.7,1883.0H378.2 M373.7,1877.7H378.2 M373.7,1873.3H378.2 M373.7,1869.4H378.2 M373.7,1866.0H378.2 M373.7,1785.3H378.2 M373.7,1792.8H378.2 M373.7,1797.7H378.2 M373.7,1938.6H378.2 M373.7,1946.0H378.2 M373.7,1953.4H378.2 M373.7,1958.4H378.2 M373.7,1963.3H378.2 M373.7,1980.6H378.2 M373.7,1985.6H378.2 M373.7,1993.0H378.2 M373.7,2000.4H378.2 M373.7,2005.4H378.2 M497.8,2027.6V2035.6 M575.0,2027.6V2035.6 M640.1,2027.6V2035.6 M521.0,2027.6V2032.1 M534.6,2027.6V2032.1 M544.3,2027.6V2032.1 M551.8,2027.6V2032.1 M557.9,2027.6V2032.1 M563.0,2027.6V2032.1 M567.5,2027.6V2032.1 M571.5,2027.6V2032.1 M594.6,2027.6V2032.1 M606.1,2027.6V2032.1 M614.2,2027.6V2032.1 M620.5,2027.6V2032.1 M625.7,2027.6V2032.1 M630.0,2027.6V2032.1 M633.8,2027.6V2032.1 M637.1,2027.6V2032.1 M382.2,2027.6V2032.1 M388.8,2027.6V2032.1 M395.4,2027.6V2032.1 M402.0,2027.6V2032.1 M408.6,2027.6V2032.1 M415.2,2027.6V2032.1 M421.8,2027.6V2032.1 M447.9,2027.6V2032.1 M454.5,2027.6V2032.1 M461.1,2027.6V2032.1 M467.7,2027.6V2032.1 M474.3,2027.6V2032.1 M480.9,2027.6V2032.1 M487.5,2027.6V2032.1 M494.1,2027.6V2032.1 M659.6,2027.6V2032.1" stroke="#333" stroke-width="1.6" fill="none"/>
<rect x="371.2" y="1966.98" width="6" height="10" fill="#222" stroke="none" stroke-width="0"/>
<rect x="424.9" y="2028.6" width="20" height="5" fill="#222" stroke="none" stroke-width="0"/>
<rect x="378.2" y="1780.4" width="286.8" height="247.2" fill="none" stroke="#555" stroke-width="1.6"/>
<line x1="507" y1="1780.4" x2="507" y2="2027.6" stroke="#111" stroke-width="2.1"/>
<line x1="378.2" y1="1907.8" x2="665" y2="1907.8" stroke="#111" stroke-width="2.1"/>
<text x="434.9" y="2071.8" font-size="26" text-anchor="middle" font-family="'Noto Sans CJK KR', sans-serif">0</text>
<text x="478.3" y="2071.8" font-size="26" font-family="'Noto Sans CJK KR', sans-serif">10<tspan font-size="17.5" dy="-8">3</tspan></text>
<text x="556.5" y="2071.8" font-size="26" font-family="'Noto Sans CJK KR', sans-serif">10<tspan font-size="17.5" dy="-8">4</tspan></text>
<text x="621.1" y="2071.8" font-size="26" font-family="'Noto Sans CJK KR', sans-serif">10<tspan font-size="17.5" dy="-8">5</tspan></text>
<text x="317.5" y="1819.3" font-size="26" font-family="'Noto Sans CJK KR', sans-serif">10<tspan font-size="17.5" dy="-8">5</tspan></text>
<text x="317.5" y="1877.5" font-size="26" font-family="'Noto Sans CJK KR', sans-serif">10<tspan font-size="17.5" dy="-8">4</tspan></text>
<text x="317.5" y="1940.6" font-size="26" font-family="'Noto Sans CJK KR', sans-serif">10<tspan font-size="17.5" dy="-8">3</tspan></text>
<text x="331.8" y="1985.3" font-size="26" font-family="'Noto Sans CJK KR', sans-serif">0</text>
<text x="317.5" y="2025.2" font-size="26" font-family="'Noto Sans CJK KR', sans-serif">10<tspan font-size="17.5" dy="-8">-3</tspan></text>
<text x="386.4" y="1814" font-size="26">10.5</text>
<text x="602.7" y="1814" font-size="26">4.46</text>
<text x="603.9" y="2016.2" font-size="26">41.8</text>
<path d="M783.9,1969.8 782.7,1969.8 782.1,1968.8 782.4,1967.4 783.3,1966.9 784.7,1968.0 784.6,1969.2 783.9,1969.8 M785.1,1974.0 782.7,1974.2 780.9,1973.5 779.2,1972.2 778.2,1970.4 778.1,1967.4 778.9,1964.4 780.3,1962.3 782.1,1961.4 784.5,1961.6 786.6,1962.6 788.4,1964.4 789.3,1966.6 789.5,1969.2 788.9,1971.0 787.4,1972.8 785.1,1974.0 M785.7,1977.1 782.1,1977.2 779.1,1976.1 776.7,1973.9 775.3,1971.0 775.4,1966.2 776.7,1962.2 779.1,1958.7 781.5,1957.4 785.7,1957.6 788.6,1959.0 791.2,1962.0 792.8,1965.6 792.9,1969.2 791.7,1972.8 789.3,1975.5 785.7,1977.1 M785.1,1980.0 780.3,1979.7 776.7,1977.8 774.2,1974.6 772.6,1969.8 772.7,1965.6 775.2,1959.0 777.9,1955.7 781.5,1954.2 786.9,1954.4 790.4,1956.0 794.7,1961.4 796.0,1965.0 795.9,1969.8 793.9,1975.2 790.5,1978.4 785.1,1980.0 M785.1,1982.4 782.7,1982.7 779.1,1982.0 774.9,1979.5 772.0,1975.8 770.2,1969.2 770.1,1966.2 770.8,1962.6 773.4,1956.6 777.9,1952.1 782.7,1950.3 788.7,1951.6 792.3,1953.3 797.1,1959.9 798.3,1964.4 798.4,1971.6 797.4,1974.6 796.0,1977.0 791.7,1980.8 785.1,1982.4 M784.5,1984.8 782.7,1985.0 778.5,1984.2 774.3,1981.7 769.8,1977.0 768.2,1971.0 768.5,1963.2 770.8,1956.6 776.7,1949.2 778.5,1947.8 780.9,1947.1 786.9,1947.7 791.7,1949.5 794.1,1951.0 798.3,1956.0 799.7,1959.6 800.5,1963.2 800.9,1972.2 800.3,1974.6 798.5,1977.6 795.9,1980.8 792.9,1982.8 784.5,1984.8 M783.3,1987.2 780.3,1987.1 777.3,1986.1 770.7,1981.1 767.5,1977.0 766.1,1971.6 766.4,1963.8 769.4,1954.2 773.0,1949.4 775.5,1946.9 778.5,1944.9 780.9,1944.4 786.9,1945.1 792.3,1946.6 796.9,1950.0 800.1,1954.0 802.0,1957.8 803.5,1968.6 802.8,1975.2 797.5,1982.4 792.3,1985.4 787.5,1985.9 783.3,1987.2 M783.9,1989.1 780.9,1989.3 777.9,1988.6 771.9,1984.9 768.9,1982.1 765.7,1977.6 764.2,1972.2 764.0,1964.4 765.7,1959.6 766.8,1953.6 769.1,1950.0 771.9,1946.9 776.7,1943.0 779.1,1942.2 786.9,1942.6 792.9,1943.8 794.7,1944.8 797.8,1947.6 802.0,1953.0 804.2,1957.8 805.5,1963.8 805.9,1969.2 804.9,1975.8 799.5,1983.2 797.1,1985.3 793.5,1987.1 783.9,1989.1 M785.1,1990.9 782.1,1991.2 778.5,1990.6 771.3,1987.5 767.5,1983.6 763.9,1978.2 762.3,1972.2 762.0,1963.8 763.4,1960.2 764.1,1955.4 765.5,1951.8 767.9,1948.2 771.3,1944.3 775.7,1941.0 779.7,1939.9 786.9,1939.8 790.5,1941.0 794.1,1941.2 795.9,1942.3 799.0,1945.2 804.0,1952.4 806.8,1959.6 807.7,1963.8 808.0,1968.6 807.1,1976.4 806.1,1978.2 803.0,1981.2 800.4,1985.4 795.9,1988.4 785.1,1990.9 M786.3,1992.7 783.3,1993.1 780.9,1992.9 773.7,1991.1 770.7,1989.6 766.1,1984.8 762.6,1979.4 761.4,1977.0 760.4,1972.8 760.1,1963.8 761.8,1956.6 765.3,1947.9 770.5,1942.2 774.3,1939.6 780.3,1936.5 787.5,1937.1 792.3,1938.4 796.5,1940.3 799.6,1942.8 801.4,1944.6 805.8,1951.8 809.9,1961.4 809.7,1974.6 808.1,1978.8 805.2,1981.8 802.5,1986.0 797.7,1989.6 795.9,1990.4 786.3,1992.7 M787.5,1994.5 782.1,1994.8 773.7,1993.3 771.3,1992.2 763.9,1984.8 760.1,1978.2 758.6,1973.4 758.3,1962.6 759.6,1957.2 763.6,1947.0 764.7,1945.3 768.9,1941.0 775.7,1936.2 777.9,1933.5 779.1,1932.8 780.9,1933.0 783.9,1934.3 792.3,1935.4 803.3,1942.8 804.8,1944.6 806.2,1948.2 811.8,1959.0 812.3,1960.8 812.1,1974.0 810.1,1978.8 806.8,1983.6 803.1,1987.8 797.7,1991.5 787.5,1994.5 M788.1,1996.3 784.5,1996.7 773.7,1995.3 771.3,1994.1 764.1,1987.7 761.6,1984.8 758.2,1978.2 756.9,1972.8 756.5,1963.2 757.3,1958.4 762.4,1945.8 768.9,1938.3 776.7,1931.4 779.1,1930.5 788.7,1932.9 793.5,1932.9 796.5,1936.0 805.5,1941.9 807.5,1944.6 812.5,1955.4 814.0,1960.2 814.1,1974.0 811.8,1979.4 808.9,1984.2 804.3,1989.1 798.9,1992.9 788.1,1996.3 M786.3,1998.6 773.1,1996.8 767.1,1992.7 759.6,1985.4 758.7,1982.3 756.6,1978.2 755.1,1971.6 755.0,1964.4 756.1,1956.6 761.2,1944.6 762.9,1941.9 767.3,1936.8 774.9,1930.3 779.1,1928.8 780.9,1928.8 785.1,1929.9 794.1,1930.9 807.9,1941.7 814.9,1953.0 816.7,1965.6 815.8,1974.0 813.6,1980.6 806.2,1990.2 799.5,1994.7 792.9,1996.5 788.1,1998.4 786.3,1998.6 M786.3,2000.4 779.7,1999.5 776.1,1998.5 772.5,1998.2 765.9,1994.0 758.2,1986.6 757.0,1982.4 755.5,1979.4 753.2,1971.0 753.5,1965.0 754.9,1955.4 756.7,1949.4 759.7,1944.0 761.4,1939.8 764.0,1936.8 767.9,1933.8 772.0,1929.6 774.9,1928.2 779.7,1927.1 794.1,1928.7 803.1,1934.8 809.7,1940.9 816.8,1952.4 818.0,1957.8 818.1,1962.6 819.7,1968.6 817.7,1973.4 815.4,1981.8 808.3,1990.8 803.7,1994.4 798.3,1997.1 794.1,1998.0 789.3,1999.9 786.3,2000.4 M909.9,1968.0 900.3,1967.9 891.4,1965.6 887.9,1963.8 885.8,1962.0 884.8,1960.2 884.9,1957.8 886.6,1955.4 889.1,1953.6 892.7,1951.8 897.3,1950.3 902.1,1949.5 906.9,1949.2 911.1,1949.5 914.7,1950.5 917.9,1952.4 920.0,1954.8 921.0,1957.2 920.9,1960.2 919.5,1963.2 917.1,1965.5 913.5,1967.2 909.9,1968.0 M785.1,2002.2 776.1,1999.9 771.9,1999.6 764.7,1995.3 757.0,1987.2 754.2,1980.0 751.3,1970.4 753.4,1955.4 755.1,1948.8 758.1,1943.6 759.3,1939.8 760.4,1938.0 762.5,1935.6 766.4,1932.6 768.9,1929.6 772.5,1927.2 779.7,1925.5 785.1,1925.2 795.3,1927.0 801.6,1931.4 805.1,1933.2 811.1,1939.8 815.6,1946.4 818.3,1951.8 820.2,1957.8 820.2,1962.0 821.7,1968.6 821.2,1971.0 818.8,1975.8 817.0,1982.4 809.3,1992.0 804.9,1995.4 798.3,1999.1 791.1,2001.2 785.1,2002.2 M911.7,1972.8 905.1,1973.1 897.9,1972.5 890.7,1971.1 883.5,1968.9 877.6,1966.2 873.5,1963.2 872.0,1960.8 872.1,1957.8 874.4,1954.8 878.7,1951.8 884.9,1948.8 892.5,1946.2 899.7,1944.8 906.3,1944.2 912.3,1944.5 917.3,1945.8 921.9,1948.2 925.6,1951.8 927.6,1956.0 927.7,1960.8 925.9,1965.0 922.5,1968.6 917.7,1971.3 911.7,1972.8 M786.3,2003.5 783.3,2003.7 776.1,2001.3 771.3,2000.8 762.9,1996.3 760.6,1993.2 756.9,1989.4 755.5,1987.2 753.2,1982.4 749.8,1970.4 750.7,1965.6 750.8,1960.2 752.0,1954.2 754.4,1946.4 758.5,1938.0 761.1,1934.7 764.6,1932.0 767.4,1928.4 769.1,1927.2 774.3,1924.6 785.1,1923.0 790.5,1924.5 795.3,1924.8 800.1,1927.7 802.5,1929.7 807.3,1932.1 813.3,1939.8 816.9,1943.6 821.9,1956.6 823.4,1963.2 823.4,1969.8 822.8,1972.8 820.8,1976.4 818.4,1983.0 813.3,1990.2 806.7,1996.2 799.5,2000.2 792.3,2002.5 786.3,2003.5 M912.3,1976.4 904.5,1976.7 896.1,1975.9 887.1,1974.2 877.5,1971.3 869.2,1968.0 863.1,1964.4 860.6,1961.4 860.4,1958.4 861.5,1956.6 863.3,1954.8 868.9,1951.2 878.7,1946.7 888.9,1943.2 897.3,1941.4 905.7,1940.6 912.9,1940.8 918.9,1942.2 925.5,1945.5 930.0,1950.0 932.6,1955.4 933.0,1958.4 932.7,1961.4 930.3,1966.8 926.1,1971.2 919.8,1974.6 912.3,1976.4 M784.5,2005.2 782.1,2005.0 777.8,2003.4 770.7,2002.1 761.1,1997.5 758.9,1993.8 755.3,1989.6 751.9,1983.6 748.4,1969.8 749.2,1965.0 749.2,1960.2 750.2,1954.8 755.0,1940.4 756.2,1938.0 759.9,1933.7 763.6,1930.8 767.7,1925.7 774.3,1922.5 785.1,1920.9 788.1,1921.3 791.1,1922.5 795.9,1922.8 801.3,1925.2 804.3,1928.3 810.5,1931.4 813.5,1936.8 818.3,1941.6 820.8,1947.6 823.6,1952.4 825.1,1957.8 827.1,1960.6 827.4,1962.0 825.7,1967.4 824.6,1974.0 817.3,1988.4 815.1,1991.3 811.1,1994.4 807.3,1998.1 799.5,2001.9 792.3,2004.1 784.5,2005.2 M912.9,1979.5 903.9,1979.7 894.3,1978.7 884.1,1976.7 872.7,1973.5 860.7,1969.2 853.1,1965.6 850.6,1963.8 849.0,1962.0 848.5,1960.8 848.5,1959.0 849.4,1957.2 851.2,1955.4 858.4,1951.2 873.3,1945.0 886.5,1940.6 896.1,1938.5 905.1,1937.5 912.9,1937.7 920.1,1939.2 927.7,1942.8 930.7,1945.2 933.5,1948.2 935.3,1951.2 936.7,1954.8 937.1,1958.4 936.9,1961.4 935.8,1965.0 934.1,1968.0 931.7,1971.0 928.9,1973.4 921.9,1977.3 912.9,1979.5 M785.7,2006.5 782.1,2006.6 777.3,2005.0 772.5,2004.2 760.5,1999.2 757.5,1994.6 753.8,1990.2 750.8,1984.8 747.4,1972.8 747.4,1962.0 748.5,1955.4 754.3,1937.4 758.7,1932.3 763.5,1928.1 767.1,1923.7 771.9,1920.9 780.3,1918.6 782.7,1918.6 794.7,1920.4 802.9,1923.6 813.0,1930.8 815.7,1936.2 819.3,1939.8 821.1,1943.6 827.7,1953.2 829.5,1954.7 833.1,1956.5 837.3,1956.0 852.1,1949.4 882.3,1938.9 894.3,1936.0 905.7,1934.8 911.7,1934.8 916.5,1935.4 921.9,1936.8 926.7,1938.8 930.9,1941.3 934.7,1944.6 937.5,1948.2 939.6,1952.4 940.7,1957.2 940.3,1962.6 938.5,1967.4 935.5,1971.6 931.5,1975.3 926.1,1978.6 920.1,1980.8 913.5,1982.1 906.9,1982.4 899.7,1982.0 884.1,1979.5 858.0,1972.2 847.4,1968.6 837.9,1964.4 835.5,1964.3 831.3,1966.8 829.5,1968.5 827.7,1971.5 825.3,1978.2 822.4,1981.8 817.8,1990.8 809.6,1998.6 806.1,2000.8 798.9,2003.9 792.3,2005.7 785.7,2006.5" fill="none" stroke="#5e5e5e" stroke-width="1.1" stroke-linejoin="round"/>
<path d="M759.4,1834.3h1.3v1.3h-1.3zM801.6,1801.3h1.3v1.3h-1.3zM786.2,1880.5h1.3v1.3h-1.3zM769.3,1897.1h1.3v1.3h-1.3zM797.3,1847.8h1.3v1.3h-1.3zM793.9,1870.2h1.3v1.3h-1.3zM790.8,1884.1h1.3v1.3h-1.3zM779.1,1840.4h1.3v1.3h-1.3zM804.6,1852.8h1.3v1.3h-1.3zM775.8,1878.5h1.3v1.3h-1.3zM811.0,1839.5h1.3v1.3h-1.3zM768.3,1848.2h1.3v1.3h-1.3zM786.8,1843.7h1.3v1.3h-1.3zM810.1,1823.2h1.3v1.3h-1.3zM807.9,1816.5h1.3v1.3h-1.3zM777.2,1869.7h1.3v1.3h-1.3zM805.9,1876.1h1.3v1.3h-1.3zM794.2,1856.0h1.3v1.3h-1.3zM791.3,1868.1h1.3v1.3h-1.3zM786.4,1859.8h1.3v1.3h-1.3zM797.6,1852.0h1.3v1.3h-1.3zM800.5,1867.8h1.3v1.3h-1.3zM819.2,1861.1h1.3v1.3h-1.3zM782.6,1841.6h1.3v1.3h-1.3zM788.8,1877.9h1.3v1.3h-1.3zM784.0,1862.8h1.3v1.3h-1.3zM772.1,1858.8h1.3v1.3h-1.3zM795.0,1858.7h1.3v1.3h-1.3zM782.5,1870.3h1.3v1.3h-1.3zM793.2,1837.4h1.3v1.3h-1.3zM825.5,1861.9h1.3v1.3h-1.3zM780.7,1849.2h1.3v1.3h-1.3zM785.6,1850.2h1.3v1.3h-1.3zM748.1,1838.4h1.3v1.3h-1.3zM804.1,1819.3h1.3v1.3h-1.3zM788.0,1878.7h1.3v1.3h-1.3zM801.8,1893.7h1.3v1.3h-1.3zM763.5,1842.1h1.3v1.3h-1.3zM783.9,1869.5h1.3v1.3h-1.3zM805.3,1811.5h1.3v1.3h-1.3zM799.2,1810.2h1.3v1.3h-1.3zM791.6,1885.5h1.3v1.3h-1.3zM786.8,1857.4h1.3v1.3h-1.3zM801.0,1856.0h1.3v1.3h-1.3zM787.7,1894.9h1.3v1.3h-1.3zM804.7,1843.8h1.3v1.3h-1.3zM830.2,1819.9h1.3v1.3h-1.3zM802.7,1844.6h1.3v1.3h-1.3zM791.0,1871.7h1.3v1.3h-1.3zM792.3,1869.9h1.3v1.3h-1.3zM766.1,1809.7h1.3v1.3h-1.3zM798.2,1825.0h1.3v1.3h-1.3zM773.6,1810.8h1.3v1.3h-1.3zM808.0,1872.9h1.3v1.3h-1.3zM811.1,1825.7h1.3v1.3h-1.3zM789.0,1820.1h1.3v1.3h-1.3zM800.5,1896.5h1.3v1.3h-1.3zM775.6,1895.7h1.3v1.3h-1.3zM803.8,1847.0h1.3v1.3h-1.3zM759.4,1891.4h1.3v1.3h-1.3zM787.6,1835.1h1.3v1.3h-1.3zM795.0,1863.5h1.3v1.3h-1.3zM811.5,1823.4h1.3v1.3h-1.3zM806.0,1893.6h1.3v1.3h-1.3zM810.8,1846.9h1.3v1.3h-1.3zM777.8,1880.5h1.3v1.3h-1.3zM790.7,1855.5h1.3v1.3h-1.3zM810.4,1844.6h1.3v1.3h-1.3zM754.5,1841.2h1.3v1.3h-1.3zM761.2,1874.9h1.3v1.3h-1.3zM793.8,1834.9h1.3v1.3h-1.3zM788.9,1875.3h1.3v1.3h-1.3zM790.2,1889.1h1.3v1.3h-1.3zM788.1,1881.1h1.3v1.3h-1.3zM811.4,1897.1h1.3v1.3h-1.3zM778.9,1876.6h1.3v1.3h-1.3zM760.9,1821.7h1.3v1.3h-1.3zM759.6,1881.9h1.3v1.3h-1.3zM770.5,1851.6h1.3v1.3h-1.3zM786.1,1851.2h1.3v1.3h-1.3zM780.1,1858.5h1.3v1.3h-1.3zM815.9,1853.2h1.3v1.3h-1.3zM797.0,1880.0h1.3v1.3h-1.3zM786.0,1816.7h1.3v1.3h-1.3zM780.7,1882.1h1.3v1.3h-1.3zM764.3,1835.3h1.3v1.3h-1.3zM804.1,1874.2h1.3v1.3h-1.3zM789.1,1874.5h1.3v1.3h-1.3zM791.5,1819.0h1.3v1.3h-1.3zM765.5,1834.1h1.3v1.3h-1.3zM802.8,1836.2h1.3v1.3h-1.3zM775.5,1830.4h1.3v1.3h-1.3zM766.0,1848.7h1.3v1.3h-1.3zM771.3,1862.2h1.3v1.3h-1.3zM753.6,1861.2h1.3v1.3h-1.3zM779.4,1797.6h1.3v1.3h-1.3zM799.9,1844.3h1.3v1.3h-1.3zM755.5,1827.5h1.3v1.3h-1.3zM793.4,1839.2h1.3v1.3h-1.3zM800.7,1872.9h1.3v1.3h-1.3zM799.0,1861.1h1.3v1.3h-1.3zM809.0,1870.5h1.3v1.3h-1.3zM795.8,1793.6h1.3v1.3h-1.3zM802.4,1888.7h1.3v1.3h-1.3zM784.5,1838.9h1.3v1.3h-1.3zM818.1,1802.8h1.3v1.3h-1.3zM775.1,1871.3h1.3v1.3h-1.3zM817.3,1848.6h1.3v1.3h-1.3zM797.4,1877.3h1.3v1.3h-1.3zM775.4,1849.5h1.3v1.3h-1.3zM793.4,1875.1h1.3v1.3h-1.3zM788.5,1846.5h1.3v1.3h-1.3zM773.8,1841.9h1.3v1.3h-1.3zM802.4,1854.8h1.3v1.3h-1.3zM776.2,1828.4h1.3v1.3h-1.3zM829.0,1883.9h1.3v1.3h-1.3zM798.3,1865.5h1.3v1.3h-1.3zM814.3,1864.0h1.3v1.3h-1.3zM788.0,1866.6h1.3v1.3h-1.3zM759.8,1880.9h1.3v1.3h-1.3zM793.9,1832.3h1.3v1.3h-1.3zM808.9,1902.7h1.3v1.3h-1.3zM768.0,1833.3h1.3v1.3h-1.3zM793.4,1857.1h1.3v1.3h-1.3zM783.0,1824.7h1.3v1.3h-1.3zM820.8,1881.0h1.3v1.3h-1.3zM771.1,1814.3h1.3v1.3h-1.3zM814.5,1879.7h1.3v1.3h-1.3zM816.3,1874.7h1.3v1.3h-1.3zM775.9,1859.3h1.3v1.3h-1.3zM756.6,1831.1h1.3v1.3h-1.3zM788.1,1866.6h1.3v1.3h-1.3zM778.1,1848.5h1.3v1.3h-1.3zM795.9,1862.5h1.3v1.3h-1.3zM798.6,1857.9h1.3v1.3h-1.3zM784.1,1874.1h1.3v1.3h-1.3zM789.7,1828.9h1.3v1.3h-1.3zM779.6,1852.0h1.3v1.3h-1.3zM787.4,1856.4h1.3v1.3h-1.3zM789.0,1856.9h1.3v1.3h-1.3zM787.0,1816.8h1.3v1.3h-1.3zM795.3,1881.5h1.3v1.3h-1.3zM795.5,1846.7h1.3v1.3h-1.3zM795.7,1825.0h1.3v1.3h-1.3zM760.6,1853.7h1.3v1.3h-1.3zM775.0,1872.7h1.3v1.3h-1.3zM773.4,1896.2h1.3v1.3h-1.3zM783.3,1813.7h1.3v1.3h-1.3zM777.5,1866.6h1.3v1.3h-1.3zM796.5,1856.9h1.3v1.3h-1.3zM811.3,1871.8h1.3v1.3h-1.3zM788.7,1868.7h1.3v1.3h-1.3zM813.8,1879.2h1.3v1.3h-1.3zM804.4,1821.7h1.3v1.3h-1.3zM786.8,1872.4h1.3v1.3h-1.3zM784.6,1881.9h1.3v1.3h-1.3zM797.9,1877.4h1.3v1.3h-1.3zM807.6,1846.0h1.3v1.3h-1.3zM783.9,1876.5h1.3v1.3h-1.3zM803.7,1852.2h1.3v1.3h-1.3zM771.5,1857.3h1.3v1.3h-1.3zM794.4,1883.6h1.3v1.3h-1.3zM800.7,1852.7h1.3v1.3h-1.3zM801.8,1867.1h1.3v1.3h-1.3zM792.1,1853.5h1.3v1.3h-1.3zM785.3,1871.2h1.3v1.3h-1.3zM773.2,1834.4h1.3v1.3h-1.3zM789.1,1811.0h1.3v1.3h-1.3zM782.5,1795.8h1.3v1.3h-1.3zM778.8,1867.9h1.3v1.3h-1.3zM797.5,1850.5h1.3v1.3h-1.3zM785.5,1812.3h1.3v1.3h-1.3zM816.4,1866.4h1.3v1.3h-1.3zM805.4,1827.3h1.3v1.3h-1.3zM786.2,1801.1h1.3v1.3h-1.3zM800.7,1878.2h1.3v1.3h-1.3zM760.5,1850.5h1.3v1.3h-1.3zM798.5,1802.7h1.3v1.3h-1.3zM761.6,1822.2h1.3v1.3h-1.3zM779.6,1812.7h1.3v1.3h-1.3zM789.5,1859.0h1.3v1.3h-1.3zM798.5,1871.7h1.3v1.3h-1.3zM811.5,1884.6h1.3v1.3h-1.3zM769.3,1837.8h1.3v1.3h-1.3zM773.1,1821.9h1.3v1.3h-1.3zM787.8,1852.2h1.3v1.3h-1.3zM796.4,1807.6h1.3v1.3h-1.3zM770.4,1851.4h1.3v1.3h-1.3zM786.0,1843.3h1.3v1.3h-1.3zM788.1,1830.7h1.3v1.3h-1.3zM799.5,1861.9h1.3v1.3h-1.3zM787.7,1833.2h1.3v1.3h-1.3zM774.3,1853.0h1.3v1.3h-1.3zM766.4,1857.6h1.3v1.3h-1.3zM791.2,1813.4h1.3v1.3h-1.3zM785.2,1843.2h1.3v1.3h-1.3zM795.9,1869.1h1.3v1.3h-1.3zM788.5,1828.2h1.3v1.3h-1.3zM786.8,1850.2h1.3v1.3h-1.3zM800.0,1860.2h1.3v1.3h-1.3zM778.2,1814.1h1.3v1.3h-1.3zM783.4,1831.3h1.3v1.3h-1.3zM772.3,1848.8h1.3v1.3h-1.3zM781.6,1855.0h1.3v1.3h-1.3zM796.8,1840.4h1.3v1.3h-1.3zM823.9,1843.0h1.3v1.3h-1.3zM805.5,1855.4h1.3v1.3h-1.3zM777.7,1858.9h1.3v1.3h-1.3zM793.8,1887.8h1.3v1.3h-1.3zM800.5,1878.5h1.3v1.3h-1.3zM796.7,1847.6h1.3v1.3h-1.3zM796.6,1821.8h1.3v1.3h-1.3zM806.7,1823.5h1.3v1.3h-1.3zM785.6,1852.5h1.3v1.3h-1.3zM806.4,1852.7h1.3v1.3h-1.3zM776.9,1859.2h1.3v1.3h-1.3zM797.7,1871.9h1.3v1.3h-1.3zM777.4,1901.1h1.3v1.3h-1.3zM814.0,1852.5h1.3v1.3h-1.3zM793.0,1840.0h1.3v1.3h-1.3zM810.2,1832.3h1.3v1.3h-1.3zM799.1,1838.6h1.3v1.3h-1.3zM778.6,1872.1h1.3v1.3h-1.3zM809.0,1851.7h1.3v1.3h-1.3zM778.8,1874.7h1.3v1.3h-1.3zM788.3,1860.7h1.3v1.3h-1.3zM811.8,1883.7h1.3v1.3h-1.3zM789.1,1874.0h1.3v1.3h-1.3zM779.3,1850.7h1.3v1.3h-1.3zM762.8,1902.0h1.3v1.3h-1.3zM809.5,1818.0h1.3v1.3h-1.3zM766.4,1806.6h1.3v1.3h-1.3zM806.6,1839.1h1.3v1.3h-1.3zM788.1,1843.2h1.3v1.3h-1.3zM787.2,1821.5h1.3v1.3h-1.3zM789.4,1811.7h1.3v1.3h-1.3zM787.9,1860.6h1.3v1.3h-1.3zM796.0,1845.5h1.3v1.3h-1.3zM775.4,1856.5h1.3v1.3h-1.3zM781.7,1895.8h1.3v1.3h-1.3zM800.5,1848.8h1.3v1.3h-1.3zM781.9,1832.3h1.3v1.3h-1.3zM774.9,1842.1h1.3v1.3h-1.3zM793.4,1866.4h1.3v1.3h-1.3zM778.4,1852.4h1.3v1.3h-1.3zM830.9,1799.7h1.3v1.3h-1.3zM781.2,1856.7h1.3v1.3h-1.3zM791.3,1863.4h1.3v1.3h-1.3zM785.4,1862.3h1.3v1.3h-1.3zM789.8,1873.6h1.3v1.3h-1.3zM760.6,1827.2h1.3v1.3h-1.3zM789.0,1823.1h1.3v1.3h-1.3zM773.3,1869.6h1.3v1.3h-1.3zM779.3,1869.8h1.3v1.3h-1.3zM800.2,1860.6h1.3v1.3h-1.3zM796.6,1849.1h1.3v1.3h-1.3zM767.9,1851.2h1.3v1.3h-1.3zM795.8,1837.2h1.3v1.3h-1.3zM787.5,1873.0h1.3v1.3h-1.3zM775.8,1869.9h1.3v1.3h-1.3zM816.9,1836.5h1.3v1.3h-1.3zM791.2,1847.8h1.3v1.3h-1.3zM812.1,1860.9h1.3v1.3h-1.3zM802.5,1832.7h1.3v1.3h-1.3zM788.8,1851.7h1.3v1.3h-1.3zM762.4,1892.3h1.3v1.3h-1.3zM802.5,1803.0h1.3v1.3h-1.3zM800.2,1848.3h1.3v1.3h-1.3zM795.7,1862.3h1.3v1.3h-1.3zM766.5,1846.1h1.3v1.3h-1.3zM811.4,1835.9h1.3v1.3h-1.3zM773.7,1813.9h1.3v1.3h-1.3zM770.7,1861.4h1.3v1.3h-1.3zM814.4,1864.0h1.3v1.3h-1.3zM781.2,1833.1h1.3v1.3h-1.3zM796.9,1867.4h1.3v1.3h-1.3zM773.8,1819.2h1.3v1.3h-1.3zM793.4,1858.9h1.3v1.3h-1.3zM769.4,1846.3h1.3v1.3h-1.3zM780.9,1864.9h1.3v1.3h-1.3zM787.2,1849.6h1.3v1.3h-1.3zM783.7,1881.5h1.3v1.3h-1.3zM809.9,1841.7h1.3v1.3h-1.3zM801.7,1830.8h1.3v1.3h-1.3zM790.1,1873.0h1.3v1.3h-1.3zM811.7,1841.3h1.3v1.3h-1.3z" fill="#333"/>
<path d="M782.6,1872.2h1.3v1.3h-1.3zM782.8,1823.7h1.3v1.3h-1.3zM777.5,1854.5h1.3v1.3h-1.3zM806.3,1829.1h1.3v1.3h-1.3zM791.4,1871.8h1.3v1.3h-1.3zM777.0,1854.9h1.3v1.3h-1.3zM782.7,1820.4h1.3v1.3h-1.3zM787.6,1809.7h1.3v1.3h-1.3zM772.9,1843.1h1.3v1.3h-1.3zM779.9,1881.5h1.3v1.3h-1.3zM794.6,1823.9h1.3v1.3h-1.3zM790.0,1817.2h1.3v1.3h-1.3zM784.0,1872.6h1.3v1.3h-1.3zM794.5,1866.2h1.3v1.3h-1.3zM792.1,1874.6h1.3v1.3h-1.3zM804.3,1835.3h1.3v1.3h-1.3zM798.2,1864.3h1.3v1.3h-1.3zM803.5,1839.9h1.3v1.3h-1.3zM798.0,1862.6h1.3v1.3h-1.3zM778.6,1857.8h1.3v1.3h-1.3zM803.6,1825.6h1.3v1.3h-1.3zM806.7,1843.4h1.3v1.3h-1.3zM801.9,1834.0h1.3v1.3h-1.3zM803.1,1833.8h1.3v1.3h-1.3zM788.6,1811.5h1.3v1.3h-1.3zM778.8,1860.3h1.3v1.3h-1.3zM779.1,1860.8h1.3v1.3h-1.3zM804.2,1844.4h1.3v1.3h-1.3zM785.4,1876.0h1.3v1.3h-1.3zM804.5,1869.6h1.3v1.3h-1.3zM802.6,1838.7h1.3v1.3h-1.3zM796.3,1818.4h1.3v1.3h-1.3zM795.2,1822.6h1.3v1.3h-1.3zM775.8,1847.6h1.3v1.3h-1.3zM778.3,1862.4h1.3v1.3h-1.3zM779.6,1861.9h1.3v1.3h-1.3zM802.8,1826.4h1.3v1.3h-1.3zM794.2,1822.6h1.3v1.3h-1.3zM790.5,1820.6h1.3v1.3h-1.3zM801.1,1852.3h1.3v1.3h-1.3zM800.5,1833.3h1.3v1.3h-1.3zM805.3,1823.7h1.3v1.3h-1.3zM781.4,1864.4h1.3v1.3h-1.3zM771.2,1816.9h1.3v1.3h-1.3zM788.0,1866.7h1.3v1.3h-1.3zM786.3,1871.5h1.3v1.3h-1.3zM802.2,1844.4h1.3v1.3h-1.3zM773.8,1815.4h1.3v1.3h-1.3zM804.0,1834.5h1.3v1.3h-1.3zM775.9,1847.4h1.3v1.3h-1.3zM805.4,1836.2h1.3v1.3h-1.3zM788.9,1867.5h1.3v1.3h-1.3zM768.1,1860.4h1.3v1.3h-1.3zM794.4,1864.2h1.3v1.3h-1.3zM793.3,1822.6h1.3v1.3h-1.3zM792.0,1808.8h1.3v1.3h-1.3zM777.6,1828.5h1.3v1.3h-1.3zM778.5,1864.8h1.3v1.3h-1.3zM792.1,1818.5h1.3v1.3h-1.3zM789.3,1820.0h1.3v1.3h-1.3zM789.2,1867.2h1.3v1.3h-1.3zM776.5,1836.7h1.3v1.3h-1.3zM778.9,1876.8h1.3v1.3h-1.3zM802.9,1842.1h1.3v1.3h-1.3zM787.6,1868.2h1.3v1.3h-1.3zM775.2,1844.1h1.3v1.3h-1.3zM785.0,1818.1h1.3v1.3h-1.3zM777.0,1855.5h1.3v1.3h-1.3zM777.2,1825.2h1.3v1.3h-1.3zM800.1,1817.2h1.3v1.3h-1.3zM779.3,1816.5h1.3v1.3h-1.3zM783.9,1874.2h1.3v1.3h-1.3zM772.6,1831.6h1.3v1.3h-1.3zM794.7,1872.7h1.3v1.3h-1.3zM789.2,1865.5h1.3v1.3h-1.3zM800.5,1826.7h1.3v1.3h-1.3zM775.9,1832.1h1.3v1.3h-1.3zM805.8,1842.6h1.3v1.3h-1.3zM775.3,1842.8h1.3v1.3h-1.3zM777.1,1815.1h1.3v1.3h-1.3zM805.8,1842.3h1.3v1.3h-1.3zM795.7,1819.7h1.3v1.3h-1.3zM796.5,1824.2h1.3v1.3h-1.3zM785.4,1865.7h1.3v1.3h-1.3zM801.6,1863.6h1.3v1.3h-1.3zM768.2,1823.8h1.3v1.3h-1.3zM806.2,1830.3h1.3v1.3h-1.3zM770.7,1854.1h1.3v1.3h-1.3zM788.1,1868.5h1.3v1.3h-1.3zM807.5,1868.2h1.3v1.3h-1.3zM776.6,1829.5h1.3v1.3h-1.3zM778.9,1862.3h1.3v1.3h-1.3zM797.7,1861.9h1.3v1.3h-1.3zM775.9,1828.1h1.3v1.3h-1.3zM781.5,1826.1h1.3v1.3h-1.3zM782.7,1863.9h1.3v1.3h-1.3zM782.8,1822.2h1.3v1.3h-1.3zM793.7,1870.2h1.3v1.3h-1.3zM793.0,1820.8h1.3v1.3h-1.3zM799.7,1857.2h1.3v1.3h-1.3zM774.1,1863.3h1.3v1.3h-1.3zM801.4,1857.4h1.3v1.3h-1.3zM796.4,1864.5h1.3v1.3h-1.3zM785.4,1872.0h1.3v1.3h-1.3zM783.2,1869.8h1.3v1.3h-1.3zM776.3,1834.4h1.3v1.3h-1.3zM776.2,1870.9h1.3v1.3h-1.3zM806.3,1843.3h1.3v1.3h-1.3zM779.1,1863.1h1.3v1.3h-1.3zM794.6,1875.5h1.3v1.3h-1.3zM805.6,1844.9h1.3v1.3h-1.3zM795.6,1820.3h1.3v1.3h-1.3zM775.3,1859.3h1.3v1.3h-1.3zM797.4,1867.0h1.3v1.3h-1.3zM807.8,1846.9h1.3v1.3h-1.3zM801.5,1830.5h1.3v1.3h-1.3zM802.5,1858.1h1.3v1.3h-1.3zM773.2,1843.2h1.3v1.3h-1.3zM797.5,1862.5h1.3v1.3h-1.3zM805.2,1830.2h1.3v1.3h-1.3zM805.2,1866.1h1.3v1.3h-1.3zM802.0,1839.3h1.3v1.3h-1.3zM795.6,1876.2h1.3v1.3h-1.3zM809.2,1838.6h1.3v1.3h-1.3zM766.7,1848.0h1.3v1.3h-1.3zM776.7,1861.5h1.3v1.3h-1.3zM804.6,1825.9h1.3v1.3h-1.3zM798.9,1870.2h1.3v1.3h-1.3zM792.0,1821.6h1.3v1.3h-1.3zM798.8,1820.0h1.3v1.3h-1.3zM795.7,1823.1h1.3v1.3h-1.3zM776.3,1859.4h1.3v1.3h-1.3zM774.6,1841.2h1.3v1.3h-1.3zM789.3,1868.0h1.3v1.3h-1.3zM786.8,1820.9h1.3v1.3h-1.3zM776.4,1835.2h1.3v1.3h-1.3zM790.0,1808.5h1.3v1.3h-1.3zM800.0,1860.7h1.3v1.3h-1.3zM773.8,1825.4h1.3v1.3h-1.3zM783.9,1867.1h1.3v1.3h-1.3zM774.2,1857.6h1.3v1.3h-1.3zM780.8,1822.5h1.3v1.3h-1.3zM776.1,1851.5h1.3v1.3h-1.3zM779.3,1828.9h1.3v1.3h-1.3zM775.5,1845.4h1.3v1.3h-1.3zM792.8,1810.3h1.3v1.3h-1.3zM774.5,1850.4h1.3v1.3h-1.3zM802.6,1862.1h1.3v1.3h-1.3zM799.1,1861.6h1.3v1.3h-1.3zM776.3,1852.1h1.3v1.3h-1.3zM770.1,1841.9h1.3v1.3h-1.3zM801.5,1855.9h1.3v1.3h-1.3zM787.6,1821.0h1.3v1.3h-1.3zM806.0,1854.1h1.3v1.3h-1.3zM768.3,1843.0h1.3v1.3h-1.3zM802.4,1869.8h1.3v1.3h-1.3zM801.5,1817.5h1.3v1.3h-1.3zM794.2,1823.9h1.3v1.3h-1.3zM795.2,1872.2h1.3v1.3h-1.3zM801.9,1837.8h1.3v1.3h-1.3z" fill="#333"/>
<path d="M963.7,1829.9h1.3v1.3h-1.3zM946.4,1898.8h1.3v1.3h-1.3zM848.8,1846.6h1.3v1.3h-1.3zM942.1,1829.3h1.3v1.3h-1.3zM961.0,1839.7h1.3v1.3h-1.3zM950.1,1827.9h1.3v1.3h-1.3zM907.8,1897.8h1.3v1.3h-1.3zM868.1,1838.7h1.3v1.3h-1.3zM908.3,1843.7h1.3v1.3h-1.3zM845.0,1831.4h1.3v1.3h-1.3zM861.8,1899.3h1.3v1.3h-1.3zM931.8,1895.6h1.3v1.3h-1.3zM862.8,1885.6h1.3v1.3h-1.3zM855.5,1862.8h1.3v1.3h-1.3zM925.9,1847.4h1.3v1.3h-1.3zM957.8,1865.0h1.3v1.3h-1.3zM918.3,1894.4h1.3v1.3h-1.3zM854.1,1904.4h1.3v1.3h-1.3zM925.0,1850.5h1.3v1.3h-1.3zM947.7,1838.8h1.3v1.3h-1.3zM973.7,1867.0h1.3v1.3h-1.3zM888.6,1883.8h1.3v1.3h-1.3zM899.7,1830.9h1.3v1.3h-1.3zM940.4,1819.3h1.3v1.3h-1.3zM950.7,1837.8h1.3v1.3h-1.3zM926.3,1903.6h1.3v1.3h-1.3zM919.1,1874.7h1.3v1.3h-1.3zM882.2,1815.2h1.3v1.3h-1.3zM844.6,1828.4h1.3v1.3h-1.3zM923.2,1853.9h1.3v1.3h-1.3zM909.2,1895.6h1.3v1.3h-1.3zM857.8,1835.5h1.3v1.3h-1.3zM928.2,1817.0h1.3v1.3h-1.3zM840.4,1846.9h1.3v1.3h-1.3zM854.4,1847.1h1.3v1.3h-1.3zM870.3,1867.5h1.3v1.3h-1.3zM919.5,1833.4h1.3v1.3h-1.3zM924.2,1857.7h1.3v1.3h-1.3zM858.2,1899.3h1.3v1.3h-1.3zM872.9,1828.4h1.3v1.3h-1.3zM852.9,1872.4h1.3v1.3h-1.3zM957.6,1885.4h1.3v1.3h-1.3zM894.3,1838.8h1.3v1.3h-1.3zM841.6,1873.0h1.3v1.3h-1.3zM915.9,1846.5h1.3v1.3h-1.3zM927.2,1854.9h1.3v1.3h-1.3zM966.5,1881.0h1.3v1.3h-1.3zM873.5,1896.3h1.3v1.3h-1.3zM845.9,1862.8h1.3v1.3h-1.3zM894.8,1836.4h1.3v1.3h-1.3zM847.9,1885.1h1.3v1.3h-1.3zM841.7,1864.6h1.3v1.3h-1.3zM967.0,1827.8h1.3v1.3h-1.3zM866.9,1869.7h1.3v1.3h-1.3zM908.4,1872.7h1.3v1.3h-1.3zM949.8,1830.7h1.3v1.3h-1.3zM881.8,1842.0h1.3v1.3h-1.3zM846.5,1895.0h1.3v1.3h-1.3zM945.7,1879.4h1.3v1.3h-1.3zM840.9,1891.0h1.3v1.3h-1.3zM940.6,1856.9h1.3v1.3h-1.3zM940.1,1855.7h1.3v1.3h-1.3zM870.5,1824.5h1.3v1.3h-1.3zM871.4,1818.5h1.3v1.3h-1.3zM885.3,1882.5h1.3v1.3h-1.3zM933.8,1891.1h1.3v1.3h-1.3zM936.1,1838.9h1.3v1.3h-1.3zM914.8,1854.2h1.3v1.3h-1.3zM946.4,1862.1h1.3v1.3h-1.3zM875.8,1872.8h1.3v1.3h-1.3zM970.3,1834.5h1.3v1.3h-1.3zM958.8,1816.4h1.3v1.3h-1.3zM875.1,1836.2h1.3v1.3h-1.3zM940.4,1900.0h1.3v1.3h-1.3zM940.7,1844.4h1.3v1.3h-1.3zM958.8,1844.6h1.3v1.3h-1.3zM872.3,1896.7h1.3v1.3h-1.3zM925.1,1877.4h1.3v1.3h-1.3zM929.8,1903.1h1.3v1.3h-1.3zM903.4,1890.6h1.3v1.3h-1.3zM934.2,1892.2h1.3v1.3h-1.3zM899.0,1880.2h1.3v1.3h-1.3zM917.0,1842.7h1.3v1.3h-1.3zM868.6,1871.0h1.3v1.3h-1.3zM850.5,1897.0h1.3v1.3h-1.3zM859.5,1817.4h1.3v1.3h-1.3zM854.4,1898.6h1.3v1.3h-1.3zM886.6,1827.8h1.3v1.3h-1.3zM843.9,1818.7h1.3v1.3h-1.3zM933.5,1872.0h1.3v1.3h-1.3zM934.1,1881.3h1.3v1.3h-1.3zM848.9,1868.1h1.3v1.3h-1.3zM889.1,1888.6h1.3v1.3h-1.3zM950.6,1895.2h1.3v1.3h-1.3zM848.9,1893.1h1.3v1.3h-1.3zM963.4,1900.0h1.3v1.3h-1.3zM854.5,1833.5h1.3v1.3h-1.3zM855.1,1818.1h1.3v1.3h-1.3zM954.4,1888.1h1.3v1.3h-1.3zM925.6,1889.3h1.3v1.3h-1.3zM925.3,1840.9h1.3v1.3h-1.3zM853.5,1823.8h1.3v1.3h-1.3zM942.2,1833.4h1.3v1.3h-1.3zM883.1,1853.1h1.3v1.3h-1.3zM842.8,1838.1h1.3v1.3h-1.3zM878.2,1879.4h1.3v1.3h-1.3zM889.7,1843.9h1.3v1.3h-1.3zM970.1,1860.3h1.3v1.3h-1.3zM954.9,1870.6h1.3v1.3h-1.3zM844.2,1852.2h1.3v1.3h-1.3zM898.9,1884.6h1.3v1.3h-1.3zM886.8,1878.4h1.3v1.3h-1.3zM912.6,1834.5h1.3v1.3h-1.3zM956.4,1823.2h1.3v1.3h-1.3zM950.7,1830.3h1.3v1.3h-1.3zM840.2,1833.2h1.3v1.3h-1.3zM942.9,1903.0h1.3v1.3h-1.3zM840.6,1859.2h1.3v1.3h-1.3zM906.4,1886.7h1.3v1.3h-1.3zM864.9,1859.5h1.3v1.3h-1.3zM886.9,1889.9h1.3v1.3h-1.3zM875.2,1899.9h1.3v1.3h-1.3zM878.3,1834.3h1.3v1.3h-1.3zM934.4,1859.8h1.3v1.3h-1.3zM854.8,1872.3h1.3v1.3h-1.3zM850.9,1885.9h1.3v1.3h-1.3zM934.1,1885.8h1.3v1.3h-1.3zM924.8,1847.0h1.3v1.3h-1.3zM894.2,1850.5h1.3v1.3h-1.3zM960.2,1822.8h1.3v1.3h-1.3zM959.9,1817.3h1.3v1.3h-1.3zM867.8,1838.7h1.3v1.3h-1.3zM961.7,1860.1h1.3v1.3h-1.3zM891.2,1894.6h1.3v1.3h-1.3zM871.5,1856.5h1.3v1.3h-1.3zM911.8,1882.9h1.3v1.3h-1.3zM941.7,1873.2h1.3v1.3h-1.3zM887.0,1844.4h1.3v1.3h-1.3zM861.0,1890.9h1.3v1.3h-1.3zM929.4,1881.8h1.3v1.3h-1.3zM862.9,1854.5h1.3v1.3h-1.3zM944.4,1867.1h1.3v1.3h-1.3zM857.0,1856.6h1.3v1.3h-1.3zM959.5,1836.4h1.3v1.3h-1.3zM865.9,1842.1h1.3v1.3h-1.3zM934.9,1890.9h1.3v1.3h-1.3zM860.9,1829.0h1.3v1.3h-1.3zM873.4,1844.4h1.3v1.3h-1.3zM910.5,1829.5h1.3v1.3h-1.3zM884.3,1832.0h1.3v1.3h-1.3zM971.6,1880.6h1.3v1.3h-1.3zM853.7,1901.6h1.3v1.3h-1.3zM853.7,1849.6h1.3v1.3h-1.3zM972.8,1886.5h1.3v1.3h-1.3zM939.0,1854.1h1.3v1.3h-1.3zM866.5,1872.4h1.3v1.3h-1.3zM854.4,1833.6h1.3v1.3h-1.3zM892.4,1818.1h1.3v1.3h-1.3zM893.9,1886.2h1.3v1.3h-1.3zM933.6,1860.0h1.3v1.3h-1.3zM925.4,1856.7h1.3v1.3h-1.3zM859.1,1869.3h1.3v1.3h-1.3zM894.6,1881.7h1.3v1.3h-1.3zM962.6,1853.7h1.3v1.3h-1.3zM917.5,1882.4h1.3v1.3h-1.3zM896.9,1835.6h1.3v1.3h-1.3zM937.5,1894.2h1.3v1.3h-1.3zM944.5,1878.0h1.3v1.3h-1.3zM955.1,1876.2h1.3v1.3h-1.3zM926.6,1855.9h1.3v1.3h-1.3zM882.3,1871.5h1.3v1.3h-1.3zM853.2,1852.8h1.3v1.3h-1.3zM945.6,1879.2h1.3v1.3h-1.3zM925.0,1837.5h1.3v1.3h-1.3zM897.2,1856.0h1.3v1.3h-1.3zM923.9,1851.8h1.3v1.3h-1.3zM931.2,1898.7h1.3v1.3h-1.3zM864.7,1873.9h1.3v1.3h-1.3zM945.1,1850.0h1.3v1.3h-1.3zM906.1,1902.7h1.3v1.3h-1.3zM845.1,1863.9h1.3v1.3h-1.3zM861.7,1885.4h1.3v1.3h-1.3zM967.0,1861.7h1.3v1.3h-1.3zM853.6,1866.7h1.3v1.3h-1.3zM913.0,1879.6h1.3v1.3h-1.3zM909.1,1872.5h1.3v1.3h-1.3zM951.9,1862.0h1.3v1.3h-1.3zM895.4,1900.3h1.3v1.3h-1.3zM868.4,1876.6h1.3v1.3h-1.3zM893.0,1883.6h1.3v1.3h-1.3zM856.5,1903.6h1.3v1.3h-1.3zM888.0,1820.1h1.3v1.3h-1.3zM877.0,1851.0h1.3v1.3h-1.3zM841.8,1852.7h1.3v1.3h-1.3zM896.8,1877.8h1.3v1.3h-1.3zM887.5,1838.9h1.3v1.3h-1.3zM870.3,1881.7h1.3v1.3h-1.3zM966.9,1862.4h1.3v1.3h-1.3zM869.6,1887.1h1.3v1.3h-1.3zM892.9,1834.1h1.3v1.3h-1.3zM857.5,1884.9h1.3v1.3h-1.3zM949.3,1872.1h1.3v1.3h-1.3zM903.3,1865.6h1.3v1.3h-1.3zM870.5,1901.7h1.3v1.3h-1.3zM887.7,1872.5h1.3v1.3h-1.3zM950.5,1888.5h1.3v1.3h-1.3zM903.2,1841.5h1.3v1.3h-1.3zM914.0,1826.3h1.3v1.3h-1.3zM952.6,1846.9h1.3v1.3h-1.3zM954.8,1839.1h1.3v1.3h-1.3zM890.8,1837.8h1.3v1.3h-1.3zM897.5,1831.7h1.3v1.3h-1.3zM840.4,1880.0h1.3v1.3h-1.3zM878.0,1837.0h1.3v1.3h-1.3zM880.7,1858.2h1.3v1.3h-1.3zM897.8,1872.4h1.3v1.3h-1.3zM929.0,1847.6h1.3v1.3h-1.3zM965.4,1891.9h1.3v1.3h-1.3zM847.7,1889.5h1.3v1.3h-1.3zM962.3,1885.6h1.3v1.3h-1.3z" fill="#444"/>
<path d="M945.6,1990.0h1.3v1.3h-1.3zM895.6,1955.2h1.3v1.3h-1.3zM883.9,1944.1h1.3v1.3h-1.3zM916.9,1965.3h1.3v1.3h-1.3zM906.7,1995.9h1.3v1.3h-1.3zM887.5,1968.4h1.3v1.3h-1.3zM955.5,1935.9h1.3v1.3h-1.3zM939.5,1998.3h1.3v1.3h-1.3zM848.5,1933.9h1.3v1.3h-1.3zM860.5,1917.4h1.3v1.3h-1.3zM917.2,1917.2h1.3v1.3h-1.3zM919.0,1990.0h1.3v1.3h-1.3zM838.6,1951.0h1.3v1.3h-1.3zM872.0,1952.2h1.3v1.3h-1.3zM902.1,1970.0h1.3v1.3h-1.3zM886.8,1958.3h1.3v1.3h-1.3zM879.2,1960.5h1.3v1.3h-1.3zM855.4,1959.4h1.3v1.3h-1.3zM972.8,1959.8h1.3v1.3h-1.3zM852.1,1963.7h1.3v1.3h-1.3zM863.1,1921.7h1.3v1.3h-1.3zM872.0,1974.2h1.3v1.3h-1.3zM914.6,1955.9h1.3v1.3h-1.3zM864.8,1934.3h1.3v1.3h-1.3zM951.3,1963.4h1.3v1.3h-1.3zM863.8,1911.6h1.3v1.3h-1.3zM856.3,1956.3h1.3v1.3h-1.3zM908.0,1954.5h1.3v1.3h-1.3zM889.4,1927.8h1.3v1.3h-1.3zM860.1,1995.2h1.3v1.3h-1.3zM871.3,1976.6h1.3v1.3h-1.3zM909.9,1980.8h1.3v1.3h-1.3zM857.3,1971.1h1.3v1.3h-1.3zM914.7,1941.8h1.3v1.3h-1.3zM918.1,1938.2h1.3v1.3h-1.3zM869.7,1957.6h1.3v1.3h-1.3zM862.0,1925.8h1.3v1.3h-1.3zM883.8,1974.8h1.3v1.3h-1.3zM884.6,1985.8h1.3v1.3h-1.3zM855.9,1929.1h1.3v1.3h-1.3zM958.9,1966.8h1.3v1.3h-1.3zM935.9,1939.8h1.3v1.3h-1.3zM930.6,1963.7h1.3v1.3h-1.3zM924.6,1958.6h1.3v1.3h-1.3zM945.8,1943.7h1.3v1.3h-1.3zM863.4,1925.5h1.3v1.3h-1.3zM944.1,1941.8h1.3v1.3h-1.3zM860.4,1937.3h1.3v1.3h-1.3zM883.1,1930.0h1.3v1.3h-1.3zM889.0,1944.2h1.3v1.3h-1.3zM879.1,1936.9h1.3v1.3h-1.3zM901.4,1947.9h1.3v1.3h-1.3zM904.4,1963.5h1.3v1.3h-1.3zM879.6,1940.5h1.3v1.3h-1.3zM929.4,1923.3h1.3v1.3h-1.3zM872.9,1951.5h1.3v1.3h-1.3zM887.2,1979.8h1.3v1.3h-1.3zM883.2,1979.2h1.3v1.3h-1.3zM844.3,1918.1h1.3v1.3h-1.3zM946.3,1967.6h1.3v1.3h-1.3zM918.5,1960.7h1.3v1.3h-1.3zM918.4,1931.3h1.3v1.3h-1.3zM936.0,1946.3h1.3v1.3h-1.3zM937.5,1959.9h1.3v1.3h-1.3zM942.9,1955.0h1.3v1.3h-1.3zM885.0,1963.3h1.3v1.3h-1.3zM883.8,1946.0h1.3v1.3h-1.3zM903.9,1961.2h1.3v1.3h-1.3zM957.6,1959.0h1.3v1.3h-1.3zM971.4,1997.7h1.3v1.3h-1.3zM965.2,1981.4h1.3v1.3h-1.3zM905.0,1961.0h1.3v1.3h-1.3zM894.6,1941.9h1.3v1.3h-1.3zM897.5,1943.9h1.3v1.3h-1.3zM962.3,1969.8h1.3v1.3h-1.3zM883.0,1915.9h1.3v1.3h-1.3zM898.0,1948.8h1.3v1.3h-1.3zM858.7,1933.0h1.3v1.3h-1.3zM898.8,1954.7h1.3v1.3h-1.3zM954.9,1960.9h1.3v1.3h-1.3zM906.4,1949.8h1.3v1.3h-1.3zM877.0,1991.0h1.3v1.3h-1.3zM938.0,1995.8h1.3v1.3h-1.3zM886.7,1958.7h1.3v1.3h-1.3zM866.5,1979.3h1.3v1.3h-1.3zM847.1,1970.4h1.3v1.3h-1.3zM941.6,1989.0h1.3v1.3h-1.3zM864.3,1982.0h1.3v1.3h-1.3zM872.9,1941.3h1.3v1.3h-1.3zM849.7,1983.4h1.3v1.3h-1.3zM962.6,1944.9h1.3v1.3h-1.3zM871.1,1950.5h1.3v1.3h-1.3zM879.4,1918.5h1.3v1.3h-1.3zM874.4,1984.1h1.3v1.3h-1.3zM971.0,1952.1h1.3v1.3h-1.3zM873.7,1946.8h1.3v1.3h-1.3zM858.7,1981.4h1.3v1.3h-1.3zM911.0,1941.2h1.3v1.3h-1.3zM929.7,1958.2h1.3v1.3h-1.3zM855.4,1971.7h1.3v1.3h-1.3zM932.0,1915.9h1.3v1.3h-1.3zM969.4,1968.9h1.3v1.3h-1.3zM928.9,1917.1h1.3v1.3h-1.3zM872.7,1950.3h1.3v1.3h-1.3zM940.9,1925.9h1.3v1.3h-1.3zM866.4,1913.3h1.3v1.3h-1.3zM890.8,1965.6h1.3v1.3h-1.3zM919.4,1992.9h1.3v1.3h-1.3zM925.2,1951.3h1.3v1.3h-1.3zM855.2,1937.4h1.3v1.3h-1.3zM874.8,1961.2h1.3v1.3h-1.3zM898.1,1994.7h1.3v1.3h-1.3zM910.9,1934.4h1.3v1.3h-1.3zM958.7,1978.9h1.3v1.3h-1.3zM903.8,1942.1h1.3v1.3h-1.3zM934.6,1940.3h1.3v1.3h-1.3zM849.9,1962.3h1.3v1.3h-1.3zM909.3,1971.3h1.3v1.3h-1.3zM924.9,1989.0h1.3v1.3h-1.3zM868.1,1979.5h1.3v1.3h-1.3zM862.5,1973.3h1.3v1.3h-1.3zM906.8,1963.4h1.3v1.3h-1.3zM936.8,1957.6h1.3v1.3h-1.3zM942.3,1977.3h1.3v1.3h-1.3zM905.1,1945.5h1.3v1.3h-1.3zM871.4,1946.4h1.3v1.3h-1.3zM892.3,1957.5h1.3v1.3h-1.3zM929.2,1939.1h1.3v1.3h-1.3zM873.0,1951.0h1.3v1.3h-1.3zM907.3,1935.2h1.3v1.3h-1.3zM961.3,1945.6h1.3v1.3h-1.3zM899.7,1964.1h1.3v1.3h-1.3zM907.3,1971.2h1.3v1.3h-1.3zM910.6,1961.6h1.3v1.3h-1.3zM911.7,1953.7h1.3v1.3h-1.3zM868.8,1945.2h1.3v1.3h-1.3zM970.1,1996.1h1.3v1.3h-1.3zM897.8,1986.3h1.3v1.3h-1.3zM839.7,1915.4h1.3v1.3h-1.3zM881.6,1938.8h1.3v1.3h-1.3zM878.8,1962.1h1.3v1.3h-1.3zM901.9,1964.1h1.3v1.3h-1.3zM898.7,1978.5h1.3v1.3h-1.3zM967.5,1930.6h1.3v1.3h-1.3zM906.1,1952.2h1.3v1.3h-1.3zM913.5,1924.3h1.3v1.3h-1.3zM920.0,1962.2h1.3v1.3h-1.3zM885.8,1941.4h1.3v1.3h-1.3zM846.3,1937.9h1.3v1.3h-1.3zM926.5,1970.0h1.3v1.3h-1.3zM899.1,1969.3h1.3v1.3h-1.3zM877.1,1959.6h1.3v1.3h-1.3zM901.5,1970.2h1.3v1.3h-1.3zM897.3,1954.9h1.3v1.3h-1.3zM894.9,1943.8h1.3v1.3h-1.3zM984.9,1969.3h1.3v1.3h-1.3zM953.3,1923.8h1.3v1.3h-1.3zM926.4,1976.4h1.3v1.3h-1.3zM971.6,1986.9h1.3v1.3h-1.3zM929.3,1932.1h1.3v1.3h-1.3zM866.9,1963.9h1.3v1.3h-1.3zM919.2,1935.5h1.3v1.3h-1.3zM885.4,1949.2h1.3v1.3h-1.3zM902.3,1965.4h1.3v1.3h-1.3zM889.1,1930.8h1.3v1.3h-1.3zM947.2,1993.1h1.3v1.3h-1.3zM896.0,1980.5h1.3v1.3h-1.3zM916.9,1972.5h1.3v1.3h-1.3zM918.3,1941.2h1.3v1.3h-1.3zM921.8,1980.2h1.3v1.3h-1.3zM865.9,2001.3h1.3v1.3h-1.3zM979.4,1998.1h1.3v1.3h-1.3zM975.6,1974.3h1.3v1.3h-1.3zM887.1,1944.8h1.3v1.3h-1.3zM869.1,1960.6h1.3v1.3h-1.3zM898.8,1972.7h1.3v1.3h-1.3zM925.7,1968.5h1.3v1.3h-1.3zM910.4,1953.4h1.3v1.3h-1.3zM895.3,1939.9h1.3v1.3h-1.3zM906.8,1957.5h1.3v1.3h-1.3zM912.2,1939.2h1.3v1.3h-1.3zM901.5,1959.1h1.3v1.3h-1.3zM923.0,1934.6h1.3v1.3h-1.3zM915.9,1979.6h1.3v1.3h-1.3zM922.7,1949.9h1.3v1.3h-1.3zM881.3,1952.8h1.3v1.3h-1.3zM927.7,1992.2h1.3v1.3h-1.3zM894.0,1943.9h1.3v1.3h-1.3zM914.3,1962.5h1.3v1.3h-1.3zM865.5,1941.8h1.3v1.3h-1.3zM896.1,1972.8h1.3v1.3h-1.3zM854.7,1935.6h1.3v1.3h-1.3zM919.0,1931.1h1.3v1.3h-1.3zM904.1,1965.7h1.3v1.3h-1.3zM895.8,1935.6h1.3v1.3h-1.3zM897.7,1950.7h1.3v1.3h-1.3zM912.8,1939.5h1.3v1.3h-1.3zM941.5,1921.1h1.3v1.3h-1.3zM893.3,1958.2h1.3v1.3h-1.3zM936.5,1944.6h1.3v1.3h-1.3zM920.7,1945.5h1.3v1.3h-1.3zM928.1,1996.2h1.3v1.3h-1.3zM884.8,1967.7h1.3v1.3h-1.3zM864.8,1979.4h1.3v1.3h-1.3zM946.0,1958.8h1.3v1.3h-1.3zM856.9,1966.9h1.3v1.3h-1.3zM943.7,1982.0h1.3v1.3h-1.3zM930.9,1917.7h1.3v1.3h-1.3zM874.2,1989.3h1.3v1.3h-1.3zM853.4,1982.9h1.3v1.3h-1.3zM971.5,1974.8h1.3v1.3h-1.3zM942.6,1950.7h1.3v1.3h-1.3zM853.4,1955.7h1.3v1.3h-1.3zM892.4,1957.0h1.3v1.3h-1.3zM926.5,1954.8h1.3v1.3h-1.3zM907.3,1967.3h1.3v1.3h-1.3zM899.8,1998.6h1.3v1.3h-1.3zM916.8,1959.9h1.3v1.3h-1.3zM892.1,1944.2h1.3v1.3h-1.3zM951.1,1961.3h1.3v1.3h-1.3zM859.0,1945.6h1.3v1.3h-1.3zM894.8,1948.2h1.3v1.3h-1.3zM941.2,1932.4h1.3v1.3h-1.3zM918.7,1961.2h1.3v1.3h-1.3zM855.2,1959.0h1.3v1.3h-1.3zM896.4,1969.0h1.3v1.3h-1.3zM882.9,1964.7h1.3v1.3h-1.3zM929.8,1980.9h1.3v1.3h-1.3zM899.5,1944.8h1.3v1.3h-1.3zM941.1,1912.0h1.3v1.3h-1.3zM869.6,1972.8h1.3v1.3h-1.3zM924.8,1935.3h1.3v1.3h-1.3zM905.8,1938.3h1.3v1.3h-1.3zM902.1,1977.8h1.3v1.3h-1.3zM928.1,1912.2h1.3v1.3h-1.3zM929.3,1918.8h1.3v1.3h-1.3zM943.3,1966.8h1.3v1.3h-1.3zM900.2,1981.0h1.3v1.3h-1.3zM875.7,1942.5h1.3v1.3h-1.3zM885.9,1956.4h1.3v1.3h-1.3zM858.9,1968.7h1.3v1.3h-1.3zM920.6,1959.6h1.3v1.3h-1.3zM964.6,1950.8h1.3v1.3h-1.3zM949.6,1946.0h1.3v1.3h-1.3zM928.7,1915.4h1.3v1.3h-1.3zM907.5,1954.1h1.3v1.3h-1.3zM881.2,1944.6h1.3v1.3h-1.3zM886.8,1942.2h1.3v1.3h-1.3zM879.1,1946.5h1.3v1.3h-1.3zM859.8,1955.0h1.3v1.3h-1.3zM929.8,1952.5h1.3v1.3h-1.3zM881.3,1987.9h1.3v1.3h-1.3zM937.1,1978.3h1.3v1.3h-1.3zM943.9,1950.8h1.3v1.3h-1.3zM895.1,1982.5h1.3v1.3h-1.3zM878.9,1955.4h1.3v1.3h-1.3zM914.4,1966.2h1.3v1.3h-1.3zM889.5,1979.6h1.3v1.3h-1.3zM893.2,1974.0h1.3v1.3h-1.3zM940.7,1972.5h1.3v1.3h-1.3zM927.9,1932.5h1.3v1.3h-1.3zM850.2,1944.4h1.3v1.3h-1.3zM918.1,1991.0h1.3v1.3h-1.3zM853.5,1964.7h1.3v1.3h-1.3zM867.5,1941.9h1.3v1.3h-1.3zM889.5,1973.2h1.3v1.3h-1.3zM908.1,1984.0h1.3v1.3h-1.3zM862.5,1977.6h1.3v1.3h-1.3zM935.3,1959.5h1.3v1.3h-1.3zM918.1,1945.6h1.3v1.3h-1.3zM858.6,1949.1h1.3v1.3h-1.3zM881.6,1994.3h1.3v1.3h-1.3zM907.7,1964.9h1.3v1.3h-1.3zM928.2,1940.9h1.3v1.3h-1.3zM934.8,1966.3h1.3v1.3h-1.3zM842.4,1971.2h1.3v1.3h-1.3zM921.0,1968.0h1.3v1.3h-1.3zM960.2,1948.9h1.3v1.3h-1.3zM919.5,1974.5h1.3v1.3h-1.3zM865.8,1984.4h1.3v1.3h-1.3zM844.9,1929.4h1.3v1.3h-1.3zM919.9,1934.0h1.3v1.3h-1.3zM895.6,1921.8h1.3v1.3h-1.3zM902.6,1933.1h1.3v1.3h-1.3zM913.0,1924.3h1.3v1.3h-1.3zM917.0,1952.1h1.3v1.3h-1.3zM902.4,1956.5h1.3v1.3h-1.3zM905.0,1928.9h1.3v1.3h-1.3zM864.4,1948.0h1.3v1.3h-1.3zM916.2,1914.3h1.3v1.3h-1.3zM871.0,1944.6h1.3v1.3h-1.3zM859.8,1965.2h1.3v1.3h-1.3zM894.7,1939.9h1.3v1.3h-1.3zM862.6,1975.8h1.3v1.3h-1.3zM874.9,1970.9h1.3v1.3h-1.3zM917.1,1916.3h1.3v1.3h-1.3zM858.8,1958.1h1.3v1.3h-1.3zM913.0,1975.2h1.3v1.3h-1.3zM930.5,1980.8h1.3v1.3h-1.3zM885.8,1953.4h1.3v1.3h-1.3zM929.5,1948.6h1.3v1.3h-1.3zM940.2,1923.0h1.3v1.3h-1.3zM924.8,1954.2h1.3v1.3h-1.3zM911.8,1958.5h1.3v1.3h-1.3zM859.1,1947.8h1.3v1.3h-1.3zM957.4,1939.8h1.3v1.3h-1.3zM854.4,1955.1h1.3v1.3h-1.3zM885.1,1937.9h1.3v1.3h-1.3zM868.0,1981.1h1.3v1.3h-1.3zM845.2,2001.0h1.3v1.3h-1.3zM879.3,1934.0h1.3v1.3h-1.3zM929.9,1970.4h1.3v1.3h-1.3zM860.4,1974.5h1.3v1.3h-1.3zM942.8,1952.4h1.3v1.3h-1.3zM850.5,1969.3h1.3v1.3h-1.3zM934.8,1957.5h1.3v1.3h-1.3zM915.9,1974.9h1.3v1.3h-1.3zM970.4,1952.4h1.3v1.3h-1.3zM881.7,1957.2h1.3v1.3h-1.3zM945.8,1937.3h1.3v1.3h-1.3zM930.3,1943.1h1.3v1.3h-1.3zM917.4,1973.1h1.3v1.3h-1.3zM855.1,1956.1h1.3v1.3h-1.3zM909.1,1970.9h1.3v1.3h-1.3zM864.7,1936.2h1.3v1.3h-1.3zM892.7,1953.1h1.3v1.3h-1.3zM843.2,1978.5h1.3v1.3h-1.3zM879.7,1989.6h1.3v1.3h-1.3zM932.4,1958.5h1.3v1.3h-1.3zM927.6,1933.5h1.3v1.3h-1.3zM887.6,1945.3h1.3v1.3h-1.3zM851.8,1958.4h1.3v1.3h-1.3zM894.5,1989.6h1.3v1.3h-1.3zM865.1,1947.8h1.3v1.3h-1.3zM916.0,1966.9h1.3v1.3h-1.3zM901.1,1947.6h1.3v1.3h-1.3zM918.8,1965.9h1.3v1.3h-1.3zM847.8,1932.0h1.3v1.3h-1.3zM905.6,1959.3h1.3v1.3h-1.3zM904.3,1938.7h1.3v1.3h-1.3z" fill="#333"/>
<ellipse cx="789" cy="1843.9" rx="12.8" ry="21.5" fill="#fff" stroke="#6e6e6e" stroke-width="1.1"/>
<path d="M699.3,1803.3H707.3 M699.3,1862.8H707.3 M699.3,1929.2H707.3 M699.3,1971.6H707.3 M699.3,2011.1H707.3 M702.8,1844.9H707.3 M702.8,1834.4H707.3 M702.8,1827.0H707.3 M702.8,1821.2H707.3 M702.8,1816.5H707.3 M702.8,1812.6H707.3 M702.8,1809.1H707.3 M702.8,1806.1H707.3 M702.8,1909.2H707.3 M702.8,1897.5H707.3 M702.8,1889.2H707.3 M702.8,1882.8H707.3 M702.8,1877.5H707.3 M702.8,1873.1H707.3 M702.8,1869.2H707.3 M702.8,1865.8H707.3 M702.8,1785.3H707.3 M702.8,1792.7H707.3 M702.8,1797.7H707.3 M702.8,1938.3H707.3 M702.8,1945.7H707.3 M702.8,1953.1H707.3 M702.8,1958.0H707.3 M702.8,1963.0H707.3 M702.8,1980.2H707.3 M702.8,1985.2H707.3 M702.8,1992.6H707.3 M702.8,2000.0H707.3 M702.8,2004.9H707.3 M823.0,2027.1V2035.1 M900.3,2027.1V2035.1 M965.4,2027.1V2035.1 M846.3,2027.1V2031.6 M859.9,2027.1V2031.6 M869.5,2027.1V2031.6 M877.0,2027.1V2031.6 M883.2,2027.1V2031.6 M888.3,2027.1V2031.6 M892.8,2027.1V2031.6 M896.8,2027.1V2031.6 M919.9,2027.1V2031.6 M931.4,2027.1V2031.6 M939.5,2027.1V2031.6 M945.8,2027.1V2031.6 M951.0,2027.1V2031.6 M955.3,2027.1V2031.6 M959.1,2027.1V2031.6 M962.4,2027.1V2031.6 M711.3,2027.1V2031.6 M717.9,2027.1V2031.6 M724.5,2027.1V2031.6 M731.1,2027.1V2031.6 M737.7,2027.1V2031.6 M744.3,2027.1V2031.6 M772.5,2027.1V2031.6 M779.1,2027.1V2031.6 M785.7,2027.1V2031.6 M792.3,2027.1V2031.6 M798.9,2027.1V2031.6 M805.5,2027.1V2031.6 M812.1,2027.1V2031.6 M818.7,2027.1V2031.6 M984.9,2027.1V2031.6" stroke="#333" stroke-width="1.6" fill="none"/>
<rect x="700.3" y="1966.59" width="6" height="10" fill="#222" stroke="none" stroke-width="0"/>
<rect x="749.5" y="2028.1" width="20" height="5" fill="#222" stroke="none" stroke-width="0"/>
<rect x="707.3" y="1780.4" width="287.1" height="246.7" fill="none" stroke="#555" stroke-width="1.6"/>
<line x1="836.8" y1="1780.4" x2="836.8" y2="2027.1" stroke="#111" stroke-width="2.1"/>
<line x1="707.3" y1="1907.8" x2="994.4" y2="1907.8" stroke="#111" stroke-width="2.1"/>
<text x="759.5" y="2071.8" font-size="26" text-anchor="middle" font-family="'Noto Sans CJK KR', sans-serif">0</text>
<text x="803.5" y="2071.8" font-size="26" font-family="'Noto Sans CJK KR', sans-serif">10<tspan font-size="17.5" dy="-8">3</tspan></text>
<text x="881.8" y="2071.8" font-size="26" font-family="'Noto Sans CJK KR', sans-serif">10<tspan font-size="17.5" dy="-8">4</tspan></text>
<text x="946.4" y="2071.8" font-size="26" font-family="'Noto Sans CJK KR', sans-serif">10<tspan font-size="17.5" dy="-8">5</tspan></text>
<text x="716" y="1811.7" font-size="26">4.6</text>
<text x="934" y="1811.7" font-size="26">1.5</text>
<text x="935" y="2015" font-size="26">13.9</text>
<path d="M459.1,2291.8 457.9,2291.7 457.2,2290.5 457.5,2289.3 458.5,2288.6 459.7,2289.1 460.1,2289.9 460.0,2291.1 459.1,2291.8 M460.3,2295.9 457.9,2296.2 455.5,2295.3 453.5,2293.5 452.7,2291.1 453.1,2288.2 454.3,2285.7 456.1,2284.0 458.5,2283.0 460.3,2283.1 462.1,2284.1 463.6,2286.3 464.5,2289.3 464.4,2291.7 463.7,2293.5 462.1,2295.1 460.3,2295.9 M571.3,2288.9 568.9,2288.6 567.2,2286.9 567.5,2284.5 569.5,2282.9 571.3,2282.8 572.5,2283.2 573.8,2285.1 573.3,2287.5 571.3,2288.9 M460.9,2299.1 457.9,2299.2 453.7,2297.9 450.7,2295.3 449.3,2292.3 449.5,2289.3 451.3,2283.3 454.9,2279.9 457.3,2278.8 460.9,2279.1 463.9,2280.8 466.4,2283.9 467.6,2287.5 467.8,2291.7 466.4,2295.3 464.1,2297.7 460.9,2299.1 M571.9,2292.3 569.5,2292.3 566.5,2291.3 564.1,2289.9 562.5,2288.1 562.1,2285.7 562.5,2283.3 563.6,2281.5 565.9,2279.8 568.9,2279.1 573.1,2279.6 575.5,2281.0 577.3,2283.3 577.8,2286.3 577.0,2288.7 574.7,2291.1 571.9,2292.3 M462.1,2301.3 457.3,2301.9 453.1,2300.8 449.2,2297.7 447.4,2295.3 446.7,2293.5 446.5,2287.5 447.5,2283.3 449.1,2280.9 452.5,2277.3 455.5,2275.4 459.7,2275.2 463.3,2276.6 467.5,2279.6 469.6,2283.3 470.7,2289.3 470.3,2294.1 466.4,2299.5 464.5,2300.6 462.1,2301.3 M573.7,2294.7 570.7,2295.0 567.1,2294.4 561.7,2292.5 559.3,2290.7 558.0,2288.1 558.0,2285.1 559.5,2280.9 561.7,2278.2 567.1,2276.2 571.9,2276.3 575.6,2277.3 579.1,2280.0 580.8,2284.5 580.8,2286.9 580.1,2289.3 577.6,2292.9 573.7,2294.7 M459.7,2304.3 457.3,2304.7 454.9,2304.2 448.0,2300.1 445.0,2295.9 443.7,2288.7 444.3,2283.9 447.1,2279.1 453.1,2273.0 454.9,2272.3 457.9,2271.8 462.1,2272.6 468.1,2276.2 470.0,2277.9 472.4,2282.7 473.3,2291.1 473.2,2293.5 472.4,2295.9 469.3,2300.3 465.1,2303.1 459.7,2304.3 M573.7,2297.1 570.7,2297.5 567.7,2297.1 559.3,2294.8 557.1,2292.9 554.9,2288.1 554.6,2282.7 556.2,2279.7 561.1,2275.2 566.5,2273.6 572.5,2273.2 578.5,2275.2 581.5,2278.3 583.4,2284.5 582.4,2291.1 581.0,2293.5 579.1,2295.1 573.7,2297.1 M458.5,2306.8 456.1,2306.8 452.5,2305.7 447.7,2303.0 445.0,2300.7 442.7,2296.5 441.4,2287.5 442.6,2281.5 444.1,2278.4 445.9,2276.0 453.1,2270.2 456.1,2269.2 460.3,2268.7 462.7,2269.5 469.9,2274.4 472.2,2276.7 475.1,2282.7 475.9,2292.3 474.2,2297.7 471.2,2301.9 465.1,2305.6 458.5,2306.8 M572.5,2299.5 567.1,2299.4 556.8,2296.5 555.1,2295.3 553.6,2292.3 551.4,2289.3 551.0,2283.3 551.7,2280.9 553.3,2278.5 556.9,2274.9 559.9,2272.9 564.1,2271.6 573.1,2270.1 580.5,2273.1 582.1,2274.4 583.6,2276.7 585.7,2284.5 584.9,2290.5 584.1,2292.9 582.6,2295.3 580.3,2297.0 576.7,2298.5 572.5,2299.5 M457.9,2308.5 454.9,2308.5 450.1,2307.1 443.9,2302.5 442.1,2300.1 440.6,2297.1 439.0,2288.7 440.2,2282.1 441.9,2276.7 443.5,2274.5 453.1,2267.1 454.9,2266.5 461.5,2266.1 464.5,2267.2 471.7,2272.4 473.9,2274.9 476.5,2279.1 477.4,2281.5 479.0,2292.3 478.4,2294.7 476.7,2298.3 474.9,2301.3 472.9,2303.5 465.1,2307.9 457.9,2308.5 M573.1,2301.3 566.5,2301.6 555.1,2298.0 552.7,2296.2 548.4,2290.5 547.3,2285.7 548.5,2280.9 551.5,2276.3 555.7,2272.4 558.7,2270.5 569.5,2268.2 574.9,2267.8 583.9,2273.0 586.6,2277.3 588.0,2281.5 588.3,2284.5 586.8,2291.7 585.2,2295.3 583.3,2297.6 580.3,2299.5 577.3,2300.6 573.1,2301.3 M463.9,2310.3 454.3,2310.1 450.1,2309.3 447.7,2308.1 442.0,2303.1 439.5,2300.1 438.3,2297.7 436.6,2292.3 436.7,2288.1 440.2,2274.9 445.3,2269.7 450.0,2265.9 454.3,2264.0 462.1,2264.0 466.9,2265.4 475.3,2272.0 478.5,2277.3 480.1,2282.1 481.3,2292.3 480.7,2295.2 479.1,2298.3 476.3,2302.5 473.5,2305.6 468.7,2308.5 463.9,2310.3 M570.1,2303.7 565.9,2303.9 554.5,2299.8 552.1,2298.5 548.4,2295.3 546.4,2292.9 544.6,2289.3 544.6,2280.3 545.1,2279.1 547.3,2277.4 549.7,2274.0 558.7,2267.8 561.1,2267.1 576.1,2265.7 579.0,2267.1 584.9,2271.3 586.5,2273.1 590.1,2279.7 590.6,2283.9 590.4,2287.5 587.1,2295.9 583.9,2299.7 578.5,2302.8 570.1,2303.7 M464.5,2312.3 462.1,2312.6 454.3,2312.1 449.5,2311.3 447.1,2310.2 438.0,2302.5 436.7,2300.1 434.2,2292.9 434.2,2289.3 437.8,2274.9 443.4,2268.3 447.9,2264.1 449.5,2263.1 453.1,2261.9 463.9,2261.7 466.9,2262.3 468.7,2263.3 472.9,2267.0 477.7,2270.3 480.5,2276.1 482.4,2281.5 483.3,2291.7 482.4,2295.9 479.9,2300.7 475.3,2306.6 472.9,2308.9 469.9,2310.8 464.5,2312.3 M569.5,2306.1 566.5,2306.4 559.9,2303.7 552.7,2301.6 546.7,2297.6 542.5,2292.9 541.5,2290.5 540.9,2286.9 541.5,2279.1 542.5,2276.6 546.6,2272.5 549.7,2270.3 553.9,2268.6 558.1,2265.9 562.3,2264.8 576.7,2263.9 581.3,2265.9 586.3,2270.1 588.3,2272.5 591.8,2278.5 592.7,2288.7 588.6,2297.1 583.9,2302.1 579.1,2305.1 573.1,2305.3 569.5,2306.1 M463.3,2314.5 454.9,2314.5 449.5,2313.5 447.1,2312.4 442.3,2308.7 438.7,2306.7 435.8,2303.7 433.7,2298.3 432.5,2293.5 432.0,2288.7 435.8,2274.3 439.2,2269.5 445.3,2262.5 448.3,2260.2 450.7,2259.1 455.5,2258.9 465.7,2259.8 469.2,2261.1 474.7,2264.7 479.6,2269.5 483.0,2276.1 486.1,2283.9 485.9,2291.7 484.0,2297.1 480.9,2303.1 475.3,2309.8 473.5,2311.3 469.9,2313.1 463.3,2314.5 M569.5,2308.0 565.9,2308.2 559.9,2305.8 551.5,2303.4 545.2,2299.5 540.1,2294.1 538.3,2288.9 536.4,2285.1 536.0,2282.1 536.6,2280.3 539.5,2276.1 541.9,2273.7 543.7,2270.5 552.9,2265.9 559.9,2263.3 565.3,2262.1 577.3,2262.4 580.9,2263.5 583.0,2264.7 589.1,2270.1 592.9,2275.6 593.6,2277.3 594.6,2283.3 594.9,2288.7 593.8,2292.3 591.0,2297.1 585.1,2303.7 580.3,2306.6 569.5,2308.0 M462.1,2180.2 460.3,2180.3 459.1,2179.7 457.6,2177.1 458.0,2174.1 459.0,2172.9 460.3,2172.3 463.2,2172.9 464.8,2175.3 464.3,2178.3 462.1,2180.2 M462.7,2316.4 457.3,2316.7 448.9,2315.2 444.1,2312.5 435.8,2306.7 434.5,2305.2 431.7,2299.5 430.0,2289.9 431.5,2279.7 433.7,2273.7 441.7,2262.1 444.1,2260.0 450.1,2257.1 459.7,2255.8 468.7,2258.6 475.9,2262.5 478.3,2264.5 480.6,2267.7 483.0,2272.5 486.7,2277.3 488.7,2282.7 489.3,2286.9 490.2,2289.9 489.8,2291.7 487.7,2294.7 485.3,2300.1 476.5,2311.5 469.9,2315.0 462.7,2316.4 M569.5,2309.8 565.9,2309.9 555.1,2306.9 550.9,2305.2 546.7,2302.6 540.1,2299.4 538.6,2297.7 536.5,2293.4 533.5,2290.1 532.7,2285.1 533.0,2280.9 534.1,2278.2 535.9,2275.5 539.5,2272.8 543.1,2268.1 552.1,2263.3 556.3,2262.6 559.9,2261.1 566.5,2259.6 572.5,2259.7 580.3,2261.6 584.5,2263.6 590.3,2268.3 594.2,2273.7 595.4,2276.1 596.8,2282.7 596.6,2288.7 595.5,2294.1 592.1,2298.9 587.8,2303.7 583.3,2307.2 581.5,2308.0 569.5,2309.8 M463.3,2187.4 459.7,2187.6 456.1,2186.0 453.2,2182.5 451.7,2178.3 451.7,2174.1 453.1,2170.3 456.1,2167.2 459.7,2165.8 463.3,2165.9 466.9,2167.5 469.7,2170.5 471.2,2174.1 471.1,2178.3 469.5,2182.5 466.9,2185.5 463.3,2187.4 M462.1,2318.2 456.1,2318.2 447.7,2316.6 438.7,2310.9 434.5,2307.7 433.1,2306.1 429.6,2300.1 429.4,2295.3 428.0,2290.5 429.2,2284.5 429.4,2279.7 431.9,2272.5 437.5,2264.7 440.5,2259.6 442.3,2258.1 449.5,2255.5 459.7,2253.3 465.1,2253.9 468.7,2255.4 477.1,2260.9 479.4,2262.9 481.8,2265.9 485.9,2272.5 493.2,2279.7 493.3,2284.6 494.2,2288.7 492.3,2294.1 489.6,2297.1 487.3,2301.9 481.3,2308.5 478.7,2312.1 470.5,2316.5 462.1,2318.2 M574.3,2310.9 567.7,2311.5 559.3,2310.3 552.7,2308.3 547.3,2305.0 538.9,2301.3 531.2,2294.7 528.1,2285.8 526.0,2283.9 526.3,2282.2 530.5,2277.2 532.9,2273.4 538.3,2270.6 543.7,2264.8 558.1,2259.2 565.3,2257.9 573.1,2257.2 576.1,2258.8 580.9,2259.8 585.9,2262.3 591.1,2266.4 592.8,2268.3 595.9,2273.1 598.5,2279.7 599.1,2282.7 598.1,2286.3 597.6,2294.1 595.3,2298.3 591.8,2302.5 584.5,2308.4 582.1,2309.5 574.3,2310.9 M462.7,2192.2 460.3,2192.3 457.9,2191.8 455.5,2190.5 453.1,2188.5 449.7,2183.7 448.1,2177.7 448.7,2171.7 451.1,2166.9 454.9,2163.6 459.7,2162.0 465.1,2162.5 470.0,2165.1 473.4,2169.3 475.1,2174.7 474.6,2180.1 472.2,2185.5 468.1,2189.7 465.7,2191.2 462.7,2192.2 M461.5,2319.9 455.5,2319.8 447.7,2318.4 445.9,2317.7 437.5,2312.2 432.7,2308.3 427.9,2300.7 427.4,2298.9 426.3,2291.1 427.3,2285.5 427.1,2280.9 429.5,2272.5 431.4,2268.3 435.7,2263.3 440.5,2256.4 445.9,2255.0 450.7,2253.0 457.3,2251.4 463.9,2251.2 466.9,2251.8 470.5,2253.7 478.3,2259.2 489.7,2271.9 494.5,2274.7 498.6,2276.1 501.1,2281.5 503.5,2283.0 504.7,2282.3 506.8,2279.1 509.5,2278.2 511.3,2278.5 514.3,2280.6 515.5,2280.3 517.3,2278.8 518.5,2278.7 520.0,2279.7 521.5,2281.5 522.1,2281.4 525.0,2276.7 530.5,2271.1 537.7,2268.2 543.1,2263.1 547.3,2261.7 555.1,2258.1 559.9,2256.8 565.3,2256.1 568.9,2256.3 573.7,2255.3 577.3,2257.0 581.5,2257.9 589.3,2262.2 595.0,2268.3 601.0,2280.9 601.3,2283.3 599.7,2287.5 599.4,2294.1 596.8,2299.5 592.5,2304.3 585.6,2309.7 582.7,2311.0 578.5,2311.8 574.3,2313.2 565.9,2312.8 561.7,2313.1 559.3,2312.6 550.9,2309.8 547.3,2307.5 542.5,2306.1 534.8,2301.3 531.7,2298.2 527.0,2295.3 525.1,2292.9 522.1,2293.4 520.6,2292.9 517.9,2289.2 514.6,2291.1 512.5,2291.3 510.7,2290.4 507.1,2287.2 505.3,2286.6 503.6,2289.3 496.3,2294.1 494.2,2297.1 490.9,2299.7 487.5,2306.1 480.1,2313.3 470.5,2318.1 461.5,2319.9 M462.7,2196.4 460.3,2196.5 457.3,2195.6 454.3,2193.7 451.3,2191.0 448.9,2188.0 447.2,2184.9 446.0,2181.3 445.4,2177.7 446.0,2171.1 447.1,2168.1 448.9,2165.1 451.2,2162.7 453.7,2160.9 456.7,2159.6 459.7,2159.0 462.7,2159.0 466.3,2159.8 469.3,2161.1 472.3,2163.2 476.1,2168.1 477.4,2171.1 478.0,2174.7 477.4,2181.3 476.0,2184.9 474.2,2187.9 471.7,2190.8 468.7,2193.4 465.7,2195.2 462.7,2196.4 M457.3,2321.7 454.9,2321.7 451.3,2320.4 445.3,2319.5 436.9,2313.8 432.1,2309.9 426.2,2300.7 424.7,2292.3 425.5,2286.3 424.8,2280.3 426.4,2276.7 427.6,2271.9 429.9,2267.1 433.3,2262.1 436.4,2259.3 439.1,2255.1 445.7,2252.7 447.7,2250.2 448.9,2249.5 451.9,2249.4 456.1,2247.8 459.7,2248.8 463.9,2248.7 469.3,2250.5 479.2,2256.9 483.2,2261.7 495.7,2271.8 502.3,2272.9 505.9,2275.1 506.6,2274.9 507.5,2273.1 508.9,2272.4 510.7,2272.6 514.3,2274.0 523.9,2271.9 528.1,2268.2 531.1,2267.0 534.7,2266.4 541.9,2261.9 550.9,2258.4 555.1,2256.1 560.5,2254.8 564.7,2254.5 568.9,2254.7 572.5,2253.6 574.3,2253.6 582.1,2256.2 590.4,2260.5 596.5,2267.7 602.3,2279.1 603.0,2283.9 601.8,2288.1 601.2,2294.1 600.6,2296.5 598.4,2300.7 594.7,2304.6 586.8,2310.9 576.1,2314.8 574.3,2315.1 567.1,2314.3 562.3,2315.1 558.1,2314.4 553.3,2312.2 549.1,2311.2 546.1,2309.4 541.3,2308.1 538.3,2306.0 533.3,2303.7 530.6,2300.1 528.7,2299.0 522.1,2298.1 518.5,2296.6 506.5,2296.0 502.3,2296.6 498.7,2299.3 493.1,2301.3 492.1,2302.5 490.3,2306.7 486.1,2309.6 481.9,2314.1 475.9,2317.9 468.7,2320.4 462.1,2321.6 457.3,2321.7 M462.7,2201.1 460.3,2201.4 457.9,2200.4 453.1,2196.5 448.9,2192.1 446.4,2188.5 444.7,2184.9 443.6,2181.3 443.0,2177.1 443.2,2172.9 444.1,2169.3 445.7,2165.7 447.7,2162.8 450.7,2159.9 453.7,2158.1 456.7,2157.0 460.3,2156.4 463.9,2156.6 467.5,2157.5 471.1,2159.2 474.1,2161.4 476.9,2164.5 478.7,2167.5 480.0,2171.1 480.6,2174.7 480.4,2178.9 479.7,2182.5 476.5,2189.1 471.1,2195.0 465.7,2199.4 462.7,2201.1 M455.5,2323.5 444.1,2320.8 439.8,2318.1 430.9,2311.1 426.9,2305.5 424.6,2300.7 422.9,2292.9 423.7,2286.9 422.8,2280.3 426.8,2269.5 430.3,2264.1 432.0,2260.5 435.1,2257.8 437.5,2254.4 439.3,2253.0 444.1,2251.1 446.5,2248.2 448.9,2246.9 452.5,2246.5 457.9,2245.0 460.9,2246.2 465.1,2246.6 469.9,2248.1 476.5,2253.3 480.1,2255.1 484.9,2260.2 488.5,2262.3 491.3,2265.3 493.9,2267.2 498.1,2269.3 502.3,2268.9 506.5,2269.9 515.5,2270.1 519.1,2269.6 525.7,2265.8 533.5,2263.8 536.5,2261.1 544.9,2259.0 550.3,2256.8 554.5,2254.4 559.3,2253.1 568.9,2252.8 572.5,2251.9 574.9,2251.9 586.3,2256.1 592.3,2259.4 599.1,2268.9 601.4,2274.3 603.6,2277.9 604.5,2283.9 604.0,2290.5 602.1,2297.7 600.6,2301.3 595.9,2306.1 592.9,2307.9 588.1,2311.9 577.3,2316.4 574.3,2316.8 568.9,2316.0 564.1,2316.7 556.9,2315.9 552.7,2313.8 548.5,2312.9 540.1,2309.4 535.3,2307.0 528.7,2302.8 525.7,2302.3 522.7,2301.1 514.3,2300.2 508.9,2298.6 506.5,2298.4 504.1,2298.9 499.9,2302.0 495.7,2303.5 492.5,2307.3 486.8,2310.9 483.5,2315.1 475.3,2320.0 468.7,2322.2 463.3,2323.1 455.5,2323.5 M461.5,2222.3 460.3,2222.2 459.7,2221.6 458.5,2219.1 457.1,2208.3 455.7,2204.1 453.2,2200.5 446.5,2192.7 443.4,2187.3 441.6,2181.9 441.0,2176.5 441.3,2172.3 442.3,2168.1 444.0,2164.5 446.5,2160.9 449.5,2158.1 453.1,2155.9 456.7,2154.7 460.9,2154.2 465.1,2154.5 469.3,2155.8 472.9,2157.7 476.5,2160.6 479.2,2163.9 481.1,2167.5 482.4,2171.7 482.8,2175.9 482.0,2182.5 479.2,2189.1 475.9,2193.6 468.5,2201.1 465.8,2205.3 464.8,2208.9 463.6,2218.5 462.7,2221.0 461.5,2222.3 M464.5,2324.8 453.1,2324.9 449.5,2323.6 444.1,2322.6 438.1,2319.1 429.7,2313.0 427.7,2309.7 425.1,2306.7 421.2,2294.7 421.2,2279.7 425.0,2268.9 428.7,2264.1 430.4,2259.9 432.7,2256.7 437.5,2252.2 442.9,2249.8 445.9,2246.5 449.5,2244.1 453.1,2244.0 458.5,2242.1 462.7,2243.8 468.7,2245.0 472.9,2247.0 477.3,2251.5 481.3,2253.6 486.1,2258.5 490.3,2260.9 493.3,2263.9 497.5,2264.6 507.1,2267.8 510.1,2267.3 514.3,2267.4 518.5,2266.7 523.3,2264.2 532.3,2261.3 539.5,2257.8 544.3,2257.0 549.2,2255.1 552.1,2253.1 558.7,2250.9 568.3,2250.7 573.1,2249.7 575.5,2249.8 587.5,2254.6 594.1,2258.6 601.1,2268.9 605.1,2277.3 606.3,2284.5 606.0,2289.3 603.8,2298.3 602.0,2302.5 599.1,2304.9 597.1,2307.7 591.8,2311.5 588.1,2313.8 579.7,2317.5 576.1,2318.3 569.5,2317.8 564.7,2318.4 556.9,2317.3 550.9,2315.2 546.7,2314.3 536.5,2310.0 529.3,2305.5 523.9,2304.9 520.3,2303.7 514.9,2303.9 511.9,2302.8 508.9,2300.8 507.1,2300.6 499.9,2305.0 496.3,2306.5 488.7,2311.5 486.1,2315.1 483.1,2317.5 474.7,2322.2 464.5,2324.8 M464.5,2326.6 453.1,2326.5 448.9,2325.1 443.5,2324.1 428.5,2314.5 423.6,2307.9 421.2,2301.9 419.6,2295.3 418.6,2286.3 419.7,2278.5 423.0,2268.3 424.3,2266.3 427.6,2262.9 430.9,2255.3 437.5,2250.1 442.3,2248.2 448.3,2241.9 454.3,2240.7 458.1,2237.1 459.7,2234.7 457.9,2231.4 455.5,2223.3 454.0,2209.5 453.1,2205.6 451.1,2201.7 445.0,2193.9 442.1,2189.1 439.8,2182.5 439.1,2175.9 439.6,2171.1 440.8,2166.9 442.8,2162.7 445.3,2159.4 448.9,2156.1 452.5,2154.0 456.1,2152.7 460.3,2152.1 464.5,2152.4 469.3,2153.6 473.5,2155.7 477.1,2158.4 480.1,2161.7 482.5,2165.7 484.1,2169.9 484.8,2174.1 484.4,2181.3 481.9,2188.5 478.4,2193.9 471.3,2201.7 469.2,2205.3 468.2,2208.9 467.1,2219.7 466.1,2225.1 464.5,2229.5 461.2,2234.1 463.9,2236.6 466.6,2241.3 474.1,2245.0 478.9,2249.8 484.4,2253.3 487.9,2257.1 493.9,2261.4 502.3,2263.5 506.5,2265.1 510.7,2263.6 519.1,2263.8 522.1,2262.1 525.1,2261.5 532.9,2258.9 539.5,2255.6 543.7,2255.1 548.5,2253.3 551.0,2251.5 555.1,2250.6 558.7,2249.0 568.3,2248.9 576.1,2248.0 586.9,2252.3 595.4,2257.5 598.9,2262.0 600.2,2264.7 605.2,2271.9 607.2,2277.9 608.4,2284.5 607.6,2289.9 606.0,2294.7 605.6,2298.9 602.5,2304.5 599.9,2306.7 598.3,2306.8 597.8,2307.3 597.7,2309.4 592.9,2313.1 587.5,2316.0 579.7,2319.1 576.7,2319.7 564.7,2319.8 555.1,2318.3 540.1,2313.8 534.7,2311.4 529.9,2308.2 519.7,2305.9 514.3,2305.9 507.7,2303.7 503.0,2305.5 493.7,2310.3 490.4,2312.7 487.8,2316.3 483.7,2319.1 476.5,2323.1 464.5,2326.6 M466.9,2327.8 457.9,2328.1 451.3,2327.8 441.7,2324.9 430.3,2318.1 425.1,2313.3 422.1,2308.5 419.2,2301.9 416.6,2288.1 416.6,2283.9 419.4,2272.5 421.8,2266.5 426.7,2261.1 429.1,2255.1 437.5,2247.0 441.1,2245.8 446.6,2240.7 452.2,2238.3 454.1,2235.9 454.2,2230.5 451.2,2207.1 449.4,2202.9 442.8,2193.9 439.9,2188.5 437.8,2181.3 437.5,2174.1 438.2,2169.3 439.6,2165.1 441.9,2160.9 444.7,2157.4 448.3,2154.3 451.9,2152.3 456.1,2150.8 460.3,2150.3 464.5,2150.5 469.3,2151.6 473.5,2153.5 477.7,2156.4 480.9,2159.7 483.7,2163.9 485.7,2168.7 486.6,2172.9 486.4,2180.7 484.0,2188.5 480.4,2194.5 472.7,2203.5 470.5,2208.9 469.2,2222.1 467.3,2232.9 468.6,2237.7 471.9,2241.3 477.5,2245.5 481.9,2249.7 486.7,2252.6 489.7,2255.7 493.9,2259.0 498.7,2261.1 502.9,2261.6 506.5,2262.8 511.3,2261.1 515.5,2261.8 518.5,2261.7 521.5,2260.1 524.5,2259.5 527.5,2258.3 532.2,2257.5 538.9,2253.9 543.7,2253.3 550.3,2250.1 554.5,2249.3 558.7,2247.5 576.7,2246.7 586.9,2250.4 596.5,2256.4 600.9,2261.7 606.9,2271.3 609.4,2277.9 610.4,2283.3 609.3,2289.9 607.8,2294.7 607.7,2298.9 603.1,2306.3 602.7,2306.7 598.3,2307.0 597.7,2311.3 593.5,2314.6 587.5,2317.7 580.3,2320.3 576.7,2321.0 566.5,2321.4 554.5,2319.8 548.5,2317.8 539.5,2315.7 521.5,2308.1 518.5,2307.7 514.9,2308.3 508.9,2307.6 503.5,2308.1 495.7,2311.5 492.2,2313.9 489.2,2317.5 480.1,2322.8 475.9,2324.9 466.9,2327.8" fill="none" stroke="#5e5e5e" stroke-width="1.1" stroke-linejoin="round"/>
<path d="M581.5,2172.6h1.3v1.3h-1.3zM526.9,2164.5h1.3v1.3h-1.3zM519.9,2223.2h1.3v1.3h-1.3zM568.2,2172.1h1.3v1.3h-1.3zM555.0,2175.5h1.3v1.3h-1.3zM515.5,2221.9h1.3v1.3h-1.3zM568.3,2228.3h1.3v1.3h-1.3zM554.0,2197.1h1.3v1.3h-1.3zM534.9,2144.0h1.3v1.3h-1.3zM603.1,2218.6h1.3v1.3h-1.3zM541.5,2222.7h1.3v1.3h-1.3zM591.6,2167.9h1.3v1.3h-1.3zM570.3,2228.3h1.3v1.3h-1.3zM559.6,2227.4h1.3v1.3h-1.3zM534.3,2175.9h1.3v1.3h-1.3zM581.8,2160.4h1.3v1.3h-1.3zM540.9,2220.5h1.3v1.3h-1.3zM558.4,2212.9h1.3v1.3h-1.3zM534.3,2156.0h1.3v1.3h-1.3zM545.8,2157.2h1.3v1.3h-1.3zM607.2,2166.7h1.3v1.3h-1.3zM566.2,2150.6h1.3v1.3h-1.3zM563.4,2175.5h1.3v1.3h-1.3zM550.3,2146.0h1.3v1.3h-1.3zM522.3,2216.0h1.3v1.3h-1.3zM545.1,2162.5h1.3v1.3h-1.3zM529.1,2166.1h1.3v1.3h-1.3zM533.7,2143.2h1.3v1.3h-1.3zM576.4,2171.4h1.3v1.3h-1.3zM525.6,2204.9h1.3v1.3h-1.3zM519.3,2164.8h1.3v1.3h-1.3zM593.5,2151.8h1.3v1.3h-1.3zM554.3,2216.9h1.3v1.3h-1.3zM590.5,2154.6h1.3v1.3h-1.3zM545.3,2206.5h1.3v1.3h-1.3zM547.7,2228.2h1.3v1.3h-1.3zM530.8,2227.5h1.3v1.3h-1.3zM560.5,2160.9h1.3v1.3h-1.3zM555.3,2152.0h1.3v1.3h-1.3zM580.6,2164.0h1.3v1.3h-1.3zM600.0,2194.1h1.3v1.3h-1.3zM546.8,2162.7h1.3v1.3h-1.3zM570.8,2159.6h1.3v1.3h-1.3zM597.2,2151.3h1.3v1.3h-1.3zM561.3,2189.9h1.3v1.3h-1.3zM537.0,2211.0h1.3v1.3h-1.3zM548.5,2200.5h1.3v1.3h-1.3zM566.8,2168.6h1.3v1.3h-1.3zM549.0,2147.9h1.3v1.3h-1.3zM527.7,2218.3h1.3v1.3h-1.3zM542.1,2201.0h1.3v1.3h-1.3zM520.9,2191.7h1.3v1.3h-1.3zM546.1,2186.0h1.3v1.3h-1.3zM539.7,2146.1h1.3v1.3h-1.3zM541.1,2160.8h1.3v1.3h-1.3z" fill="#777"/>
<path d="M369.1,2134.6H377.1 M369.1,2192.0H377.1 M369.1,2256.1H377.1 M369.1,2297.0H377.1 M369.1,2335.1H377.1 M372.6,2174.8H377.1 M372.6,2164.6H377.1 M372.6,2157.5H377.1 M372.6,2151.9H377.1 M372.6,2147.4H377.1 M372.6,2143.5H377.1 M372.6,2140.2H377.1 M372.6,2137.3H377.1 M372.6,2236.8H377.1 M372.6,2225.5H377.1 M372.6,2217.5H377.1 M372.6,2211.3H377.1 M372.6,2206.2H377.1 M372.6,2201.9H377.1 M372.6,2198.2H377.1 M372.6,2195.0H377.1 M372.6,2117.3H377.1 M372.6,2124.4H377.1 M372.6,2129.2H377.1 M372.6,2264.9H377.1 M372.6,2272.0H377.1 M372.6,2279.2H377.1 M372.6,2283.9H377.1 M372.6,2288.7H377.1 M372.6,2305.4H377.1 M372.6,2310.1H377.1 M372.6,2317.3H377.1 M372.6,2324.4H377.1 M372.6,2329.2H377.1 M496.6,2350.6V2358.6 M572.7,2350.6V2358.6 M639.0,2350.6V2358.6 M519.5,2350.6V2355.1 M532.9,2350.6V2355.1 M542.4,2350.6V2355.1 M549.8,2350.6V2355.1 M555.8,2350.6V2355.1 M560.9,2350.6V2355.1 M565.3,2350.6V2355.1 M569.2,2350.6V2355.1 M592.7,2350.6V2355.1 M604.3,2350.6V2355.1 M612.6,2350.6V2355.1 M619.0,2350.6V2355.1 M624.3,2350.6V2355.1 M628.7,2350.6V2355.1 M632.6,2350.6V2355.1 M636.0,2350.6V2355.1 M381.1,2350.6V2355.1 M387.7,2350.6V2355.1 M394.3,2350.6V2355.1 M400.9,2350.6V2355.1 M407.5,2350.6V2355.1 M414.1,2350.6V2355.1 M445.0,2350.6V2355.1 M451.6,2350.6V2355.1 M458.2,2350.6V2355.1 M464.8,2350.6V2355.1 M471.4,2350.6V2355.1 M478.0,2350.6V2355.1 M484.6,2350.6V2355.1 M491.2,2350.6V2355.1 M658.9,2350.6V2355.1" stroke="#333" stroke-width="1.6" fill="none"/>
<rect x="370.1" y="2292.03" width="6" height="10" fill="#222" stroke="none" stroke-width="0"/>
<rect x="422" y="2351.6" width="20" height="5" fill="#222" stroke="none" stroke-width="0"/>
<rect x="377.1" y="2112.5" width="287.3" height="238.1" fill="none" stroke="#555" stroke-width="1.6"/>
<line x1="506.3" y1="2112.5" x2="506.3" y2="2350.6" stroke="#111" stroke-width="2.1"/>
<line x1="377.1" y1="2235.6" x2="664.4" y2="2235.6" stroke="#111" stroke-width="2.1"/>
<text x="432" y="2396" font-size="26" text-anchor="middle" font-family="'Noto Sans CJK KR', sans-serif">0</text>
<text x="477.1" y="2396" font-size="26" font-family="'Noto Sans CJK KR', sans-serif">10<tspan font-size="17.5" dy="-8">3</tspan></text>
<text x="554.2" y="2396" font-size="26" font-family="'Noto Sans CJK KR', sans-serif">10<tspan font-size="17.5" dy="-8">4</tspan></text>
<text x="620" y="2396" font-size="26" font-family="'Noto Sans CJK KR', sans-serif">10<tspan font-size="17.5" dy="-8">5</tspan></text>
<text x="319.5" y="2142.9" font-size="26" font-family="'Noto Sans CJK KR', sans-serif">10<tspan font-size="17.5" dy="-8">5</tspan></text>
<text x="319.5" y="2197.8" font-size="26" font-family="'Noto Sans CJK KR', sans-serif">10<tspan font-size="17.5" dy="-8">4</tspan></text>
<text x="319.5" y="2264.2" font-size="26" font-family="'Noto Sans CJK KR', sans-serif">10<tspan font-size="17.5" dy="-8">3</tspan></text>
<text x="333.2" y="2303.5" font-size="26" font-family="'Noto Sans CJK KR', sans-serif">0</text>
<text x="319.5" y="2345.4" font-size="26" font-family="'Noto Sans CJK KR', sans-serif">10<tspan font-size="17.5" dy="-8">-3</tspan></text>
<text x="385.3" y="2144.2" font-size="26">10.8</text>
<text x="604" y="2144.2" font-size="26">2.3</text>
<text x="605" y="2332.4" font-size="26">31.3</text>
<path d="M785.4,2291.7 784.2,2291.5 783.5,2290.5 784.0,2289.3 784.8,2288.9 786.3,2289.9 786.3,2291.1 785.4,2291.7 M786.6,2295.4 784.2,2295.6 781.8,2294.9 780.1,2293.5 779.2,2291.7 779.1,2289.3 779.8,2286.9 781.2,2285.3 783.6,2284.1 786.0,2284.0 787.8,2284.8 790.0,2286.9 790.8,2288.7 790.9,2291.1 790.1,2292.9 788.4,2294.6 786.6,2295.4 M786.6,2298.4 783.0,2298.4 780.0,2297.4 777.6,2295.3 776.1,2292.3 776.0,2288.1 776.9,2285.1 779.4,2282.0 782.4,2280.6 786.6,2280.3 789.6,2281.5 792.6,2285.0 794.0,2288.1 794.1,2291.7 793.2,2294.1 790.1,2297.1 786.6,2298.4 M786.6,2300.7 782.4,2300.7 777.6,2298.5 774.2,2294.7 773.1,2291.7 773.5,2285.7 775.5,2282.1 780.0,2278.3 785.4,2276.8 789.6,2277.8 793.1,2280.3 796.2,2285.1 797.0,2288.1 796.5,2293.5 794.4,2297.0 791.2,2299.5 786.6,2300.7 M785.4,2303.1 781.2,2303.0 775.8,2300.1 771.7,2295.3 770.5,2291.7 771.3,2283.9 774.0,2279.6 778.6,2276.1 782.4,2274.5 784.8,2274.0 790.2,2274.9 793.2,2276.6 796.8,2280.7 799.3,2285.7 799.8,2288.7 798.7,2294.1 795.0,2300.1 791.4,2302.0 785.4,2303.1 M786.6,2304.9 781.2,2305.1 774.6,2302.2 772.5,2300.1 769.5,2295.9 768.2,2293.5 767.8,2291.7 769.0,2282.7 772.8,2277.2 776.6,2273.7 784.2,2271.5 792.0,2272.9 795.0,2274.6 798.9,2279.7 801.4,2285.1 802.2,2289.3 802.0,2292.3 801.1,2294.7 796.5,2301.9 792.0,2304.2 786.6,2304.9 M791.4,2306.8 782.4,2307.1 775.2,2305.2 771.6,2302.5 766.1,2294.7 765.6,2291.1 766.3,2283.3 766.9,2281.5 773.4,2273.1 777.0,2270.6 784.8,2269.0 795.0,2271.7 797.5,2273.7 803.4,2283.3 804.6,2291.1 803.9,2294.7 798.0,2303.2 795.6,2304.9 791.4,2306.8 M787.8,2309.1 783.6,2309.6 780.6,2309.3 775.8,2307.8 771.6,2305.4 769.2,2303.1 764.4,2295.9 763.7,2294.1 764.2,2287.5 763.7,2283.3 764.6,2280.9 772.8,2270.5 775.8,2268.8 782.4,2266.5 785.4,2266.7 793.2,2268.5 798.6,2270.8 801.3,2274.3 805.6,2282.1 806.1,2283.9 807.1,2292.9 804.3,2298.3 800.2,2303.7 796.2,2306.9 792.6,2308.5 787.8,2309.1 M786.6,2311.6 783.6,2311.8 779.4,2311.3 774.6,2309.3 769.2,2306.2 762.4,2296.5 761.6,2294.1 762.1,2287.5 761.5,2283.3 762.4,2280.9 771.0,2268.6 781.2,2263.9 793.8,2265.9 799.8,2269.2 803.6,2273.7 805.7,2277.9 807.6,2280.3 808.3,2282.7 808.2,2288.1 809.3,2292.9 806.3,2299.5 803.8,2303.1 801.6,2305.3 796.2,2309.1 786.6,2311.6 M785.4,2313.4 778.2,2312.7 772.2,2310.0 767.4,2307.1 760.7,2297.7 759.7,2294.1 759.3,2286.9 759.8,2282.7 765.3,2271.9 768.3,2268.3 770.4,2266.5 780.6,2261.9 794.4,2263.5 802.2,2269.2 805.7,2273.1 809.6,2279.7 810.3,2282.7 810.3,2288.1 811.3,2291.7 811.0,2294.1 808.3,2300.7 802.8,2307.2 796.2,2310.8 785.4,2313.4 M786.6,2314.6 783.6,2314.8 777.6,2314.0 771.0,2311.5 766.2,2308.3 764.4,2306.7 759.4,2299.5 758.0,2295.3 757.3,2287.5 758.0,2283.3 759.0,2280.3 763.9,2270.1 767.4,2266.5 772.2,2263.1 780.0,2260.2 793.2,2261.1 795.6,2262.0 806.8,2271.3 810.3,2276.1 812.1,2282.1 813.0,2293.5 811.7,2298.9 809.4,2302.5 804.6,2308.1 802.2,2309.8 796.8,2312.4 786.6,2314.6 M898.2,2291.8 892.8,2291.5 888.3,2289.9 886.0,2287.5 885.7,2286.3 886.3,2284.5 889.5,2281.5 894.0,2279.9 898.8,2279.8 903.0,2281.3 905.6,2283.9 906.2,2285.7 905.9,2287.5 904.8,2289.1 903.0,2290.4 898.2,2291.8 M787.8,2315.7 784.2,2316.3 777.6,2315.4 769.2,2312.4 763.8,2308.5 760.8,2305.2 757.9,2300.7 756.7,2297.1 755.8,2286.3 758.4,2276.7 762.5,2268.9 763.8,2267.2 766.2,2264.9 773.4,2259.8 775.8,2258.8 780.6,2258.2 784.8,2258.5 789.6,2257.8 795.0,2258.9 799.8,2263.5 807.8,2269.5 812.3,2274.9 813.6,2279.7 814.9,2294.1 814.5,2297.7 813.3,2300.1 804.7,2310.3 798.0,2314.0 792.0,2315.3 787.8,2315.7 M900.0,2298.3 894.6,2298.5 888.6,2297.7 883.2,2296.3 878.3,2294.1 874.8,2291.7 872.5,2288.7 872.1,2286.3 873.0,2283.3 876.0,2279.8 880.2,2276.8 885.0,2274.3 890.4,2272.4 895.8,2271.6 900.6,2271.6 905.4,2272.6 909.6,2274.3 913.6,2277.3 916.3,2280.9 917.5,2285.1 916.9,2289.3 914.4,2292.7 910.8,2295.3 906.0,2297.2 900.0,2298.3 M786.0,2317.6 783.0,2317.7 774.6,2316.3 768.0,2313.5 760.3,2307.9 756.9,2302.5 755.7,2299.5 754.7,2294.7 753.9,2285.1 757.1,2274.3 761.6,2267.1 765.6,2263.0 768.8,2261.1 771.8,2258.1 774.0,2256.8 781.8,2255.8 786.0,2256.2 790.2,2254.8 796.2,2256.5 800.4,2261.2 803.4,2263.0 806.1,2265.9 808.8,2267.9 811.2,2271.1 814.1,2273.7 815.7,2279.1 817.4,2292.9 815.9,2299.5 806.1,2311.5 802.2,2313.2 798.6,2315.6 792.0,2317.2 786.0,2317.6 M900.6,2302.5 893.4,2302.6 886.2,2301.6 879.0,2299.8 872.3,2297.1 867.2,2294.1 863.3,2290.5 862.0,2286.9 862.7,2283.9 866.2,2279.7 872.7,2274.9 880.8,2270.4 888.0,2267.7 894.6,2266.3 900.6,2266.2 906.6,2267.1 912.6,2269.3 918.6,2273.4 922.6,2278.5 923.8,2281.5 924.5,2284.5 924.5,2287.5 923.9,2289.9 922.6,2292.3 920.6,2294.7 915.6,2298.4 908.4,2301.2 900.6,2302.5 M792.6,2318.7 783.6,2319.2 775.2,2318.3 772.8,2317.6 766.8,2314.6 759.0,2309.2 755.1,2302.5 752.8,2296.5 752.0,2284.5 753.3,2279.1 756.0,2272.5 760.7,2265.3 765.6,2260.1 770.4,2256.6 776.4,2253.9 785.4,2253.8 789.0,2252.6 796.8,2254.7 800.4,2257.7 805.3,2260.5 807.1,2264.1 810.0,2266.4 812.2,2269.5 815.5,2272.5 818.8,2280.3 820.6,2291.1 817.2,2300.7 813.0,2306.7 810.0,2309.2 806.4,2313.0 799.8,2316.6 792.6,2318.7 M904.2,2305.5 895.8,2306.0 887.4,2305.2 879.0,2303.5 870.0,2300.5 861.3,2296.5 855.2,2292.3 852.6,2288.7 852.2,2286.9 852.6,2285.1 853.6,2283.3 855.8,2280.9 862.4,2276.1 874.8,2268.7 884.4,2264.3 891.6,2262.4 898.8,2261.7 906.0,2262.3 912.6,2264.2 916.8,2266.2 920.4,2268.5 923.5,2271.3 926.1,2274.3 928.2,2277.9 929.5,2281.5 930.1,2285.1 929.8,2288.7 928.8,2291.7 926.9,2294.7 921.6,2299.5 913.8,2303.3 904.2,2305.5 M791.4,2320.6 783.6,2320.6 779.4,2319.9 775.8,2319.9 769.9,2318.1 765.6,2316.1 758.0,2310.3 752.2,2300.7 750.7,2297.1 750.0,2287.5 750.3,2279.7 751.0,2277.9 753.0,2275.2 754.8,2270.6 760.0,2262.9 765.0,2258.0 768.6,2255.4 775.8,2251.9 780.6,2251.2 784.2,2251.4 789.6,2251.0 797.4,2253.0 801.0,2255.8 804.6,2257.7 807.3,2259.9 809.2,2262.9 816.7,2271.3 821.2,2279.1 822.6,2284.5 824.6,2286.9 822.9,2292.9 819.7,2300.1 817.1,2304.3 813.6,2308.5 810.0,2311.1 806.4,2314.7 802.2,2317.2 791.4,2320.6 M903.0,2308.5 894.0,2308.7 884.4,2307.7 875.4,2305.6 864.6,2302.1 854.1,2297.7 846.7,2293.5 844.0,2291.1 842.7,2289.3 842.1,2287.5 842.3,2285.7 844.9,2282.1 850.0,2278.5 874.2,2264.9 883.8,2260.6 891.6,2258.6 899.4,2257.9 907.2,2258.6 914.4,2260.6 919.2,2262.9 923.4,2265.6 927.2,2268.9 930.2,2272.5 932.6,2276.7 934.1,2280.9 934.8,2285.7 934.4,2289.3 933.1,2292.9 930.7,2296.5 927.7,2299.5 924.0,2302.1 919.2,2304.6 914.4,2306.4 909.0,2307.7 903.0,2308.5 M793.8,2321.8 786.6,2322.2 780.0,2321.4 776.4,2321.5 772.2,2320.1 768.0,2319.4 764.0,2317.5 757.2,2311.5 751.1,2302.5 749.3,2297.7 748.6,2293.5 748.3,2282.1 749.3,2277.3 751.7,2273.7 753.0,2269.5 759.0,2260.7 762.0,2258.7 768.0,2253.0 773.4,2250.6 781.2,2248.8 789.0,2249.2 793.8,2250.8 798.0,2251.5 801.6,2253.9 804.6,2255.2 813.5,2264.1 817.8,2269.9 820.5,2272.5 822.6,2276.7 825.6,2280.7 827.4,2282.1 829.2,2282.7 831.0,2282.6 835.2,2281.1 853.2,2272.6 873.6,2261.4 880.2,2258.3 889.2,2255.6 897.6,2254.5 904.2,2254.7 910.8,2255.9 916.8,2257.8 922.8,2260.8 928.2,2264.7 932.3,2268.9 935.6,2273.7 937.9,2279.1 938.9,2283.9 938.8,2288.1 937.7,2292.3 935.3,2296.5 931.8,2300.3 927.3,2303.7 922.2,2306.4 915.6,2308.9 907.2,2310.7 898.8,2311.3 890.4,2311.0 880.8,2309.6 870.6,2307.1 858.0,2303.0 845.6,2298.3 833.4,2292.6 831.0,2292.1 828.6,2293.0 826.8,2294.3 819.1,2304.9 814.8,2309.7 810.6,2312.5 806.4,2316.6 803.4,2318.5 798.6,2319.7 793.8,2321.8 M790.8,2323.5 786.6,2323.9 780.0,2323.0 776.4,2323.1 772.2,2321.4 767.4,2320.8 762.0,2318.2 757.2,2313.6 752.4,2307.9 749.3,2302.5 747.7,2297.1 746.7,2282.7 748.0,2276.7 750.3,2272.5 751.4,2268.9 757.8,2259.3 762.1,2256.3 766.8,2251.0 772.2,2249.1 781.8,2247.1 785.4,2247.7 790.2,2247.6 799.2,2250.3 806.9,2254.5 814.3,2262.3 818.4,2268.1 822.1,2270.7 824.6,2274.9 826.2,2276.0 828.6,2276.6 835.8,2275.9 848.4,2271.4 857.6,2267.1 874.2,2257.7 883.8,2253.7 889.8,2252.3 896.4,2251.5 902.4,2251.5 908.4,2252.1 914.4,2253.6 919.8,2255.6 924.6,2258.0 929.4,2261.3 933.8,2265.3 937.2,2269.5 939.7,2273.7 941.6,2278.5 942.6,2283.9 942.5,2288.7 941.1,2293.5 938.6,2297.7 934.8,2301.8 930.0,2305.4 926.6,2307.3 923.4,2307.4 922.9,2307.9 922.8,2309.0 918.0,2310.7 910.8,2312.5 902.4,2313.5 894.0,2313.6 885.6,2312.8 869.4,2309.3 836.4,2299.0 830.4,2298.4 828.6,2298.8 826.8,2299.9 822.6,2303.5 814.8,2312.4 810.6,2314.7 804.6,2319.8 802.8,2320.6 799.2,2321.3 795.6,2323.1 790.8,2323.5 M789.6,2325.3 786.6,2325.6 780.6,2324.7 775.2,2324.4 771.6,2323.0 767.4,2322.2 760.8,2319.0 757.2,2316.0 754.8,2312.6 751.2,2309.3 748.0,2303.7 746.1,2297.1 745.2,2283.3 746.9,2275.5 749.2,2271.3 750.4,2267.1 753.8,2261.1 757.6,2257.5 761.4,2254.7 765.0,2250.6 766.8,2249.2 772.2,2247.4 775.8,2247.0 781.8,2245.4 786.0,2246.2 790.2,2245.7 799.2,2248.7 809.4,2254.3 812.4,2258.4 815.5,2261.1 817.8,2265.0 819.6,2267.1 823.2,2269.3 826.2,2272.3 829.8,2272.9 836.4,2272.5 848.9,2268.3 856.4,2264.7 873.6,2254.7 883.8,2250.7 889.8,2249.3 896.4,2248.6 903.0,2248.6 909.0,2249.3 915.0,2250.7 921.0,2252.8 926.4,2255.6 931.8,2259.2 936.0,2263.0 939.9,2267.7 942.8,2272.5 944.8,2277.3 946.0,2282.7 946.1,2288.1 944.9,2292.9 942.4,2297.7 937.8,2302.9 931.8,2307.3 923.4,2307.5 923.0,2307.9 922.8,2311.6 919.8,2312.6 912.6,2314.4 904.2,2315.5 895.8,2315.7 887.4,2315.2 872.4,2312.4 836.5,2302.5 831.0,2302.2 828.6,2302.7 824.4,2305.0 814.2,2315.3 810.0,2317.6 804.0,2322.1 796.2,2324.6 789.6,2325.3" fill="none" stroke="#5e5e5e" stroke-width="1.1" stroke-linejoin="round"/>
<path d="M811.5,2214.2h1.3v1.3h-1.3zM782.5,2209.9h1.3v1.3h-1.3zM818.9,2148.1h1.3v1.3h-1.3zM819.4,2135.3h1.3v1.3h-1.3zM798.9,2197.0h1.3v1.3h-1.3zM819.6,2186.9h1.3v1.3h-1.3zM776.4,2152.5h1.3v1.3h-1.3zM759.5,2202.5h1.3v1.3h-1.3zM781.8,2155.0h1.3v1.3h-1.3zM798.7,2153.5h1.3v1.3h-1.3zM777.4,2163.3h1.3v1.3h-1.3zM823.4,2224.8h1.3v1.3h-1.3zM793.1,2180.3h1.3v1.3h-1.3zM794.7,2196.1h1.3v1.3h-1.3zM779.9,2207.6h1.3v1.3h-1.3zM805.4,2184.7h1.3v1.3h-1.3zM778.1,2162.6h1.3v1.3h-1.3zM802.2,2142.8h1.3v1.3h-1.3zM783.5,2154.0h1.3v1.3h-1.3zM756.3,2197.3h1.3v1.3h-1.3zM786.4,2179.1h1.3v1.3h-1.3zM806.2,2130.2h1.3v1.3h-1.3zM785.5,2187.2h1.3v1.3h-1.3zM805.3,2143.3h1.3v1.3h-1.3zM802.7,2185.0h1.3v1.3h-1.3zM816.8,2214.4h1.3v1.3h-1.3zM787.0,2164.4h1.3v1.3h-1.3zM779.5,2147.9h1.3v1.3h-1.3zM785.1,2191.6h1.3v1.3h-1.3zM808.8,2166.9h1.3v1.3h-1.3zM817.6,2157.2h1.3v1.3h-1.3zM770.3,2152.7h1.3v1.3h-1.3zM819.1,2194.6h1.3v1.3h-1.3zM763.3,2194.7h1.3v1.3h-1.3zM797.3,2170.7h1.3v1.3h-1.3zM787.5,2168.5h1.3v1.3h-1.3zM785.1,2218.1h1.3v1.3h-1.3zM817.8,2169.3h1.3v1.3h-1.3zM771.0,2171.4h1.3v1.3h-1.3zM806.3,2189.0h1.3v1.3h-1.3zM774.5,2189.3h1.3v1.3h-1.3zM782.6,2194.1h1.3v1.3h-1.3zM778.2,2132.1h1.3v1.3h-1.3zM788.2,2201.7h1.3v1.3h-1.3zM763.2,2174.6h1.3v1.3h-1.3z" fill="#444"/>
<path d="M803.2,2166.2h1.3v1.3h-1.3zM800.6,2157.5h1.3v1.3h-1.3zM798.7,2202.6h1.3v1.3h-1.3zM793.9,2151.2h1.3v1.3h-1.3zM771.4,2169.7h1.3v1.3h-1.3zM778.0,2151.6h1.3v1.3h-1.3zM769.9,2157.3h1.3v1.3h-1.3zM795.5,2152.2h1.3v1.3h-1.3zM799.7,2196.9h1.3v1.3h-1.3zM792.1,2208.8h1.3v1.3h-1.3zM802.4,2188.4h1.3v1.3h-1.3zM781.6,2148.7h1.3v1.3h-1.3zM769.8,2187.9h1.3v1.3h-1.3zM769.5,2183.9h1.3v1.3h-1.3zM776.1,2199.6h1.3v1.3h-1.3zM804.1,2180.0h1.3v1.3h-1.3zM803.2,2176.6h1.3v1.3h-1.3zM783.4,2149.1h1.3v1.3h-1.3zM804.4,2174.3h1.3v1.3h-1.3zM770.3,2180.0h1.3v1.3h-1.3zM770.9,2190.0h1.3v1.3h-1.3zM806.6,2179.7h1.3v1.3h-1.3zM803.4,2162.6h1.3v1.3h-1.3zM804.8,2164.9h1.3v1.3h-1.3zM777.7,2155.5h1.3v1.3h-1.3zM798.8,2201.9h1.3v1.3h-1.3zM803.8,2183.0h1.3v1.3h-1.3zM780.8,2213.3h1.3v1.3h-1.3zM794.8,2209.0h1.3v1.3h-1.3zM805.4,2162.5h1.3v1.3h-1.3zM795.5,2203.7h1.3v1.3h-1.3zM786.0,2141.4h1.3v1.3h-1.3zM778.5,2205.6h1.3v1.3h-1.3zM778.0,2210.5h1.3v1.3h-1.3zM774.2,2201.5h1.3v1.3h-1.3zM795.4,2152.7h1.3v1.3h-1.3zM788.3,2211.6h1.3v1.3h-1.3zM775.1,2157.0h1.3v1.3h-1.3zM794.6,2150.4h1.3v1.3h-1.3zM808.0,2165.2h1.3v1.3h-1.3zM769.1,2179.1h1.3v1.3h-1.3zM782.0,2204.2h1.3v1.3h-1.3zM769.5,2161.4h1.3v1.3h-1.3zM796.5,2204.7h1.3v1.3h-1.3zM770.7,2188.3h1.3v1.3h-1.3zM802.9,2184.9h1.3v1.3h-1.3zM770.4,2189.3h1.3v1.3h-1.3zM807.5,2178.6h1.3v1.3h-1.3zM797.5,2150.4h1.3v1.3h-1.3zM768.9,2193.5h1.3v1.3h-1.3zM783.3,2208.0h1.3v1.3h-1.3zM770.1,2193.5h1.3v1.3h-1.3zM776.3,2207.1h1.3v1.3h-1.3zM795.2,2151.1h1.3v1.3h-1.3zM801.4,2161.2h1.3v1.3h-1.3zM769.9,2188.9h1.3v1.3h-1.3zM771.0,2166.6h1.3v1.3h-1.3zM802.3,2193.4h1.3v1.3h-1.3zM776.4,2214.0h1.3v1.3h-1.3zM802.2,2161.3h1.3v1.3h-1.3zM802.6,2148.1h1.3v1.3h-1.3zM774.3,2157.8h1.3v1.3h-1.3zM794.6,2146.1h1.3v1.3h-1.3zM773.2,2158.9h1.3v1.3h-1.3zM780.4,2214.9h1.3v1.3h-1.3zM767.8,2182.0h1.3v1.3h-1.3zM776.8,2154.9h1.3v1.3h-1.3zM801.1,2157.0h1.3v1.3h-1.3zM804.6,2183.3h1.3v1.3h-1.3zM767.8,2189.2h1.3v1.3h-1.3zM802.2,2193.3h1.3v1.3h-1.3zM770.8,2162.7h1.3v1.3h-1.3zM769.8,2194.9h1.3v1.3h-1.3zM773.6,2195.4h1.3v1.3h-1.3zM801.2,2199.0h1.3v1.3h-1.3zM766.2,2167.0h1.3v1.3h-1.3zM800.4,2197.4h1.3v1.3h-1.3zM801.8,2195.1h1.3v1.3h-1.3zM771.1,2172.7h1.3v1.3h-1.3zM768.5,2166.9h1.3v1.3h-1.3zM789.6,2207.4h1.3v1.3h-1.3zM770.2,2175.6h1.3v1.3h-1.3zM771.0,2161.1h1.3v1.3h-1.3zM802.8,2191.3h1.3v1.3h-1.3zM769.7,2189.7h1.3v1.3h-1.3zM782.8,2146.6h1.3v1.3h-1.3zM788.0,2139.2h1.3v1.3h-1.3zM783.1,2141.1h1.3v1.3h-1.3zM801.1,2195.9h1.3v1.3h-1.3zM795.9,2206.0h1.3v1.3h-1.3z" fill="#333"/>
<path d="M955.2,2199.4h1.3v1.3h-1.3zM933.0,2169.6h1.3v1.3h-1.3zM933.1,2164.0h1.3v1.3h-1.3zM868.4,2186.1h1.3v1.3h-1.3zM841.8,2201.6h1.3v1.3h-1.3zM865.6,2181.0h1.3v1.3h-1.3zM924.9,2189.8h1.3v1.3h-1.3zM946.6,2203.5h1.3v1.3h-1.3zM944.7,2199.4h1.3v1.3h-1.3zM950.1,2221.0h1.3v1.3h-1.3zM860.2,2212.2h1.3v1.3h-1.3zM881.0,2213.5h1.3v1.3h-1.3zM921.7,2217.8h1.3v1.3h-1.3zM854.7,2186.1h1.3v1.3h-1.3zM928.5,2226.4h1.3v1.3h-1.3zM926.6,2163.0h1.3v1.3h-1.3zM912.5,2167.0h1.3v1.3h-1.3zM905.9,2216.2h1.3v1.3h-1.3zM853.6,2224.8h1.3v1.3h-1.3zM921.0,2177.8h1.3v1.3h-1.3zM863.2,2191.3h1.3v1.3h-1.3zM940.6,2200.7h1.3v1.3h-1.3zM853.6,2161.5h1.3v1.3h-1.3zM853.3,2216.0h1.3v1.3h-1.3zM862.2,2198.8h1.3v1.3h-1.3zM874.8,2208.1h1.3v1.3h-1.3zM885.7,2170.1h1.3v1.3h-1.3zM945.0,2197.7h1.3v1.3h-1.3zM922.7,2216.6h1.3v1.3h-1.3zM953.9,2161.0h1.3v1.3h-1.3zM881.1,2170.6h1.3v1.3h-1.3zM900.2,2221.1h1.3v1.3h-1.3zM936.1,2162.5h1.3v1.3h-1.3zM861.9,2217.3h1.3v1.3h-1.3zM921.5,2187.5h1.3v1.3h-1.3zM897.1,2171.1h1.3v1.3h-1.3zM941.4,2187.5h1.3v1.3h-1.3zM944.8,2202.8h1.3v1.3h-1.3zM849.1,2183.0h1.3v1.3h-1.3zM866.0,2222.6h1.3v1.3h-1.3zM910.7,2163.1h1.3v1.3h-1.3zM860.4,2185.3h1.3v1.3h-1.3zM896.1,2200.4h1.3v1.3h-1.3zM886.5,2184.8h1.3v1.3h-1.3zM840.7,2200.5h1.3v1.3h-1.3zM880.1,2161.4h1.3v1.3h-1.3zM895.1,2229.0h1.3v1.3h-1.3zM845.4,2170.2h1.3v1.3h-1.3zM920.5,2179.1h1.3v1.3h-1.3zM872.8,2195.0h1.3v1.3h-1.3zM871.4,2199.8h1.3v1.3h-1.3zM903.4,2227.0h1.3v1.3h-1.3zM959.1,2162.4h1.3v1.3h-1.3zM907.3,2214.0h1.3v1.3h-1.3zM944.7,2214.2h1.3v1.3h-1.3zM916.0,2204.4h1.3v1.3h-1.3zM883.5,2179.7h1.3v1.3h-1.3zM935.4,2221.1h1.3v1.3h-1.3zM952.6,2207.7h1.3v1.3h-1.3zM876.5,2213.4h1.3v1.3h-1.3zM928.7,2195.6h1.3v1.3h-1.3zM916.2,2184.5h1.3v1.3h-1.3zM906.1,2188.4h1.3v1.3h-1.3zM847.3,2183.6h1.3v1.3h-1.3zM878.8,2229.2h1.3v1.3h-1.3zM897.8,2185.7h1.3v1.3h-1.3zM869.2,2176.4h1.3v1.3h-1.3zM881.9,2169.5h1.3v1.3h-1.3zM840.9,2221.0h1.3v1.3h-1.3zM894.4,2191.2h1.3v1.3h-1.3z" fill="#555"/>
<path d="M919.6,2265.2h1.3v1.3h-1.3zM863.6,2241.6h1.3v1.3h-1.3zM882.2,2265.8h1.3v1.3h-1.3zM941.7,2290.1h1.3v1.3h-1.3zM971.2,2269.0h1.3v1.3h-1.3zM969.0,2293.3h1.3v1.3h-1.3zM851.2,2252.9h1.3v1.3h-1.3zM921.3,2333.7h1.3v1.3h-1.3zM890.0,2312.4h1.3v1.3h-1.3zM900.0,2321.8h1.3v1.3h-1.3zM849.5,2283.5h1.3v1.3h-1.3zM965.9,2262.6h1.3v1.3h-1.3zM876.1,2237.3h1.3v1.3h-1.3zM863.0,2261.8h1.3v1.3h-1.3zM938.6,2256.8h1.3v1.3h-1.3zM895.9,2255.0h1.3v1.3h-1.3zM924.4,2321.4h1.3v1.3h-1.3zM930.7,2254.7h1.3v1.3h-1.3zM942.7,2331.3h1.3v1.3h-1.3zM924.1,2242.9h1.3v1.3h-1.3zM953.3,2322.6h1.3v1.3h-1.3zM887.8,2248.7h1.3v1.3h-1.3zM866.3,2288.7h1.3v1.3h-1.3zM962.6,2299.0h1.3v1.3h-1.3zM969.2,2256.2h1.3v1.3h-1.3zM885.7,2309.9h1.3v1.3h-1.3zM930.9,2275.5h1.3v1.3h-1.3zM935.1,2268.8h1.3v1.3h-1.3zM848.0,2276.4h1.3v1.3h-1.3zM846.4,2297.6h1.3v1.3h-1.3zM886.8,2284.4h1.3v1.3h-1.3zM923.7,2260.7h1.3v1.3h-1.3zM904.9,2236.4h1.3v1.3h-1.3zM969.5,2291.4h1.3v1.3h-1.3zM978.3,2240.6h1.3v1.3h-1.3zM926.0,2307.4h1.3v1.3h-1.3zM886.1,2244.3h1.3v1.3h-1.3zM861.9,2249.3h1.3v1.3h-1.3zM947.4,2244.0h1.3v1.3h-1.3zM954.0,2277.3h1.3v1.3h-1.3zM915.4,2293.8h1.3v1.3h-1.3zM917.7,2300.7h1.3v1.3h-1.3zM924.2,2268.1h1.3v1.3h-1.3zM943.8,2260.8h1.3v1.3h-1.3zM939.6,2311.3h1.3v1.3h-1.3zM948.6,2265.9h1.3v1.3h-1.3zM948.2,2332.7h1.3v1.3h-1.3zM903.4,2262.8h1.3v1.3h-1.3zM913.3,2329.1h1.3v1.3h-1.3zM858.5,2235.9h1.3v1.3h-1.3z" fill="#555"/>
<ellipse cx="787" cy="2178" rx="16.2" ry="27.5" fill="#fff" stroke="#6e6e6e" stroke-width="1.1"/>
<ellipse cx="786.5" cy="2177" rx="5" ry="7" fill="none" stroke="#6e6e6e" stroke-width="1.1"/>
<path d="M697.8,2131.8H705.8 M697.8,2189.5H705.8 M697.8,2253.9H705.8 M697.8,2295.1H705.8 M697.8,2333.4H705.8 M701.3,2172.1H705.8 M701.3,2162.0H705.8 M701.3,2154.7H705.8 M701.3,2149.1H705.8 M701.3,2144.6H705.8 M701.3,2140.7H705.8 M701.3,2137.4H705.8 M701.3,2134.4H705.8 M701.3,2234.5H705.8 M701.3,2223.2H705.8 M701.3,2215.1H705.8 M701.3,2208.9H705.8 M701.3,2203.8H705.8 M701.3,2199.5H705.8 M701.3,2195.7H705.8 M701.3,2192.4H705.8 M701.3,2114.3H705.8 M701.3,2121.5H705.8 M701.3,2126.3H705.8 M701.3,2262.8H705.8 M701.3,2270.0H705.8 M701.3,2277.2H705.8 M701.3,2281.9H705.8 M701.3,2286.7H705.8 M701.3,2303.5H705.8 M701.3,2308.3H705.8 M701.3,2315.5H705.8 M701.3,2322.7H705.8 M701.3,2327.4H705.8 M820.8,2349.0V2357.0 M898.0,2349.0V2357.0 M963.1,2349.0V2357.0 M844.0,2349.0V2353.5 M857.6,2349.0V2353.5 M867.3,2349.0V2353.5 M874.8,2349.0V2353.5 M880.9,2349.0V2353.5 M886.0,2349.0V2353.5 M890.5,2349.0V2353.5 M894.5,2349.0V2353.5 M917.6,2349.0V2353.5 M929.1,2349.0V2353.5 M937.2,2349.0V2353.5 M943.5,2349.0V2353.5 M948.7,2349.0V2353.5 M953.0,2349.0V2353.5 M956.8,2349.0V2353.5 M960.1,2349.0V2353.5 M709.8,2349.0V2353.5 M716.4,2349.0V2353.5 M723.0,2349.0V2353.5 M729.6,2349.0V2353.5 M736.2,2349.0V2353.5 M742.8,2349.0V2353.5 M770.2,2349.0V2353.5 M776.8,2349.0V2353.5 M783.4,2349.0V2353.5 M790.0,2349.0V2353.5 M796.6,2349.0V2353.5 M803.2,2349.0V2353.5 M809.8,2349.0V2353.5 M816.4,2349.0V2353.5 M982.6,2349.0V2353.5" stroke="#333" stroke-width="1.6" fill="none"/>
<rect x="698.8" y="2290.11" width="6" height="10" fill="#222" stroke="none" stroke-width="0"/>
<rect x="747.2" y="2350" width="20" height="5" fill="#222" stroke="none" stroke-width="0"/>
<rect x="705.8" y="2109.5" width="286.8" height="239.5" fill="none" stroke="#555" stroke-width="1.6"/>
<line x1="834.6" y1="2109.5" x2="834.6" y2="2349" stroke="#111" stroke-width="2.1"/>
<line x1="705.8" y1="2232.7" x2="992.6" y2="2232.7" stroke="#111" stroke-width="2.1"/>
<text x="757.2" y="2396" font-size="26" text-anchor="middle" font-family="'Noto Sans CJK KR', sans-serif">0</text>
<text x="801.3" y="2396" font-size="26" font-family="'Noto Sans CJK KR', sans-serif">10<tspan font-size="17.5" dy="-8">3</tspan></text>
<text x="879.5" y="2396" font-size="26" font-family="'Noto Sans CJK KR', sans-serif">10<tspan font-size="17.5" dy="-8">4</tspan></text>
<text x="944.1" y="2396" font-size="26" font-family="'Noto Sans CJK KR', sans-serif">10<tspan font-size="17.5" dy="-8">5</tspan></text>
<text x="715" y="2143" font-size="26">5.4</text>
<text x="936" y="2143" font-size="26">1.6</text>
<text x="929.7" y="2333.6" font-size="26">23.0</text>
<line x1="225.6" y1="1422" x2="225.6" y2="2424.8" stroke="#000" stroke-width="4"/>
<line x1="223.6" y1="2423" x2="990" y2="2423" stroke="#000" stroke-width="3.6"/>
<path d="M212.3,1444.8 L225.6,1421 L239,1444.8" fill="none" stroke="#000" stroke-width="4" stroke-linecap="round" stroke-linejoin="miter"/>
<path d="M966.3,2410 L991.5,2423 L966.3,2436.3" fill="none" stroke="#000" stroke-width="3.8" stroke-linecap="round" stroke-linejoin="miter"/>
<text x="191.3" y="1896.2" font-size="45" text-anchor="middle" transform="rotate(-90 191.3 1896.2)">IL-17 -APC</text>
<text x="295" y="1534.8" font-size="46" text-anchor="middle" transform="rotate(-90 295 1534.8)">CNS</text>
<text x="295" y="1891.3" font-size="46" text-anchor="middle" transform="rotate(-90 295 1891.3)">LN</text>
<text x="294.8" y="2222.5" font-size="46" text-anchor="middle" transform="rotate(-90 294.8 2222.5)">Spleen</text>
<text x="524.4" y="1402.9" font-size="45" text-anchor="middle">WT</text>
<text x="848" y="1402.9" font-size="45" text-anchor="middle"><tspan font-style="italic">Plgf</tspan>-KO</text>
<text x="542" y="2483.6" font-size="45">IFN-γ-FITC</text>
</svg>
</body></html>
